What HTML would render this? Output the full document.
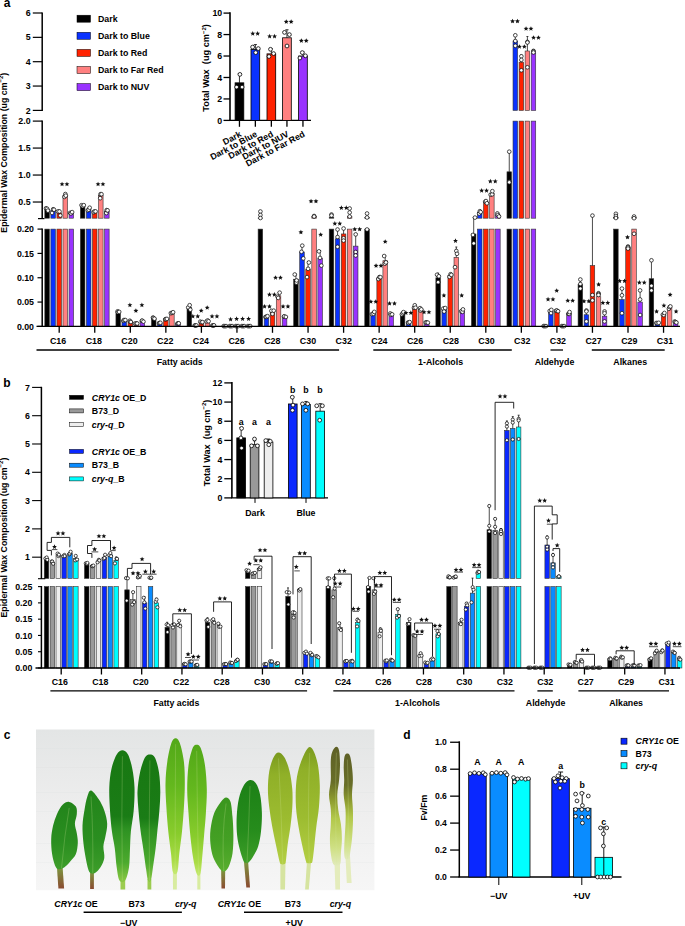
<!DOCTYPE html><html><head><meta charset="utf-8"><style>html,body{margin:0;padding:0;background:#fff;}svg{display:block;font-family:"Liberation Sans", sans-serif;}</style></head><body>
<svg width="685" height="926" viewBox="0 0 685 926">
<defs><linearGradient id="bg" x1="0" y1="0" x2="0" y2="1"><stop offset="0" stop-color="#e3e5e5"/><stop offset="0.5" stop-color="#eeeeee"/><stop offset="1" stop-color="#f6f6f6"/></linearGradient><linearGradient id="g1" x1="0" y1="0" x2="0" y2="1"><stop offset="0" stop-color="#22841a"/><stop offset="0.6" stop-color="#2a8e20"/><stop offset="1" stop-color="#3e9e2a"/></linearGradient><linearGradient id="g2" x1="0" y1="0" x2="0" y2="1"><stop offset="0" stop-color="#187812"/><stop offset="0.5" stop-color="#1a7c16"/><stop offset="0.6" stop-color="#2e9222"/><stop offset="0.85" stop-color="#4caa2e"/><stop offset="1" stop-color="#8cc844"/></linearGradient><linearGradient id="g3" x1="0" y1="0" x2="0" y2="1"><stop offset="0" stop-color="#52a818"/><stop offset="0.35" stop-color="#64b81e"/><stop offset="0.7" stop-color="#88cc2c"/><stop offset="0.9" stop-color="#aadc46"/><stop offset="1" stop-color="#c6ea72"/></linearGradient><linearGradient id="g4" x1="0" y1="0" x2="0" y2="1"><stop offset="0" stop-color="#3a961e"/><stop offset="0.6" stop-color="#44a024"/><stop offset="1" stop-color="#58ae2e"/></linearGradient><linearGradient id="g4b" x1="0" y1="0" x2="0" y2="1"><stop offset="0" stop-color="#1c8016"/><stop offset="0.6" stop-color="#268c1c"/><stop offset="1" stop-color="#3e9e28"/></linearGradient><linearGradient id="g5" x1="0" y1="0" x2="0" y2="1"><stop offset="0" stop-color="#7a9a1e"/><stop offset="0.2" stop-color="#90b028"/><stop offset="0.6" stop-color="#9cbc30"/><stop offset="1" stop-color="#b4cf44"/></linearGradient><linearGradient id="g6" x1="0" y1="0" x2="0" y2="1"><stop offset="0" stop-color="#5e6026"/><stop offset="0.3" stop-color="#686e28"/><stop offset="0.45" stop-color="#8e9c30"/><stop offset="0.6" stop-color="#b2c84a"/><stop offset="0.85" stop-color="#cfe084"/><stop offset="1" stop-color="#e2ebbc"/></linearGradient><linearGradient id="p1" x1="0" y1="0" x2="0" y2="1"><stop offset="0" stop-color="#7c9a40"/><stop offset="1" stop-color="#8a4a30"/></linearGradient></defs>
<rect x="44.83" y="229.1" width="4.55" height="97.3" fill="#000000" stroke="#333" stroke-width="0.6"/>
<rect x="44.83" y="209.25" width="4.55" height="8.95" fill="#000000" stroke="#333" stroke-width="0.6"/>
<rect x="50.88" y="229.1" width="4.55" height="97.3" fill="#0a32ff" stroke="#333" stroke-width="0.6"/>
<rect x="50.88" y="210.65" width="4.55" height="7.55" fill="#0a32ff" stroke="#333" stroke-width="0.6"/>
<rect x="56.93" y="229.1" width="4.55" height="97.3" fill="#ff2200" stroke="#333" stroke-width="0.6"/>
<rect x="56.93" y="212.81" width="4.55" height="5.39" fill="#ff2200" stroke="#333" stroke-width="0.6"/>
<rect x="62.98" y="229.1" width="4.55" height="97.3" fill="#ff8080" stroke="#333" stroke-width="0.6"/>
<rect x="62.98" y="195.54" width="4.55" height="22.66" fill="#ff8080" stroke="#333" stroke-width="0.6"/>
<rect x="69.03" y="229.1" width="4.55" height="97.3" fill="#9933ff" stroke="#333" stroke-width="0.6"/>
<rect x="69.03" y="212.81" width="4.55" height="5.39" fill="#9933ff" stroke="#333" stroke-width="0.6"/>
<rect x="80.38" y="229.1" width="4.55" height="97.3" fill="#000000" stroke="#333" stroke-width="0.6"/>
<rect x="80.38" y="205.52" width="4.55" height="12.68" fill="#000000" stroke="#333" stroke-width="0.6"/>
<rect x="86.42" y="229.1" width="4.55" height="97.3" fill="#0a32ff" stroke="#333" stroke-width="0.6"/>
<rect x="86.42" y="209.25" width="4.55" height="8.95" fill="#0a32ff" stroke="#333" stroke-width="0.6"/>
<rect x="92.47" y="229.1" width="4.55" height="97.3" fill="#ff2200" stroke="#333" stroke-width="0.6"/>
<rect x="92.47" y="211.73" width="4.55" height="6.47" fill="#ff2200" stroke="#333" stroke-width="0.6"/>
<rect x="98.53" y="229.1" width="4.55" height="97.3" fill="#ff8080" stroke="#333" stroke-width="0.6"/>
<rect x="98.53" y="195.54" width="4.55" height="22.66" fill="#ff8080" stroke="#333" stroke-width="0.6"/>
<rect x="104.58" y="229.1" width="4.55" height="97.3" fill="#9933ff" stroke="#333" stroke-width="0.6"/>
<rect x="104.58" y="211.19" width="4.55" height="7.01" fill="#9933ff" stroke="#333" stroke-width="0.6"/>
<rect x="115.93" y="311.81" width="4.55" height="14.59" fill="#000000" stroke="#333" stroke-width="0.6"/>
<rect x="121.98" y="320.32" width="4.55" height="6.08" fill="#0a32ff" stroke="#333" stroke-width="0.6"/>
<rect x="128.03" y="321.53" width="4.55" height="4.87" fill="#ff2200" stroke="#333" stroke-width="0.6"/>
<rect x="134.08" y="323.48" width="4.55" height="2.92" fill="#ff8080" stroke="#333" stroke-width="0.6"/>
<rect x="140.12" y="321.05" width="4.55" height="5.35" fill="#9933ff" stroke="#333" stroke-width="0.6"/>
<rect x="151.47" y="318.13" width="4.55" height="8.27" fill="#000000" stroke="#333" stroke-width="0.6"/>
<rect x="157.53" y="322.99" width="4.55" height="3.41" fill="#0a32ff" stroke="#333" stroke-width="0.6"/>
<rect x="163.57" y="319.1" width="4.55" height="7.3" fill="#ff2200" stroke="#333" stroke-width="0.6"/>
<rect x="169.62" y="312.78" width="4.55" height="13.62" fill="#ff8080" stroke="#333" stroke-width="0.6"/>
<rect x="175.67" y="323.48" width="4.55" height="2.92" fill="#9933ff" stroke="#333" stroke-width="0.6"/>
<rect x="187.02" y="307.43" width="4.55" height="18.97" fill="#000000" stroke="#333" stroke-width="0.6"/>
<rect x="193.07" y="325.43" width="4.55" height="0.97" fill="#0a32ff" stroke="#333" stroke-width="0.6"/>
<rect x="199.12" y="322.02" width="4.55" height="4.38" fill="#ff2200" stroke="#333" stroke-width="0.6"/>
<rect x="205.17" y="321.05" width="4.55" height="5.35" fill="#ff8080" stroke="#333" stroke-width="0.6"/>
<rect x="211.22" y="325.43" width="4.55" height="0.97" fill="#9933ff" stroke="#333" stroke-width="0.6"/>
<rect x="222.57" y="325.91" width="4.55" height="0.49" fill="#000000" stroke="#333" stroke-width="0.6"/>
<rect x="228.62" y="325.91" width="4.55" height="0.49" fill="#0a32ff" stroke="#333" stroke-width="0.6"/>
<rect x="234.67" y="325.91" width="4.55" height="0.49" fill="#ff2200" stroke="#333" stroke-width="0.6"/>
<rect x="240.72" y="325.91" width="4.55" height="0.49" fill="#ff8080" stroke="#333" stroke-width="0.6"/>
<rect x="246.77" y="325.91" width="4.55" height="0.49" fill="#9933ff" stroke="#333" stroke-width="0.6"/>
<rect x="258.12" y="229.1" width="4.55" height="97.3" fill="#000000" stroke="#333" stroke-width="0.6"/>
<rect x="258.12" y="218.04" width="4.55" height="0.16" fill="#000000" stroke="#333" stroke-width="0.6"/>
<rect x="264.18" y="316.67" width="4.55" height="9.73" fill="#0a32ff" stroke="#333" stroke-width="0.6"/>
<rect x="270.23" y="311.81" width="4.55" height="14.59" fill="#ff2200" stroke="#333" stroke-width="0.6"/>
<rect x="276.27" y="295.75" width="4.55" height="30.65" fill="#ff8080" stroke="#333" stroke-width="0.6"/>
<rect x="282.32" y="316.67" width="4.55" height="9.73" fill="#9933ff" stroke="#333" stroke-width="0.6"/>
<rect x="293.67" y="279.21" width="4.55" height="47.19" fill="#000000" stroke="#333" stroke-width="0.6"/>
<rect x="299.72" y="251.97" width="4.55" height="74.43" fill="#0a32ff" stroke="#333" stroke-width="0.6"/>
<rect x="305.77" y="269.48" width="4.55" height="56.92" fill="#ff2200" stroke="#333" stroke-width="0.6"/>
<rect x="311.82" y="229.1" width="4.55" height="97.3" fill="#ff8080" stroke="#333" stroke-width="0.6"/>
<rect x="311.82" y="216.58" width="4.55" height="1.62" fill="#ff8080" stroke="#333" stroke-width="0.6"/>
<rect x="317.87" y="258.29" width="4.55" height="68.11" fill="#9933ff" stroke="#333" stroke-width="0.6"/>
<rect x="329.22" y="229.1" width="4.55" height="97.3" fill="#000000" stroke="#333" stroke-width="0.6"/>
<rect x="329.22" y="217.12" width="4.55" height="1.08" fill="#000000" stroke="#333" stroke-width="0.6"/>
<rect x="335.27" y="238.83" width="4.55" height="87.57" fill="#0a32ff" stroke="#333" stroke-width="0.6"/>
<rect x="341.32" y="233.96" width="4.55" height="92.44" fill="#ff2200" stroke="#333" stroke-width="0.6"/>
<rect x="347.37" y="229.1" width="4.55" height="97.3" fill="#ff8080" stroke="#333" stroke-width="0.6"/>
<rect x="347.37" y="216.58" width="4.55" height="1.62" fill="#ff8080" stroke="#333" stroke-width="0.6"/>
<rect x="353.42" y="246.13" width="4.55" height="80.27" fill="#9933ff" stroke="#333" stroke-width="0.6"/>
<rect x="364.77" y="229.1" width="4.55" height="97.3" fill="#000000" stroke="#333" stroke-width="0.6"/>
<rect x="364.77" y="217.66" width="4.55" height="0.54" fill="#000000" stroke="#333" stroke-width="0.6"/>
<rect x="370.82" y="313.26" width="4.55" height="13.14" fill="#0a32ff" stroke="#333" stroke-width="0.6"/>
<rect x="376.88" y="277.75" width="4.55" height="48.65" fill="#ff2200" stroke="#333" stroke-width="0.6"/>
<rect x="382.92" y="260.72" width="4.55" height="65.68" fill="#ff8080" stroke="#333" stroke-width="0.6"/>
<rect x="388.97" y="314.24" width="4.55" height="12.16" fill="#9933ff" stroke="#333" stroke-width="0.6"/>
<rect x="400.32" y="313.26" width="4.55" height="13.14" fill="#000000" stroke="#333" stroke-width="0.6"/>
<rect x="406.38" y="322.51" width="4.55" height="3.89" fill="#0a32ff" stroke="#333" stroke-width="0.6"/>
<rect x="412.43" y="306.94" width="4.55" height="19.46" fill="#ff2200" stroke="#333" stroke-width="0.6"/>
<rect x="418.47" y="309.37" width="4.55" height="17.03" fill="#ff8080" stroke="#333" stroke-width="0.6"/>
<rect x="424.52" y="322.51" width="4.55" height="3.89" fill="#9933ff" stroke="#333" stroke-width="0.6"/>
<rect x="435.87" y="277.75" width="4.55" height="48.65" fill="#000000" stroke="#333" stroke-width="0.6"/>
<rect x="441.92" y="309.37" width="4.55" height="17.03" fill="#0a32ff" stroke="#333" stroke-width="0.6"/>
<rect x="447.97" y="275.32" width="4.55" height="51.08" fill="#ff2200" stroke="#333" stroke-width="0.6"/>
<rect x="454.02" y="257.32" width="4.55" height="69.08" fill="#ff8080" stroke="#333" stroke-width="0.6"/>
<rect x="460.07" y="310.83" width="4.55" height="15.57" fill="#9933ff" stroke="#333" stroke-width="0.6"/>
<rect x="471.42" y="233.96" width="4.55" height="92.44" fill="#000000" stroke="#333" stroke-width="0.6"/>
<rect x="477.47" y="229.1" width="4.55" height="97.3" fill="#0a32ff" stroke="#333" stroke-width="0.6"/>
<rect x="477.47" y="212.27" width="4.55" height="5.93" fill="#0a32ff" stroke="#333" stroke-width="0.6"/>
<rect x="483.52" y="229.1" width="4.55" height="97.3" fill="#ff2200" stroke="#333" stroke-width="0.6"/>
<rect x="483.52" y="202.02" width="4.55" height="16.18" fill="#ff2200" stroke="#333" stroke-width="0.6"/>
<rect x="489.57" y="229.1" width="4.55" height="97.3" fill="#ff8080" stroke="#333" stroke-width="0.6"/>
<rect x="489.57" y="193.39" width="4.55" height="24.81" fill="#ff8080" stroke="#333" stroke-width="0.6"/>
<rect x="495.62" y="229.1" width="4.55" height="97.3" fill="#9933ff" stroke="#333" stroke-width="0.6"/>
<rect x="495.62" y="214.96" width="4.55" height="3.24" fill="#9933ff" stroke="#333" stroke-width="0.6"/>
<rect x="506.98" y="229.1" width="4.55" height="97.3" fill="#000000" stroke="#333" stroke-width="0.6"/>
<rect x="506.98" y="171.81" width="4.55" height="46.39" fill="#000000" stroke="#333" stroke-width="0.6"/>
<rect x="513.02" y="229.1" width="4.55" height="97.3" fill="#0a32ff" stroke="#333" stroke-width="0.6"/>
<rect x="513.02" y="121.1" width="4.55" height="97.1" fill="#0a32ff" stroke="#333" stroke-width="0.6"/>
<rect x="513.02" y="41" width="4.55" height="69.4" fill="#0a32ff" stroke="#333" stroke-width="0.6"/>
<rect x="519.08" y="229.1" width="4.55" height="97.3" fill="#ff2200" stroke="#333" stroke-width="0.6"/>
<rect x="519.08" y="121.1" width="4.55" height="97.1" fill="#ff2200" stroke="#333" stroke-width="0.6"/>
<rect x="519.08" y="62.19" width="4.55" height="48.21" fill="#ff2200" stroke="#333" stroke-width="0.6"/>
<rect x="525.12" y="229.1" width="4.55" height="97.3" fill="#ff8080" stroke="#333" stroke-width="0.6"/>
<rect x="525.12" y="121.1" width="4.55" height="97.1" fill="#ff8080" stroke="#333" stroke-width="0.6"/>
<rect x="525.12" y="50.99" width="4.55" height="59.41" fill="#ff8080" stroke="#333" stroke-width="0.6"/>
<rect x="531.18" y="229.1" width="4.55" height="97.3" fill="#9933ff" stroke="#333" stroke-width="0.6"/>
<rect x="531.18" y="121.1" width="4.55" height="97.1" fill="#9933ff" stroke="#333" stroke-width="0.6"/>
<rect x="531.18" y="52.93" width="4.55" height="57.47" fill="#9933ff" stroke="#333" stroke-width="0.6"/>
<rect x="548.57" y="311.32" width="4.55" height="15.08" fill="#0a32ff" stroke="#333" stroke-width="0.6"/>
<rect x="554.62" y="310.83" width="4.55" height="15.57" fill="#ff2200" stroke="#333" stroke-width="0.6"/>
<rect x="566.73" y="313.26" width="4.55" height="13.14" fill="#9933ff" stroke="#333" stroke-width="0.6"/>
<rect x="578.08" y="284.56" width="4.55" height="41.84" fill="#000000" stroke="#333" stroke-width="0.6"/>
<rect x="584.12" y="314.72" width="4.55" height="11.68" fill="#0a32ff" stroke="#333" stroke-width="0.6"/>
<rect x="590.18" y="265.59" width="4.55" height="60.81" fill="#ff2200" stroke="#333" stroke-width="0.6"/>
<rect x="596.23" y="296.72" width="4.55" height="29.68" fill="#ff8080" stroke="#333" stroke-width="0.6"/>
<rect x="602.28" y="316.18" width="4.55" height="10.22" fill="#9933ff" stroke="#333" stroke-width="0.6"/>
<rect x="613.62" y="229.1" width="4.55" height="97.3" fill="#000000" stroke="#333" stroke-width="0.6"/>
<rect x="613.62" y="217.66" width="4.55" height="0.54" fill="#000000" stroke="#333" stroke-width="0.6"/>
<rect x="619.67" y="299.64" width="4.55" height="26.76" fill="#0a32ff" stroke="#333" stroke-width="0.6"/>
<rect x="625.73" y="247.59" width="4.55" height="78.81" fill="#ff2200" stroke="#333" stroke-width="0.6"/>
<rect x="631.77" y="229.1" width="4.55" height="97.3" fill="#ff8080" stroke="#333" stroke-width="0.6"/>
<rect x="631.77" y="217.66" width="4.55" height="0.54" fill="#ff8080" stroke="#333" stroke-width="0.6"/>
<rect x="637.83" y="302.07" width="4.55" height="24.32" fill="#9933ff" stroke="#333" stroke-width="0.6"/>
<rect x="649.17" y="278.72" width="4.55" height="47.68" fill="#000000" stroke="#333" stroke-width="0.6"/>
<rect x="655.22" y="322.99" width="4.55" height="3.41" fill="#0a32ff" stroke="#333" stroke-width="0.6"/>
<rect x="661.27" y="314.24" width="4.55" height="12.16" fill="#ff2200" stroke="#333" stroke-width="0.6"/>
<rect x="667.32" y="307.43" width="4.55" height="18.97" fill="#ff8080" stroke="#333" stroke-width="0.6"/>
<rect x="673.38" y="322.02" width="4.55" height="4.38" fill="#9933ff" stroke="#333" stroke-width="0.6"/>
<line x1="47.1" y1="209.25" x2="47.1" y2="207.77" stroke="#000" stroke-width="0.7"/>
<line x1="46.1" y1="207.77" x2="48.1" y2="207.77" stroke="#000" stroke-width="0.7"/>
<circle cx="46.01" cy="208.3" r="1.85" fill="#fff" stroke="#000" stroke-width="0.7"/>
<circle cx="47.11" cy="208.78" r="1.85" fill="#fff" stroke="#000" stroke-width="0.7"/>
<circle cx="47.92" cy="210.65" r="1.85" fill="#fff" stroke="#000" stroke-width="0.7"/>
<line x1="53.15" y1="210.65" x2="53.15" y2="208.23" stroke="#000" stroke-width="0.7"/>
<line x1="52.15" y1="208.23" x2="54.15" y2="208.23" stroke="#000" stroke-width="0.7"/>
<circle cx="52.05" cy="212.95" r="1.85" fill="#fff" stroke="#000" stroke-width="0.7"/>
<circle cx="53.15" cy="209.28" r="1.85" fill="#fff" stroke="#000" stroke-width="0.7"/>
<circle cx="54.01" cy="209.71" r="1.85" fill="#fff" stroke="#000" stroke-width="0.7"/>
<line x1="59.2" y1="212.81" x2="59.2" y2="209.97" stroke="#000" stroke-width="0.7"/>
<line x1="58.2" y1="209.97" x2="60.2" y2="209.97" stroke="#000" stroke-width="0.7"/>
<circle cx="57.97" cy="211.43" r="1.85" fill="#fff" stroke="#000" stroke-width="0.7"/>
<circle cx="59.47" cy="211.47" r="1.85" fill="#fff" stroke="#000" stroke-width="0.7"/>
<circle cx="60.29" cy="215.51" r="1.85" fill="#fff" stroke="#000" stroke-width="0.7"/>
<line x1="65.25" y1="195.54" x2="65.25" y2="193.97" stroke="#000" stroke-width="0.7"/>
<line x1="64.25" y1="193.97" x2="66.25" y2="193.97" stroke="#000" stroke-width="0.7"/>
<circle cx="64.43" cy="196.91" r="1.85" fill="#fff" stroke="#000" stroke-width="0.7"/>
<circle cx="65.35" cy="194.04" r="1.85" fill="#fff" stroke="#000" stroke-width="0.7"/>
<circle cx="65.8" cy="195.68" r="1.85" fill="#fff" stroke="#000" stroke-width="0.7"/>
<line x1="71.3" y1="212.81" x2="71.3" y2="212.09" stroke="#000" stroke-width="0.7"/>
<line x1="70.3" y1="212.09" x2="72.3" y2="212.09" stroke="#000" stroke-width="0.7"/>
<circle cx="70.12" cy="212.85" r="1.85" fill="#fff" stroke="#000" stroke-width="0.7"/>
<circle cx="70.95" cy="213.45" r="1.85" fill="#fff" stroke="#000" stroke-width="0.7"/>
<circle cx="72.12" cy="212.12" r="1.85" fill="#fff" stroke="#000" stroke-width="0.7"/>
<line x1="82.65" y1="205.52" x2="82.65" y2="204.85" stroke="#000" stroke-width="0.7"/>
<line x1="81.65" y1="204.85" x2="83.65" y2="204.85" stroke="#000" stroke-width="0.7"/>
<circle cx="81.51" cy="205.23" r="1.85" fill="#fff" stroke="#000" stroke-width="0.7"/>
<circle cx="82.9" cy="206.16" r="1.85" fill="#fff" stroke="#000" stroke-width="0.7"/>
<circle cx="83.81" cy="205.18" r="1.85" fill="#fff" stroke="#000" stroke-width="0.7"/>
<line x1="88.7" y1="209.25" x2="88.7" y2="207.63" stroke="#000" stroke-width="0.7"/>
<line x1="87.7" y1="207.63" x2="89.7" y2="207.63" stroke="#000" stroke-width="0.7"/>
<circle cx="87.77" cy="210.31" r="1.85" fill="#fff" stroke="#000" stroke-width="0.7"/>
<circle cx="88.71" cy="209.72" r="1.85" fill="#fff" stroke="#000" stroke-width="0.7"/>
<circle cx="89.67" cy="207.7" r="1.85" fill="#fff" stroke="#000" stroke-width="0.7"/>
<line x1="94.75" y1="211.73" x2="94.75" y2="211.09" stroke="#000" stroke-width="0.7"/>
<line x1="93.75" y1="211.09" x2="95.75" y2="211.09" stroke="#000" stroke-width="0.7"/>
<circle cx="93.56" cy="212.33" r="1.85" fill="#fff" stroke="#000" stroke-width="0.7"/>
<circle cx="94.36" cy="211.45" r="1.85" fill="#fff" stroke="#000" stroke-width="0.7"/>
<circle cx="95.55" cy="211.4" r="1.85" fill="#fff" stroke="#000" stroke-width="0.7"/>
<line x1="100.8" y1="195.54" x2="100.8" y2="192.75" stroke="#000" stroke-width="0.7"/>
<line x1="99.8" y1="192.75" x2="101.8" y2="192.75" stroke="#000" stroke-width="0.7"/>
<circle cx="100.18" cy="198.2" r="1.85" fill="#fff" stroke="#000" stroke-width="0.7"/>
<circle cx="100.55" cy="194.21" r="1.85" fill="#fff" stroke="#000" stroke-width="0.7"/>
<circle cx="101.48" cy="194.22" r="1.85" fill="#fff" stroke="#000" stroke-width="0.7"/>
<line x1="106.85" y1="211.19" x2="106.85" y2="209.2" stroke="#000" stroke-width="0.7"/>
<line x1="105.85" y1="209.2" x2="107.85" y2="209.2" stroke="#000" stroke-width="0.7"/>
<circle cx="106.3" cy="213.08" r="1.85" fill="#fff" stroke="#000" stroke-width="0.7"/>
<circle cx="106.67" cy="210.11" r="1.85" fill="#fff" stroke="#000" stroke-width="0.7"/>
<circle cx="107.55" cy="210.37" r="1.85" fill="#fff" stroke="#000" stroke-width="0.7"/>
<line x1="118.2" y1="311.81" x2="118.2" y2="311.29" stroke="#000" stroke-width="0.7"/>
<line x1="117.2" y1="311.29" x2="119.2" y2="311.29" stroke="#000" stroke-width="0.7"/>
<circle cx="117.62" cy="311.32" r="1.85" fill="#fff" stroke="#000" stroke-width="0.7"/>
<circle cx="118.01" cy="312.21" r="1.85" fill="#fff" stroke="#000" stroke-width="0.7"/>
<circle cx="119.21" cy="311.89" r="1.85" fill="#fff" stroke="#000" stroke-width="0.7"/>
<line x1="124.25" y1="320.32" x2="124.25" y2="319.73" stroke="#000" stroke-width="0.7"/>
<line x1="123.25" y1="319.73" x2="125.25" y2="319.73" stroke="#000" stroke-width="0.7"/>
<circle cx="123.33" cy="320.88" r="1.85" fill="#fff" stroke="#000" stroke-width="0.7"/>
<circle cx="124.02" cy="319.99" r="1.85" fill="#fff" stroke="#000" stroke-width="0.7"/>
<circle cx="125.38" cy="320.08" r="1.85" fill="#fff" stroke="#000" stroke-width="0.7"/>
<line x1="130.3" y1="321.53" x2="130.3" y2="320.7" stroke="#000" stroke-width="0.7"/>
<line x1="129.3" y1="320.7" x2="131.3" y2="320.7" stroke="#000" stroke-width="0.7"/>
<circle cx="129.8" cy="320.74" r="1.85" fill="#fff" stroke="#000" stroke-width="0.7"/>
<circle cx="130.05" cy="321.85" r="1.85" fill="#fff" stroke="#000" stroke-width="0.7"/>
<circle cx="130.9" cy="322.01" r="1.85" fill="#fff" stroke="#000" stroke-width="0.7"/>
<line x1="136.35" y1="323.48" x2="136.35" y2="323.46" stroke="#000" stroke-width="0.7"/>
<line x1="135.35" y1="323.46" x2="137.35" y2="323.46" stroke="#000" stroke-width="0.7"/>
<circle cx="135.12" cy="323.48" r="1.85" fill="#fff" stroke="#000" stroke-width="0.7"/>
<circle cx="136.42" cy="323.46" r="1.85" fill="#fff" stroke="#000" stroke-width="0.7"/>
<circle cx="137.19" cy="323.51" r="1.85" fill="#fff" stroke="#000" stroke-width="0.7"/>
<line x1="142.4" y1="321.05" x2="142.4" y2="320.43" stroke="#000" stroke-width="0.7"/>
<line x1="141.4" y1="320.43" x2="143.4" y2="320.43" stroke="#000" stroke-width="0.7"/>
<circle cx="141.9" cy="320.85" r="1.85" fill="#fff" stroke="#000" stroke-width="0.7"/>
<circle cx="142.16" cy="320.66" r="1.85" fill="#fff" stroke="#000" stroke-width="0.7"/>
<circle cx="143.44" cy="321.64" r="1.85" fill="#fff" stroke="#000" stroke-width="0.7"/>
<line x1="153.75" y1="318.13" x2="153.75" y2="317.51" stroke="#000" stroke-width="0.7"/>
<line x1="152.75" y1="317.51" x2="154.75" y2="317.51" stroke="#000" stroke-width="0.7"/>
<circle cx="152.97" cy="317.54" r="1.85" fill="#fff" stroke="#000" stroke-width="0.7"/>
<circle cx="153.52" cy="318.12" r="1.85" fill="#fff" stroke="#000" stroke-width="0.7"/>
<circle cx="154.46" cy="318.72" r="1.85" fill="#fff" stroke="#000" stroke-width="0.7"/>
<line x1="159.8" y1="322.99" x2="159.8" y2="322.77" stroke="#000" stroke-width="0.7"/>
<line x1="158.8" y1="322.77" x2="160.8" y2="322.77" stroke="#000" stroke-width="0.7"/>
<circle cx="159.05" cy="323.15" r="1.85" fill="#fff" stroke="#000" stroke-width="0.7"/>
<circle cx="159.51" cy="323.05" r="1.85" fill="#fff" stroke="#000" stroke-width="0.7"/>
<circle cx="160.39" cy="322.78" r="1.85" fill="#fff" stroke="#000" stroke-width="0.7"/>
<line x1="165.85" y1="319.1" x2="165.85" y2="318.84" stroke="#000" stroke-width="0.7"/>
<line x1="164.85" y1="318.84" x2="166.85" y2="318.84" stroke="#000" stroke-width="0.7"/>
<circle cx="165.27" cy="319.35" r="1.85" fill="#fff" stroke="#000" stroke-width="0.7"/>
<circle cx="165.85" cy="319.07" r="1.85" fill="#fff" stroke="#000" stroke-width="0.7"/>
<circle cx="166.93" cy="318.89" r="1.85" fill="#fff" stroke="#000" stroke-width="0.7"/>
<line x1="171.9" y1="312.78" x2="171.9" y2="312.2" stroke="#000" stroke-width="0.7"/>
<line x1="170.9" y1="312.2" x2="172.9" y2="312.2" stroke="#000" stroke-width="0.7"/>
<circle cx="170.82" cy="313.17" r="1.85" fill="#fff" stroke="#000" stroke-width="0.7"/>
<circle cx="172.02" cy="312.93" r="1.85" fill="#fff" stroke="#000" stroke-width="0.7"/>
<circle cx="173.11" cy="312.23" r="1.85" fill="#fff" stroke="#000" stroke-width="0.7"/>
<line x1="177.95" y1="323.48" x2="177.95" y2="323.32" stroke="#000" stroke-width="0.7"/>
<line x1="176.95" y1="323.32" x2="178.95" y2="323.32" stroke="#000" stroke-width="0.7"/>
<circle cx="177.37" cy="323.58" r="1.85" fill="#fff" stroke="#000" stroke-width="0.7"/>
<circle cx="178.26" cy="323.54" r="1.85" fill="#fff" stroke="#000" stroke-width="0.7"/>
<circle cx="178.74" cy="323.33" r="1.85" fill="#fff" stroke="#000" stroke-width="0.7"/>
<line x1="189.3" y1="307.43" x2="189.3" y2="305.06" stroke="#000" stroke-width="0.7"/>
<line x1="188.3" y1="305.06" x2="190.3" y2="305.06" stroke="#000" stroke-width="0.7"/>
<circle cx="188.23" cy="307.41" r="1.85" fill="#fff" stroke="#000" stroke-width="0.7"/>
<circle cx="189.67" cy="305.19" r="1.85" fill="#fff" stroke="#000" stroke-width="0.7"/>
<circle cx="190.33" cy="309.68" r="1.85" fill="#fff" stroke="#000" stroke-width="0.7"/>
<line x1="195.35" y1="325.43" x2="195.35" y2="325.39" stroke="#000" stroke-width="0.7"/>
<line x1="194.35" y1="325.39" x2="196.35" y2="325.39" stroke="#000" stroke-width="0.7"/>
<circle cx="194.78" cy="325.39" r="1.85" fill="#fff" stroke="#000" stroke-width="0.7"/>
<circle cx="195.41" cy="325.43" r="1.85" fill="#fff" stroke="#000" stroke-width="0.7"/>
<circle cx="196.4" cy="325.45" r="1.85" fill="#fff" stroke="#000" stroke-width="0.7"/>
<line x1="201.4" y1="322.02" x2="201.4" y2="321.6" stroke="#000" stroke-width="0.7"/>
<line x1="200.4" y1="321.6" x2="202.4" y2="321.6" stroke="#000" stroke-width="0.7"/>
<circle cx="200.28" cy="321.62" r="1.85" fill="#fff" stroke="#000" stroke-width="0.7"/>
<circle cx="201.59" cy="322.37" r="1.85" fill="#fff" stroke="#000" stroke-width="0.7"/>
<circle cx="202.44" cy="322.07" r="1.85" fill="#fff" stroke="#000" stroke-width="0.7"/>
<line x1="207.45" y1="321.05" x2="207.45" y2="320.41" stroke="#000" stroke-width="0.7"/>
<line x1="206.45" y1="320.41" x2="208.45" y2="320.41" stroke="#000" stroke-width="0.7"/>
<circle cx="206.52" cy="321.43" r="1.85" fill="#fff" stroke="#000" stroke-width="0.7"/>
<circle cx="207.59" cy="320.44" r="1.85" fill="#fff" stroke="#000" stroke-width="0.7"/>
<circle cx="208.58" cy="321.27" r="1.85" fill="#fff" stroke="#000" stroke-width="0.7"/>
<line x1="213.5" y1="325.43" x2="213.5" y2="325.35" stroke="#000" stroke-width="0.7"/>
<line x1="212.5" y1="325.35" x2="214.5" y2="325.35" stroke="#000" stroke-width="0.7"/>
<circle cx="212.34" cy="325.48" r="1.85" fill="#fff" stroke="#000" stroke-width="0.7"/>
<circle cx="213.28" cy="325.44" r="1.85" fill="#fff" stroke="#000" stroke-width="0.7"/>
<circle cx="214.02" cy="325.36" r="1.85" fill="#fff" stroke="#000" stroke-width="0.7"/>
<circle cx="223.65" cy="326.1" r="1.85" fill="#fff" stroke="#000" stroke-width="0.7"/>
<circle cx="224.85" cy="326.1" r="1.85" fill="#fff" stroke="#000" stroke-width="0.7"/>
<circle cx="226.05" cy="326.1" r="1.85" fill="#fff" stroke="#000" stroke-width="0.7"/>
<circle cx="229.7" cy="326.1" r="1.85" fill="#fff" stroke="#000" stroke-width="0.7"/>
<circle cx="230.9" cy="326.1" r="1.85" fill="#fff" stroke="#000" stroke-width="0.7"/>
<circle cx="232.1" cy="326.1" r="1.85" fill="#fff" stroke="#000" stroke-width="0.7"/>
<circle cx="235.75" cy="326.1" r="1.85" fill="#fff" stroke="#000" stroke-width="0.7"/>
<circle cx="236.95" cy="326.1" r="1.85" fill="#fff" stroke="#000" stroke-width="0.7"/>
<circle cx="238.15" cy="326.1" r="1.85" fill="#fff" stroke="#000" stroke-width="0.7"/>
<circle cx="241.8" cy="326.1" r="1.85" fill="#fff" stroke="#000" stroke-width="0.7"/>
<circle cx="243" cy="326.1" r="1.85" fill="#fff" stroke="#000" stroke-width="0.7"/>
<circle cx="244.2" cy="326.1" r="1.85" fill="#fff" stroke="#000" stroke-width="0.7"/>
<circle cx="247.85" cy="326.1" r="1.85" fill="#fff" stroke="#000" stroke-width="0.7"/>
<circle cx="249.05" cy="326.1" r="1.85" fill="#fff" stroke="#000" stroke-width="0.7"/>
<circle cx="250.25" cy="326.1" r="1.85" fill="#fff" stroke="#000" stroke-width="0.7"/>
<circle cx="260.4" cy="211.5" r="1.85" fill="#fff" stroke="#000" stroke-width="0.7"/>
<circle cx="260.4" cy="215" r="1.85" fill="#fff" stroke="#000" stroke-width="0.7"/>
<circle cx="260.4" cy="218" r="1.85" fill="#fff" stroke="#000" stroke-width="0.7"/>
<line x1="266.45" y1="316.67" x2="266.45" y2="316.13" stroke="#000" stroke-width="0.7"/>
<line x1="265.45" y1="316.13" x2="267.45" y2="316.13" stroke="#000" stroke-width="0.7"/>
<circle cx="265.41" cy="317.01" r="1.85" fill="#fff" stroke="#000" stroke-width="0.7"/>
<circle cx="266.31" cy="316.84" r="1.85" fill="#fff" stroke="#000" stroke-width="0.7"/>
<circle cx="267.5" cy="316.15" r="1.85" fill="#fff" stroke="#000" stroke-width="0.7"/>
<line x1="272.5" y1="311.81" x2="272.5" y2="309.58" stroke="#000" stroke-width="0.7"/>
<line x1="271.5" y1="309.58" x2="273.5" y2="309.58" stroke="#000" stroke-width="0.7"/>
<circle cx="271.39" cy="310.83" r="1.85" fill="#fff" stroke="#000" stroke-width="0.7"/>
<circle cx="272.47" cy="313.92" r="1.85" fill="#fff" stroke="#000" stroke-width="0.7"/>
<circle cx="273.72" cy="310.66" r="1.85" fill="#fff" stroke="#000" stroke-width="0.7"/>
<line x1="278.55" y1="295.75" x2="278.55" y2="292.51" stroke="#000" stroke-width="0.7"/>
<line x1="277.55" y1="292.51" x2="279.55" y2="292.51" stroke="#000" stroke-width="0.7"/>
<circle cx="277.64" cy="296.65" r="1.85" fill="#fff" stroke="#000" stroke-width="0.7"/>
<circle cx="278.22" cy="297.94" r="1.85" fill="#fff" stroke="#000" stroke-width="0.7"/>
<circle cx="279.65" cy="292.66" r="1.85" fill="#fff" stroke="#000" stroke-width="0.7"/>
<line x1="284.6" y1="316.67" x2="284.6" y2="316.31" stroke="#000" stroke-width="0.7"/>
<line x1="283.6" y1="316.31" x2="285.6" y2="316.31" stroke="#000" stroke-width="0.7"/>
<circle cx="284.04" cy="316.74" r="1.85" fill="#fff" stroke="#000" stroke-width="0.7"/>
<circle cx="284.21" cy="316.32" r="1.85" fill="#fff" stroke="#000" stroke-width="0.7"/>
<circle cx="285.89" cy="316.94" r="1.85" fill="#fff" stroke="#000" stroke-width="0.7"/>
<line x1="295.95" y1="279.21" x2="295.95" y2="274.28" stroke="#000" stroke-width="0.7"/>
<line x1="294.95" y1="274.28" x2="296.95" y2="274.28" stroke="#000" stroke-width="0.7"/>
<circle cx="294.76" cy="274.51" r="1.85" fill="#fff" stroke="#000" stroke-width="0.7"/>
<circle cx="296.35" cy="282.65" r="1.85" fill="#fff" stroke="#000" stroke-width="0.7"/>
<circle cx="296.57" cy="280.46" r="1.85" fill="#fff" stroke="#000" stroke-width="0.7"/>
<line x1="302" y1="251.97" x2="302" y2="245.2" stroke="#000" stroke-width="0.7"/>
<line x1="301" y1="245.2" x2="303" y2="245.2" stroke="#000" stroke-width="0.7"/>
<circle cx="301.49" cy="251.83" r="1.85" fill="#fff" stroke="#000" stroke-width="0.7"/>
<circle cx="302.26" cy="245.66" r="1.85" fill="#fff" stroke="#000" stroke-width="0.7"/>
<circle cx="303.3" cy="258.4" r="1.85" fill="#fff" stroke="#000" stroke-width="0.7"/>
<line x1="308.05" y1="269.48" x2="308.05" y2="261.46" stroke="#000" stroke-width="0.7"/>
<line x1="307.05" y1="261.46" x2="309.05" y2="261.46" stroke="#000" stroke-width="0.7"/>
<circle cx="307.03" cy="277.11" r="1.85" fill="#fff" stroke="#000" stroke-width="0.7"/>
<circle cx="308.09" cy="268.81" r="1.85" fill="#fff" stroke="#000" stroke-width="0.7"/>
<circle cx="308.85" cy="262.51" r="1.85" fill="#fff" stroke="#000" stroke-width="0.7"/>
<circle cx="314.1" cy="216" r="1.85" fill="#fff" stroke="#000" stroke-width="0.7"/>
<circle cx="314.1" cy="216.5" r="1.85" fill="#fff" stroke="#000" stroke-width="0.7"/>
<line x1="320.15" y1="258.29" x2="320.15" y2="250.63" stroke="#000" stroke-width="0.7"/>
<line x1="319.15" y1="250.63" x2="321.15" y2="250.63" stroke="#000" stroke-width="0.7"/>
<circle cx="318.95" cy="251.36" r="1.85" fill="#fff" stroke="#000" stroke-width="0.7"/>
<circle cx="320" cy="257.93" r="1.85" fill="#fff" stroke="#000" stroke-width="0.7"/>
<circle cx="321.35" cy="265.59" r="1.85" fill="#fff" stroke="#000" stroke-width="0.7"/>
<circle cx="331.5" cy="214.5" r="1.85" fill="#fff" stroke="#000" stroke-width="0.7"/>
<circle cx="331.5" cy="215.5" r="1.85" fill="#fff" stroke="#000" stroke-width="0.7"/>
<line x1="337.55" y1="238.83" x2="337.55" y2="229.5" stroke="#000" stroke-width="0.7"/>
<line x1="336.55" y1="229.5" x2="338.55" y2="229.5" stroke="#000" stroke-width="0.7"/>
<circle cx="337.55" cy="229.5" r="1.85" fill="#fff" stroke="#000" stroke-width="0.7"/>
<circle cx="337.55" cy="237" r="1.85" fill="#fff" stroke="#000" stroke-width="0.7"/>
<circle cx="337.55" cy="246.8" r="1.85" fill="#fff" stroke="#000" stroke-width="0.7"/>
<line x1="343.6" y1="233.96" x2="343.6" y2="228.2" stroke="#000" stroke-width="0.7"/>
<line x1="342.6" y1="228.2" x2="344.6" y2="228.2" stroke="#000" stroke-width="0.7"/>
<circle cx="343.6" cy="228.5" r="1.85" fill="#fff" stroke="#000" stroke-width="0.7"/>
<circle cx="343.6" cy="238.2" r="1.85" fill="#fff" stroke="#000" stroke-width="0.7"/>
<circle cx="343.6" cy="240.6" r="1.85" fill="#fff" stroke="#000" stroke-width="0.7"/>
<circle cx="349.65" cy="208.5" r="1.85" fill="#fff" stroke="#000" stroke-width="0.7"/>
<circle cx="349.65" cy="212.5" r="1.85" fill="#fff" stroke="#000" stroke-width="0.7"/>
<circle cx="349.65" cy="216.5" r="1.85" fill="#fff" stroke="#000" stroke-width="0.7"/>
<line x1="355.7" y1="246.13" x2="355.7" y2="234.4" stroke="#000" stroke-width="0.7"/>
<line x1="354.7" y1="234.4" x2="356.7" y2="234.4" stroke="#000" stroke-width="0.7"/>
<circle cx="355.7" cy="234.4" r="1.85" fill="#fff" stroke="#000" stroke-width="0.7"/>
<circle cx="355.7" cy="252" r="1.85" fill="#fff" stroke="#000" stroke-width="0.7"/>
<circle cx="355.7" cy="255.5" r="1.85" fill="#fff" stroke="#000" stroke-width="0.7"/>
<circle cx="367.05" cy="213.5" r="1.85" fill="#fff" stroke="#000" stroke-width="0.7"/>
<circle cx="367.05" cy="217.5" r="1.85" fill="#fff" stroke="#000" stroke-width="0.7"/>
<circle cx="367.05" cy="229.5" r="1.85" fill="#fff" stroke="#000" stroke-width="0.7"/>
<line x1="373.1" y1="313.26" x2="373.1" y2="311.83" stroke="#000" stroke-width="0.7"/>
<line x1="372.1" y1="311.83" x2="374.1" y2="311.83" stroke="#000" stroke-width="0.7"/>
<circle cx="371.93" cy="314.11" r="1.85" fill="#fff" stroke="#000" stroke-width="0.7"/>
<circle cx="373.46" cy="313.78" r="1.85" fill="#fff" stroke="#000" stroke-width="0.7"/>
<circle cx="374.28" cy="311.9" r="1.85" fill="#fff" stroke="#000" stroke-width="0.7"/>
<line x1="379.15" y1="277.75" x2="379.15" y2="276.41" stroke="#000" stroke-width="0.7"/>
<line x1="378.15" y1="276.41" x2="380.15" y2="276.41" stroke="#000" stroke-width="0.7"/>
<circle cx="378.32" cy="279.03" r="1.85" fill="#fff" stroke="#000" stroke-width="0.7"/>
<circle cx="379.39" cy="277.07" r="1.85" fill="#fff" stroke="#000" stroke-width="0.7"/>
<circle cx="380.42" cy="277.16" r="1.85" fill="#fff" stroke="#000" stroke-width="0.7"/>
<line x1="385.2" y1="260.72" x2="385.2" y2="255.8" stroke="#000" stroke-width="0.7"/>
<line x1="384.2" y1="255.8" x2="386.2" y2="255.8" stroke="#000" stroke-width="0.7"/>
<circle cx="384.18" cy="256.04" r="1.85" fill="#fff" stroke="#000" stroke-width="0.7"/>
<circle cx="384.89" cy="263.72" r="1.85" fill="#fff" stroke="#000" stroke-width="0.7"/>
<circle cx="385.98" cy="262.41" r="1.85" fill="#fff" stroke="#000" stroke-width="0.7"/>
<line x1="391.25" y1="314.24" x2="391.25" y2="313.42" stroke="#000" stroke-width="0.7"/>
<line x1="390.25" y1="313.42" x2="392.25" y2="313.42" stroke="#000" stroke-width="0.7"/>
<circle cx="390.29" cy="313.45" r="1.85" fill="#fff" stroke="#000" stroke-width="0.7"/>
<circle cx="390.86" cy="314.89" r="1.85" fill="#fff" stroke="#000" stroke-width="0.7"/>
<circle cx="392.15" cy="314.36" r="1.85" fill="#fff" stroke="#000" stroke-width="0.7"/>
<line x1="402.6" y1="313.26" x2="402.6" y2="312.05" stroke="#000" stroke-width="0.7"/>
<line x1="401.6" y1="312.05" x2="403.6" y2="312.05" stroke="#000" stroke-width="0.7"/>
<circle cx="401.86" cy="314.41" r="1.85" fill="#fff" stroke="#000" stroke-width="0.7"/>
<circle cx="402.79" cy="313.27" r="1.85" fill="#fff" stroke="#000" stroke-width="0.7"/>
<circle cx="403.45" cy="312.11" r="1.85" fill="#fff" stroke="#000" stroke-width="0.7"/>
<line x1="408.65" y1="322.51" x2="408.65" y2="322.07" stroke="#000" stroke-width="0.7"/>
<line x1="407.65" y1="322.07" x2="409.65" y2="322.07" stroke="#000" stroke-width="0.7"/>
<circle cx="408.09" cy="322.51" r="1.85" fill="#fff" stroke="#000" stroke-width="0.7"/>
<circle cx="408.62" cy="322.93" r="1.85" fill="#fff" stroke="#000" stroke-width="0.7"/>
<circle cx="409.68" cy="322.09" r="1.85" fill="#fff" stroke="#000" stroke-width="0.7"/>
<line x1="414.7" y1="306.94" x2="414.7" y2="305.2" stroke="#000" stroke-width="0.7"/>
<line x1="413.7" y1="305.2" x2="415.7" y2="305.2" stroke="#000" stroke-width="0.7"/>
<circle cx="413.97" cy="307.83" r="1.85" fill="#fff" stroke="#000" stroke-width="0.7"/>
<circle cx="414.79" cy="305.28" r="1.85" fill="#fff" stroke="#000" stroke-width="0.7"/>
<circle cx="415.51" cy="307.71" r="1.85" fill="#fff" stroke="#000" stroke-width="0.7"/>
<line x1="420.75" y1="309.37" x2="420.75" y2="308.06" stroke="#000" stroke-width="0.7"/>
<line x1="419.75" y1="308.06" x2="421.75" y2="308.06" stroke="#000" stroke-width="0.7"/>
<circle cx="420.04" cy="308.13" r="1.85" fill="#fff" stroke="#000" stroke-width="0.7"/>
<circle cx="420.52" cy="310.62" r="1.85" fill="#fff" stroke="#000" stroke-width="0.7"/>
<circle cx="421.31" cy="309.37" r="1.85" fill="#fff" stroke="#000" stroke-width="0.7"/>
<line x1="426.8" y1="322.51" x2="426.8" y2="322.37" stroke="#000" stroke-width="0.7"/>
<line x1="425.8" y1="322.37" x2="427.8" y2="322.37" stroke="#000" stroke-width="0.7"/>
<circle cx="425.68" cy="322.39" r="1.85" fill="#fff" stroke="#000" stroke-width="0.7"/>
<circle cx="426.66" cy="322.49" r="1.85" fill="#fff" stroke="#000" stroke-width="0.7"/>
<circle cx="427.87" cy="322.64" r="1.85" fill="#fff" stroke="#000" stroke-width="0.7"/>
<line x1="438.15" y1="277.75" x2="438.15" y2="273.08" stroke="#000" stroke-width="0.7"/>
<line x1="437.15" y1="273.08" x2="439.15" y2="273.08" stroke="#000" stroke-width="0.7"/>
<circle cx="437.05" cy="274.76" r="1.85" fill="#fff" stroke="#000" stroke-width="0.7"/>
<circle cx="438.14" cy="282.2" r="1.85" fill="#fff" stroke="#000" stroke-width="0.7"/>
<circle cx="438.87" cy="276.29" r="1.85" fill="#fff" stroke="#000" stroke-width="0.7"/>
<line x1="444.2" y1="309.37" x2="444.2" y2="307.13" stroke="#000" stroke-width="0.7"/>
<line x1="443.2" y1="307.13" x2="445.2" y2="307.13" stroke="#000" stroke-width="0.7"/>
<circle cx="443.3" cy="308.58" r="1.85" fill="#fff" stroke="#000" stroke-width="0.7"/>
<circle cx="444.12" cy="311.51" r="1.85" fill="#fff" stroke="#000" stroke-width="0.7"/>
<circle cx="445.19" cy="308.03" r="1.85" fill="#fff" stroke="#000" stroke-width="0.7"/>
<line x1="450.25" y1="275.32" x2="450.25" y2="273.7" stroke="#000" stroke-width="0.7"/>
<line x1="449.25" y1="273.7" x2="451.25" y2="273.7" stroke="#000" stroke-width="0.7"/>
<circle cx="449.51" cy="276.86" r="1.85" fill="#fff" stroke="#000" stroke-width="0.7"/>
<circle cx="450.57" cy="274.22" r="1.85" fill="#fff" stroke="#000" stroke-width="0.7"/>
<circle cx="451.35" cy="274.88" r="1.85" fill="#fff" stroke="#000" stroke-width="0.7"/>
<line x1="456.3" y1="257.32" x2="456.3" y2="246.97" stroke="#000" stroke-width="0.7"/>
<line x1="455.3" y1="246.97" x2="457.3" y2="246.97" stroke="#000" stroke-width="0.7"/>
<circle cx="455.01" cy="267.17" r="1.85" fill="#fff" stroke="#000" stroke-width="0.7"/>
<circle cx="456.34" cy="250.98" r="1.85" fill="#fff" stroke="#000" stroke-width="0.7"/>
<circle cx="456.99" cy="253.8" r="1.85" fill="#fff" stroke="#000" stroke-width="0.7"/>
<line x1="462.35" y1="310.83" x2="462.35" y2="309.32" stroke="#000" stroke-width="0.7"/>
<line x1="461.35" y1="309.32" x2="463.35" y2="309.32" stroke="#000" stroke-width="0.7"/>
<circle cx="461.24" cy="311.24" r="1.85" fill="#fff" stroke="#000" stroke-width="0.7"/>
<circle cx="462.45" cy="311.87" r="1.85" fill="#fff" stroke="#000" stroke-width="0.7"/>
<circle cx="462.97" cy="309.39" r="1.85" fill="#fff" stroke="#000" stroke-width="0.7"/>
<line x1="473.7" y1="233.96" x2="473.7" y2="217.53" stroke="#000" stroke-width="0.7"/>
<line x1="472.7" y1="217.53" x2="474.7" y2="217.53" stroke="#000" stroke-width="0.7"/>
<circle cx="472.91" cy="234.93" r="1.85" fill="#fff" stroke="#000" stroke-width="0.7"/>
<circle cx="473.77" cy="243.37" r="1.85" fill="#fff" stroke="#000" stroke-width="0.7"/>
<circle cx="474.95" cy="217.59" r="1.85" fill="#fff" stroke="#000" stroke-width="0.7"/>
<line x1="479.75" y1="212.27" x2="479.75" y2="210.94" stroke="#000" stroke-width="0.7"/>
<line x1="478.75" y1="210.94" x2="480.75" y2="210.94" stroke="#000" stroke-width="0.7"/>
<circle cx="479.18" cy="213.53" r="1.85" fill="#fff" stroke="#000" stroke-width="0.7"/>
<circle cx="479.84" cy="211.2" r="1.85" fill="#fff" stroke="#000" stroke-width="0.7"/>
<circle cx="480.67" cy="212.07" r="1.85" fill="#fff" stroke="#000" stroke-width="0.7"/>
<line x1="485.8" y1="202.02" x2="485.8" y2="200.69" stroke="#000" stroke-width="0.7"/>
<line x1="484.8" y1="200.69" x2="486.8" y2="200.69" stroke="#000" stroke-width="0.7"/>
<circle cx="485.24" cy="201.71" r="1.85" fill="#fff" stroke="#000" stroke-width="0.7"/>
<circle cx="485.98" cy="201.06" r="1.85" fill="#fff" stroke="#000" stroke-width="0.7"/>
<circle cx="486.91" cy="203.28" r="1.85" fill="#fff" stroke="#000" stroke-width="0.7"/>
<line x1="491.85" y1="193.39" x2="491.85" y2="191.03" stroke="#000" stroke-width="0.7"/>
<line x1="490.85" y1="191.03" x2="492.85" y2="191.03" stroke="#000" stroke-width="0.7"/>
<circle cx="490.64" cy="194.68" r="1.85" fill="#fff" stroke="#000" stroke-width="0.7"/>
<circle cx="492.17" cy="194.33" r="1.85" fill="#fff" stroke="#000" stroke-width="0.7"/>
<circle cx="492.38" cy="191.14" r="1.85" fill="#fff" stroke="#000" stroke-width="0.7"/>
<line x1="497.9" y1="214.96" x2="497.9" y2="213.32" stroke="#000" stroke-width="0.7"/>
<line x1="496.9" y1="213.32" x2="498.9" y2="213.32" stroke="#000" stroke-width="0.7"/>
<circle cx="497.37" cy="213.4" r="1.85" fill="#fff" stroke="#000" stroke-width="0.7"/>
<circle cx="497.83" cy="215.02" r="1.85" fill="#fff" stroke="#000" stroke-width="0.7"/>
<circle cx="499.03" cy="216.48" r="1.85" fill="#fff" stroke="#000" stroke-width="0.7"/>
<line x1="509.25" y1="171.81" x2="509.25" y2="151.7" stroke="#000" stroke-width="0.7"/>
<line x1="508.25" y1="151.7" x2="510.25" y2="151.7" stroke="#000" stroke-width="0.7"/>
<circle cx="509.25" cy="151.7" r="1.85" fill="#fff" stroke="#000" stroke-width="0.7"/>
<circle cx="509.25" cy="181.6" r="1.85" fill="#fff" stroke="#000" stroke-width="0.7"/>
<circle cx="509.25" cy="182.3" r="1.85" fill="#fff" stroke="#000" stroke-width="0.7"/>
<line x1="515.3" y1="41" x2="515.3" y2="34.5" stroke="#000" stroke-width="0.7"/>
<line x1="514.3" y1="34.5" x2="516.3" y2="34.5" stroke="#000" stroke-width="0.7"/>
<circle cx="515.3" cy="35.3" r="1.85" fill="#fff" stroke="#000" stroke-width="0.7"/>
<circle cx="515.3" cy="41" r="1.85" fill="#fff" stroke="#000" stroke-width="0.7"/>
<circle cx="515.3" cy="45.8" r="1.85" fill="#fff" stroke="#000" stroke-width="0.7"/>
<line x1="521.35" y1="62.19" x2="521.35" y2="55" stroke="#000" stroke-width="0.7"/>
<line x1="520.35" y1="55" x2="522.35" y2="55" stroke="#000" stroke-width="0.7"/>
<circle cx="521.35" cy="56.3" r="1.85" fill="#fff" stroke="#000" stroke-width="0.7"/>
<circle cx="521.35" cy="59.9" r="1.85" fill="#fff" stroke="#000" stroke-width="0.7"/>
<circle cx="521.35" cy="70.3" r="1.85" fill="#fff" stroke="#000" stroke-width="0.7"/>
<line x1="527.4" y1="50.99" x2="527.4" y2="36.5" stroke="#000" stroke-width="0.7"/>
<line x1="526.4" y1="36.5" x2="528.4" y2="36.5" stroke="#000" stroke-width="0.7"/>
<circle cx="527.4" cy="41.9" r="1.85" fill="#fff" stroke="#000" stroke-width="0.7"/>
<circle cx="527.4" cy="42.5" r="1.85" fill="#fff" stroke="#000" stroke-width="0.7"/>
<circle cx="527.4" cy="67.3" r="1.85" fill="#fff" stroke="#000" stroke-width="0.7"/>
<line x1="533.45" y1="52.93" x2="533.45" y2="50" stroke="#000" stroke-width="0.7"/>
<line x1="532.45" y1="50" x2="534.45" y2="50" stroke="#000" stroke-width="0.7"/>
<circle cx="533.45" cy="50.9" r="1.85" fill="#fff" stroke="#000" stroke-width="0.7"/>
<circle cx="533.45" cy="51.5" r="1.85" fill="#fff" stroke="#000" stroke-width="0.7"/>
<circle cx="533.45" cy="52.5" r="1.85" fill="#fff" stroke="#000" stroke-width="0.7"/>
<circle cx="543.6" cy="326.1" r="1.85" fill="#fff" stroke="#000" stroke-width="0.7"/>
<circle cx="544.8" cy="326.1" r="1.85" fill="#fff" stroke="#000" stroke-width="0.7"/>
<circle cx="546" cy="326.1" r="1.85" fill="#fff" stroke="#000" stroke-width="0.7"/>
<line x1="550.85" y1="311.32" x2="550.85" y2="309.48" stroke="#000" stroke-width="0.7"/>
<line x1="549.85" y1="309.48" x2="551.85" y2="309.48" stroke="#000" stroke-width="0.7"/>
<circle cx="549.69" cy="311.01" r="1.85" fill="#fff" stroke="#000" stroke-width="0.7"/>
<circle cx="551.01" cy="313.07" r="1.85" fill="#fff" stroke="#000" stroke-width="0.7"/>
<circle cx="551.35" cy="309.88" r="1.85" fill="#fff" stroke="#000" stroke-width="0.7"/>
<line x1="556.9" y1="310.83" x2="556.9" y2="310.39" stroke="#000" stroke-width="0.7"/>
<line x1="555.9" y1="310.39" x2="557.9" y2="310.39" stroke="#000" stroke-width="0.7"/>
<circle cx="555.99" cy="310.84" r="1.85" fill="#fff" stroke="#000" stroke-width="0.7"/>
<circle cx="556.78" cy="310.41" r="1.85" fill="#fff" stroke="#000" stroke-width="0.7"/>
<circle cx="558.07" cy="311.25" r="1.85" fill="#fff" stroke="#000" stroke-width="0.7"/>
<circle cx="561.75" cy="326.1" r="1.85" fill="#fff" stroke="#000" stroke-width="0.7"/>
<circle cx="562.95" cy="326.1" r="1.85" fill="#fff" stroke="#000" stroke-width="0.7"/>
<circle cx="564.15" cy="326.1" r="1.85" fill="#fff" stroke="#000" stroke-width="0.7"/>
<line x1="569" y1="313.26" x2="569" y2="311.99" stroke="#000" stroke-width="0.7"/>
<line x1="568" y1="311.99" x2="570" y2="311.99" stroke="#000" stroke-width="0.7"/>
<circle cx="568.28" cy="313.88" r="1.85" fill="#fff" stroke="#000" stroke-width="0.7"/>
<circle cx="569.25" cy="313.86" r="1.85" fill="#fff" stroke="#000" stroke-width="0.7"/>
<circle cx="569.57" cy="312.05" r="1.85" fill="#fff" stroke="#000" stroke-width="0.7"/>
<line x1="580.35" y1="284.56" x2="580.35" y2="279" stroke="#000" stroke-width="0.7"/>
<line x1="579.35" y1="279" x2="581.35" y2="279" stroke="#000" stroke-width="0.7"/>
<circle cx="580.35" cy="279.5" r="1.85" fill="#fff" stroke="#000" stroke-width="0.7"/>
<circle cx="580.35" cy="284" r="1.85" fill="#fff" stroke="#000" stroke-width="0.7"/>
<circle cx="580.35" cy="288.6" r="1.85" fill="#fff" stroke="#000" stroke-width="0.7"/>
<line x1="586.4" y1="314.72" x2="586.4" y2="310" stroke="#000" stroke-width="0.7"/>
<line x1="585.4" y1="310" x2="587.4" y2="310" stroke="#000" stroke-width="0.7"/>
<circle cx="586.4" cy="310.5" r="1.85" fill="#fff" stroke="#000" stroke-width="0.7"/>
<circle cx="586.4" cy="311.4" r="1.85" fill="#fff" stroke="#000" stroke-width="0.7"/>
<circle cx="586.4" cy="321.4" r="1.85" fill="#fff" stroke="#000" stroke-width="0.7"/>
<line x1="592.45" y1="265.59" x2="592.45" y2="216" stroke="#000" stroke-width="0.7"/>
<line x1="591.45" y1="216" x2="593.45" y2="216" stroke="#000" stroke-width="0.7"/>
<circle cx="592.45" cy="215.6" r="1.85" fill="#fff" stroke="#000" stroke-width="0.7"/>
<circle cx="592.45" cy="295" r="1.85" fill="#fff" stroke="#000" stroke-width="0.7"/>
<circle cx="592.45" cy="300.4" r="1.85" fill="#fff" stroke="#000" stroke-width="0.7"/>
<circle cx="598.5" cy="293.2" r="1.85" fill="#fff" stroke="#000" stroke-width="0.7"/>
<circle cx="598.5" cy="294" r="1.85" fill="#fff" stroke="#000" stroke-width="0.7"/>
<circle cx="598.5" cy="295" r="1.85" fill="#fff" stroke="#000" stroke-width="0.7"/>
<line x1="604.55" y1="316.18" x2="604.55" y2="311" stroke="#000" stroke-width="0.7"/>
<line x1="603.55" y1="311" x2="605.55" y2="311" stroke="#000" stroke-width="0.7"/>
<circle cx="604.55" cy="311.4" r="1.85" fill="#fff" stroke="#000" stroke-width="0.7"/>
<circle cx="604.55" cy="313.2" r="1.85" fill="#fff" stroke="#000" stroke-width="0.7"/>
<circle cx="604.55" cy="321.4" r="1.85" fill="#fff" stroke="#000" stroke-width="0.7"/>
<circle cx="615.9" cy="213.8" r="1.85" fill="#fff" stroke="#000" stroke-width="0.7"/>
<circle cx="615.9" cy="216" r="1.85" fill="#fff" stroke="#000" stroke-width="0.7"/>
<circle cx="615.9" cy="218" r="1.85" fill="#fff" stroke="#000" stroke-width="0.7"/>
<line x1="621.95" y1="299.64" x2="621.95" y2="287.7" stroke="#000" stroke-width="0.7"/>
<line x1="620.95" y1="287.7" x2="622.95" y2="287.7" stroke="#000" stroke-width="0.7"/>
<circle cx="621.95" cy="288.6" r="1.85" fill="#fff" stroke="#000" stroke-width="0.7"/>
<circle cx="621.95" cy="295.3" r="1.85" fill="#fff" stroke="#000" stroke-width="0.7"/>
<circle cx="621.95" cy="313.2" r="1.85" fill="#fff" stroke="#000" stroke-width="0.7"/>
<circle cx="628" cy="246.5" r="1.85" fill="#fff" stroke="#000" stroke-width="0.7"/>
<circle cx="628" cy="247.3" r="1.85" fill="#fff" stroke="#000" stroke-width="0.7"/>
<circle cx="628" cy="248.6" r="1.85" fill="#fff" stroke="#000" stroke-width="0.7"/>
<circle cx="634.05" cy="216.5" r="1.85" fill="#fff" stroke="#000" stroke-width="0.7"/>
<circle cx="634.05" cy="218.2" r="1.85" fill="#fff" stroke="#000" stroke-width="0.7"/>
<circle cx="634.05" cy="233.8" r="1.85" fill="#fff" stroke="#000" stroke-width="0.7"/>
<line x1="640.1" y1="302.07" x2="640.1" y2="289.5" stroke="#000" stroke-width="0.7"/>
<line x1="639.1" y1="289.5" x2="641.1" y2="289.5" stroke="#000" stroke-width="0.7"/>
<circle cx="640.1" cy="290.4" r="1.85" fill="#fff" stroke="#000" stroke-width="0.7"/>
<circle cx="640.1" cy="299.5" r="1.85" fill="#fff" stroke="#000" stroke-width="0.7"/>
<circle cx="640.1" cy="315" r="1.85" fill="#fff" stroke="#000" stroke-width="0.7"/>
<line x1="651.45" y1="278.72" x2="651.45" y2="260.3" stroke="#000" stroke-width="0.7"/>
<line x1="650.45" y1="260.3" x2="652.45" y2="260.3" stroke="#000" stroke-width="0.7"/>
<circle cx="651.45" cy="260.3" r="1.85" fill="#fff" stroke="#000" stroke-width="0.7"/>
<circle cx="651.45" cy="285.8" r="1.85" fill="#fff" stroke="#000" stroke-width="0.7"/>
<circle cx="651.45" cy="290.4" r="1.85" fill="#fff" stroke="#000" stroke-width="0.7"/>
<line x1="657.5" y1="322.99" x2="657.5" y2="322.78" stroke="#000" stroke-width="0.7"/>
<line x1="656.5" y1="322.78" x2="658.5" y2="322.78" stroke="#000" stroke-width="0.7"/>
<circle cx="656.29" cy="322.99" r="1.85" fill="#fff" stroke="#000" stroke-width="0.7"/>
<circle cx="657.57" cy="323.2" r="1.85" fill="#fff" stroke="#000" stroke-width="0.7"/>
<circle cx="658.73" cy="322.8" r="1.85" fill="#fff" stroke="#000" stroke-width="0.7"/>
<line x1="663.55" y1="314.24" x2="663.55" y2="312.89" stroke="#000" stroke-width="0.7"/>
<line x1="662.55" y1="312.89" x2="664.55" y2="312.89" stroke="#000" stroke-width="0.7"/>
<circle cx="662.84" cy="314.64" r="1.85" fill="#fff" stroke="#000" stroke-width="0.7"/>
<circle cx="663.89" cy="315.11" r="1.85" fill="#fff" stroke="#000" stroke-width="0.7"/>
<circle cx="664.42" cy="312.95" r="1.85" fill="#fff" stroke="#000" stroke-width="0.7"/>
<line x1="669.6" y1="307.43" x2="669.6" y2="305.94" stroke="#000" stroke-width="0.7"/>
<line x1="668.6" y1="305.94" x2="670.6" y2="305.94" stroke="#000" stroke-width="0.7"/>
<circle cx="668.88" cy="308.84" r="1.85" fill="#fff" stroke="#000" stroke-width="0.7"/>
<circle cx="669.61" cy="307.01" r="1.85" fill="#fff" stroke="#000" stroke-width="0.7"/>
<circle cx="670.39" cy="306.43" r="1.85" fill="#fff" stroke="#000" stroke-width="0.7"/>
<line x1="675.65" y1="322.02" x2="675.65" y2="321.51" stroke="#000" stroke-width="0.7"/>
<line x1="674.65" y1="321.51" x2="676.65" y2="321.51" stroke="#000" stroke-width="0.7"/>
<circle cx="674.64" cy="321.55" r="1.85" fill="#fff" stroke="#000" stroke-width="0.7"/>
<circle cx="675.43" cy="322" r="1.85" fill="#fff" stroke="#000" stroke-width="0.7"/>
<circle cx="676.34" cy="322.51" r="1.85" fill="#fff" stroke="#000" stroke-width="0.7"/>
<path d="M62.05,181.65 L62.73,183.27 L64.48,183.41 L63.14,184.56 L63.55,186.26 L62.05,185.35 L60.55,186.26 L60.96,184.56 L59.62,183.41 L61.37,183.27 Z M66.95,181.65 L67.63,183.27 L69.38,183.41 L68.04,184.56 L68.45,186.26 L66.95,185.35 L65.45,186.26 L65.86,184.56 L64.52,183.41 L66.27,183.27 Z" fill="#111"/>
<path d="M98.05,181.65 L98.73,183.27 L100.48,183.41 L99.14,184.56 L99.55,186.26 L98.05,185.35 L96.55,186.26 L96.96,184.56 L95.62,183.41 L97.37,183.27 Z M102.95,181.65 L103.63,183.27 L105.38,183.41 L104.04,184.56 L104.45,186.26 L102.95,185.35 L101.45,186.26 L101.86,184.56 L100.52,183.41 L102.27,183.27 Z" fill="#111"/>
<path d="M129.9,302.55 L130.58,304.17 L132.33,304.31 L130.99,305.46 L131.4,307.16 L129.9,306.25 L128.4,307.16 L128.81,305.46 L127.47,304.31 L129.22,304.17 Z" fill="#111"/>
<path d="M135.9,308.25 L136.58,309.87 L138.33,310.01 L136.99,311.16 L137.4,312.86 L135.9,311.95 L134.4,312.86 L134.81,311.16 L133.47,310.01 L135.22,309.87 Z" fill="#111"/>
<path d="M141.9,302.55 L142.58,304.17 L144.33,304.31 L142.99,305.46 L143.4,307.16 L141.9,306.25 L140.4,307.16 L140.81,305.46 L139.47,304.31 L141.22,304.17 Z" fill="#111"/>
<path d="M192.85,313.85 L193.53,315.47 L195.28,315.61 L193.94,316.76 L194.35,318.46 L192.85,317.55 L191.35,318.46 L191.76,316.76 L190.42,315.61 L192.17,315.47 Z M197.75,313.85 L198.43,315.47 L200.18,315.61 L198.84,316.76 L199.25,318.46 L197.75,317.55 L196.25,318.46 L196.66,316.76 L195.32,315.61 L197.07,315.47 Z" fill="#111"/>
<path d="M201.2,308.15 L201.88,309.77 L203.63,309.91 L202.29,311.06 L202.7,312.76 L201.2,311.85 L199.7,312.76 L200.11,311.06 L198.77,309.91 L200.52,309.77 Z" fill="#111"/>
<path d="M207.2,305.15 L207.88,306.77 L209.63,306.91 L208.29,308.06 L208.7,309.76 L207.2,308.85 L205.7,309.76 L206.11,308.06 L204.77,306.91 L206.52,306.77 Z" fill="#111"/>
<path d="M212.05,313.85 L212.73,315.47 L214.48,315.61 L213.14,316.76 L213.55,318.46 L212.05,317.55 L210.55,318.46 L210.96,316.76 L209.62,315.61 L211.37,315.47 Z M216.95,313.85 L217.63,315.47 L219.38,315.61 L218.04,316.76 L218.45,318.46 L216.95,317.55 L215.45,318.46 L215.86,316.76 L214.52,315.61 L216.27,315.47 Z" fill="#111"/>
<path d="M230.6,316.85 L231.28,318.47 L233.03,318.61 L231.69,319.76 L232.1,321.46 L230.6,320.55 L229.1,321.46 L229.51,319.76 L228.17,318.61 L229.92,318.47 Z" fill="#111"/>
<path d="M236.6,316.35 L237.28,317.97 L239.03,318.11 L237.69,319.26 L238.1,320.96 L236.6,320.05 L235.1,320.96 L235.51,319.26 L234.17,318.11 L235.92,317.97 Z" fill="#111"/>
<path d="M242.6,316.35 L243.28,317.97 L245.03,318.11 L243.69,319.26 L244.1,320.96 L242.6,320.05 L241.1,320.96 L241.51,319.26 L240.17,318.11 L241.92,317.97 Z" fill="#111"/>
<path d="M248.6,316.35 L249.28,317.97 L251.03,318.11 L249.69,319.26 L250.1,320.96 L248.6,320.05 L247.1,320.96 L247.51,319.26 L246.17,318.11 L247.92,317.97 Z" fill="#111"/>
<path d="M264.55,303.95 L265.23,305.57 L266.98,305.71 L265.64,306.86 L266.05,308.56 L264.55,307.65 L263.05,308.56 L263.46,306.86 L262.12,305.71 L263.87,305.57 Z M269.45,303.95 L270.13,305.57 L271.88,305.71 L270.54,306.86 L270.95,308.56 L269.45,307.65 L267.95,308.56 L268.36,306.86 L267.02,305.71 L268.77,305.57 Z" fill="#111"/>
<path d="M269.45,292.05 L270.13,293.67 L271.88,293.81 L270.54,294.96 L270.95,296.66 L269.45,295.75 L267.95,296.66 L268.36,294.96 L267.02,293.81 L268.77,293.67 Z M274.35,292.05 L275.03,293.67 L276.78,293.81 L275.44,294.96 L275.85,296.66 L274.35,295.75 L272.85,296.66 L273.26,294.96 L271.92,293.81 L273.67,293.67 Z" fill="#111"/>
<path d="M275.55,275.15 L276.23,276.77 L277.98,276.91 L276.64,278.06 L277.05,279.76 L275.55,278.85 L274.05,279.76 L274.46,278.06 L273.12,276.91 L274.87,276.77 Z M280.45,275.15 L281.13,276.77 L282.88,276.91 L281.54,278.06 L281.95,279.76 L280.45,278.85 L278.95,279.76 L279.36,278.06 L278.02,276.91 L279.77,276.77 Z" fill="#111"/>
<path d="M283.05,303.95 L283.73,305.57 L285.48,305.71 L284.14,306.86 L284.55,308.56 L283.05,307.65 L281.55,308.56 L281.96,306.86 L280.62,305.71 L282.37,305.57 Z M287.95,303.95 L288.63,305.57 L290.38,305.71 L289.04,306.86 L289.45,308.56 L287.95,307.65 L286.45,308.56 L286.86,306.86 L285.52,305.71 L287.27,305.57 Z" fill="#111"/>
<path d="M300.9,229.75 L301.58,231.37 L303.33,231.51 L301.99,232.66 L302.4,234.36 L300.9,233.45 L299.4,234.36 L299.81,232.66 L298.47,231.51 L300.22,231.37 Z" fill="#111"/>
<path d="M311.05,198.75 L311.73,200.37 L313.48,200.51 L312.14,201.66 L312.55,203.36 L311.05,202.45 L309.55,203.36 L309.96,201.66 L308.62,200.51 L310.37,200.37 Z M315.95,198.75 L316.63,200.37 L318.38,200.51 L317.04,201.66 L317.45,203.36 L315.95,202.45 L314.45,203.36 L314.86,201.66 L313.52,200.51 L315.27,200.37 Z" fill="#111"/>
<path d="M320.7,232.15 L321.38,233.77 L323.13,233.91 L321.79,235.06 L322.2,236.76 L320.7,235.85 L319.2,236.76 L319.61,235.06 L318.27,233.91 L320.02,233.77 Z" fill="#111"/>
<path d="M334.85,221.05 L335.53,222.67 L337.28,222.81 L335.94,223.96 L336.35,225.66 L334.85,224.75 L333.35,225.66 L333.76,223.96 L332.42,222.81 L334.17,222.67 Z M339.75,221.05 L340.43,222.67 L342.18,222.81 L340.84,223.96 L341.25,225.66 L339.75,224.75 L338.25,225.66 L338.66,223.96 L337.32,222.81 L339.07,222.67 Z" fill="#111"/>
<path d="M341.35,205.35 L342.03,206.97 L343.78,207.11 L342.44,208.26 L342.85,209.96 L341.35,209.05 L339.85,209.96 L340.26,208.26 L338.92,207.11 L340.67,206.97 Z M346.25,205.35 L346.93,206.97 L348.68,207.11 L347.34,208.26 L347.75,209.96 L346.25,209.05 L344.75,209.96 L345.16,208.26 L343.82,207.11 L345.57,206.97 Z" fill="#111"/>
<path d="M354.75,226.75 L355.43,228.37 L357.18,228.51 L355.84,229.66 L356.25,231.36 L354.75,230.45 L353.25,231.36 L353.66,229.66 L352.32,228.51 L354.07,228.37 Z M359.65,226.75 L360.33,228.37 L362.08,228.51 L360.74,229.66 L361.15,231.36 L359.65,230.45 L358.15,231.36 L358.56,229.66 L357.22,228.51 L358.97,228.37 Z" fill="#111"/>
<path d="M370.85,299.15 L371.53,300.77 L373.28,300.91 L371.94,302.06 L372.35,303.76 L370.85,302.85 L369.35,303.76 L369.76,302.06 L368.42,300.91 L370.17,300.77 Z M375.75,299.15 L376.43,300.77 L378.18,300.91 L376.84,302.06 L377.25,303.76 L375.75,302.85 L374.25,303.76 L374.66,302.06 L373.32,300.91 L375.07,300.77 Z" fill="#111"/>
<path d="M376.05,263.25 L376.73,264.87 L378.48,265.01 L377.14,266.16 L377.55,267.86 L376.05,266.95 L374.55,267.86 L374.96,266.16 L373.62,265.01 L375.37,264.87 Z M380.95,263.25 L381.63,264.87 L383.38,265.01 L382.04,266.16 L382.45,267.86 L380.95,266.95 L379.45,267.86 L379.86,266.16 L378.52,265.01 L380.27,264.87 Z" fill="#111"/>
<path d="M385.2,239.15 L385.88,240.77 L387.63,240.91 L386.29,242.06 L386.7,243.76 L385.2,242.85 L383.7,243.76 L384.11,242.06 L382.77,240.91 L384.52,240.77 Z" fill="#111"/>
<path d="M389.55,300.95 L390.23,302.57 L391.98,302.71 L390.64,303.86 L391.05,305.56 L389.55,304.65 L388.05,305.56 L388.46,303.86 L387.12,302.71 L388.87,302.57 Z M394.45,300.95 L395.13,302.57 L396.88,302.71 L395.54,303.86 L395.95,305.56 L394.45,304.65 L392.95,305.56 L393.36,303.86 L392.02,302.71 L393.77,302.57 Z" fill="#111"/>
<path d="M405.95,310.35 L406.63,311.97 L408.38,312.11 L407.04,313.26 L407.45,314.96 L405.95,314.05 L404.45,314.96 L404.86,313.26 L403.52,312.11 L405.27,311.97 Z M410.85,310.35 L411.53,311.97 L413.28,312.11 L411.94,313.26 L412.35,314.96 L410.85,314.05 L409.35,314.96 L409.76,313.26 L408.42,312.11 L410.17,311.97 Z" fill="#111"/>
<path d="M424.05,309.65 L424.73,311.27 L426.48,311.41 L425.14,312.56 L425.55,314.26 L424.05,313.35 L422.55,314.26 L422.96,312.56 L421.62,311.41 L423.37,311.27 Z M428.95,309.65 L429.63,311.27 L431.38,311.41 L430.04,312.56 L430.45,314.26 L428.95,313.35 L427.45,314.26 L427.86,312.56 L426.52,311.41 L428.27,311.27 Z" fill="#111"/>
<path d="M443.9,292.95 L444.58,294.57 L446.33,294.71 L444.99,295.86 L445.4,297.56 L443.9,296.65 L442.4,297.56 L442.81,295.86 L441.47,294.71 L443.22,294.57 Z" fill="#111"/>
<path d="M455.5,238.35 L456.18,239.97 L457.93,240.11 L456.59,241.26 L457,242.96 L455.5,242.05 L454,242.96 L454.41,241.26 L453.07,240.11 L454.82,239.97 Z" fill="#111"/>
<path d="M461.7,292.95 L462.38,294.57 L464.13,294.71 L462.79,295.86 L463.2,297.56 L461.7,296.65 L460.2,297.56 L460.61,295.86 L459.27,294.71 L461.02,294.57 Z" fill="#111"/>
<path d="M481.65,188.05 L482.33,189.67 L484.08,189.81 L482.74,190.96 L483.15,192.66 L481.65,191.75 L480.15,192.66 L480.56,190.96 L479.22,189.81 L480.97,189.67 Z M486.55,188.05 L487.23,189.67 L488.98,189.81 L487.64,190.96 L488.05,192.66 L486.55,191.75 L485.05,192.66 L485.46,190.96 L484.12,189.81 L485.87,189.67 Z" fill="#111"/>
<path d="M490.35,178.85 L491.03,180.47 L492.78,180.61 L491.44,181.76 L491.85,183.46 L490.35,182.55 L488.85,183.46 L489.26,181.76 L487.92,180.61 L489.67,180.47 Z M495.25,178.85 L495.93,180.47 L497.68,180.61 L496.34,181.76 L496.75,183.46 L495.25,182.55 L493.75,183.46 L494.16,181.76 L492.82,180.61 L494.57,180.47 Z" fill="#111"/>
<path d="M512.55,18.75 L513.23,20.37 L514.98,20.51 L513.64,21.66 L514.05,23.36 L512.55,22.45 L511.05,23.36 L511.46,21.66 L510.12,20.51 L511.87,20.37 Z M517.45,18.75 L518.13,20.37 L519.88,20.51 L518.54,21.66 L518.95,23.36 L517.45,22.45 L515.95,23.36 L516.36,21.66 L515.02,20.51 L516.77,20.37 Z" fill="#111"/>
<path d="M519.45,44.15 L520.13,45.77 L521.88,45.91 L520.54,47.06 L520.95,48.76 L519.45,47.85 L517.95,48.76 L518.36,47.06 L517.02,45.91 L518.77,45.77 Z M524.35,44.15 L525.03,45.77 L526.78,45.91 L525.44,47.06 L525.85,48.76 L524.35,47.85 L522.85,48.76 L523.26,47.06 L521.92,45.91 L523.67,45.77 Z" fill="#111"/>
<path d="M526.05,26.15 L526.73,27.77 L528.48,27.91 L527.14,29.06 L527.55,30.76 L526.05,29.85 L524.55,30.76 L524.96,29.06 L523.62,27.91 L525.37,27.77 Z M530.95,26.15 L531.63,27.77 L533.38,27.91 L532.04,29.06 L532.45,30.76 L530.95,29.85 L529.45,30.76 L529.86,29.06 L528.52,27.91 L530.27,27.77 Z" fill="#111"/>
<path d="M533.55,35.15 L534.23,36.77 L535.98,36.91 L534.64,38.06 L535.05,39.76 L533.55,38.85 L532.05,39.76 L532.46,38.06 L531.12,36.91 L532.87,36.77 Z M538.45,35.15 L539.13,36.77 L540.88,36.91 L539.54,38.06 L539.95,39.76 L538.45,38.85 L536.95,39.76 L537.36,38.06 L536.02,36.91 L537.77,36.77 Z" fill="#111"/>
<path d="M548.05,296.85 L548.73,298.47 L550.48,298.61 L549.14,299.76 L549.55,301.46 L548.05,300.55 L546.55,301.46 L546.96,299.76 L545.62,298.61 L547.37,298.47 Z M552.95,296.85 L553.63,298.47 L555.38,298.61 L554.04,299.76 L554.45,301.46 L552.95,300.55 L551.45,301.46 L551.86,299.76 L550.52,298.61 L552.27,298.47 Z" fill="#111"/>
<path d="M556.7,288.15 L557.38,289.77 L559.13,289.91 L557.79,291.06 L558.2,292.76 L556.7,291.85 L555.2,292.76 L555.61,291.06 L554.27,289.91 L556.02,289.77 Z" fill="#111"/>
<path d="M567.75,298.15 L568.43,299.77 L570.18,299.91 L568.84,301.06 L569.25,302.76 L567.75,301.85 L566.25,302.76 L566.66,301.06 L565.32,299.91 L567.07,299.77 Z M572.65,298.15 L573.33,299.77 L575.08,299.91 L573.74,301.06 L574.15,302.76 L572.65,301.85 L571.15,302.76 L571.56,301.06 L570.22,299.91 L571.97,299.77 Z" fill="#111"/>
<path d="M583.95,298.75 L584.63,300.37 L586.38,300.51 L585.04,301.66 L585.45,303.36 L583.95,302.45 L582.45,303.36 L582.86,301.66 L581.52,300.51 L583.27,300.37 Z M588.85,298.75 L589.53,300.37 L591.28,300.51 L589.94,301.66 L590.35,303.36 L588.85,302.45 L587.35,303.36 L587.76,301.66 L586.42,300.51 L588.17,300.37 Z" fill="#111"/>
<path d="M598.6,281.95 L599.28,283.57 L601.03,283.71 L599.69,284.86 L600.1,286.56 L598.6,285.65 L597.1,286.56 L597.51,284.86 L596.17,283.71 L597.92,283.57 Z" fill="#111"/>
<path d="M602.85,300.35 L603.53,301.97 L605.28,302.11 L603.94,303.26 L604.35,304.96 L602.85,304.05 L601.35,304.96 L601.76,303.26 L600.42,302.11 L602.17,301.97 Z M607.75,300.35 L608.43,301.97 L610.18,302.11 L608.84,303.26 L609.25,304.96 L607.75,304.05 L606.25,304.96 L606.66,303.26 L605.32,302.11 L607.07,301.97 Z" fill="#111"/>
<path d="M619.65,278.45 L620.33,280.07 L622.08,280.21 L620.74,281.36 L621.15,283.06 L619.65,282.15 L618.15,283.06 L618.56,281.36 L617.22,280.21 L618.97,280.07 Z M624.55,278.45 L625.23,280.07 L626.98,280.21 L625.64,281.36 L626.05,283.06 L624.55,282.15 L623.05,283.06 L623.46,281.36 L622.12,280.21 L623.87,280.07 Z" fill="#111"/>
<path d="M627.5,234.75 L628.18,236.37 L629.93,236.51 L628.59,237.66 L629,239.36 L627.5,238.45 L626,239.36 L626.41,237.66 L625.07,236.51 L626.82,236.37 Z" fill="#111"/>
<path d="M639.35,280.05 L640.03,281.67 L641.78,281.81 L640.44,282.96 L640.85,284.66 L639.35,283.75 L637.85,284.66 L638.26,282.96 L636.92,281.81 L638.67,281.67 Z M644.25,280.05 L644.93,281.67 L646.68,281.81 L645.34,282.96 L645.75,284.66 L644.25,283.75 L642.75,284.66 L643.16,282.96 L641.82,281.81 L643.57,281.67 Z" fill="#111"/>
<path d="M656.6,308.95 L657.28,310.57 L659.03,310.71 L657.69,311.86 L658.1,313.56 L656.6,312.65 L655.1,313.56 L655.51,311.86 L654.17,310.71 L655.92,310.57 Z" fill="#111"/>
<path d="M663.9,303.05 L664.58,304.67 L666.33,304.81 L664.99,305.96 L665.4,307.66 L663.9,306.75 L662.4,307.66 L662.81,305.96 L661.47,304.81 L663.22,304.67 Z" fill="#111"/>
<path d="M670.1,292.25 L670.78,293.87 L672.53,294.01 L671.19,295.16 L671.6,296.86 L670.1,295.95 L668.6,296.86 L669.01,295.16 L667.67,294.01 L669.42,293.87 Z" fill="#111"/>
<path d="M676.1,308.95 L676.78,310.57 L678.53,310.71 L677.19,311.86 L677.6,313.56 L676.1,312.65 L674.6,313.56 L675.01,311.86 L673.67,310.71 L675.42,310.57 Z" fill="#111"/>
<line x1="42.2" y1="327" x2="42.2" y2="228.5" stroke="#000" stroke-width="1.5"/>
<line x1="42.2" y1="218.8" x2="42.2" y2="120.5" stroke="#000" stroke-width="1.5"/>
<line x1="42.2" y1="111" x2="42.2" y2="12.4" stroke="#000" stroke-width="1.5"/>
<line x1="36.5" y1="326.4" x2="680" y2="326.4" stroke="#000" stroke-width="1.3"/>
<line x1="37.5" y1="326.4" x2="42.2" y2="326.4" stroke="#000" stroke-width="1.2"/>
<text x="34" y="329.5" font-size="8.8" text-anchor="end" font-weight="bold" font-style="normal" fill="#000">0.00</text>
<line x1="37.5" y1="302.07" x2="42.2" y2="302.07" stroke="#000" stroke-width="1.2"/>
<text x="34" y="305.18" font-size="8.8" text-anchor="end" font-weight="bold" font-style="normal" fill="#000">0.05</text>
<line x1="37.5" y1="277.75" x2="42.2" y2="277.75" stroke="#000" stroke-width="1.2"/>
<text x="34" y="280.85" font-size="8.8" text-anchor="end" font-weight="bold" font-style="normal" fill="#000">0.10</text>
<line x1="37.5" y1="253.43" x2="42.2" y2="253.43" stroke="#000" stroke-width="1.2"/>
<text x="34" y="256.53" font-size="8.8" text-anchor="end" font-weight="bold" font-style="normal" fill="#000">0.15</text>
<line x1="37.5" y1="229.1" x2="42.2" y2="229.1" stroke="#000" stroke-width="1.2"/>
<text x="34" y="232.2" font-size="8.8" text-anchor="end" font-weight="bold" font-style="normal" fill="#000">0.20</text>
<line x1="32.8" y1="202.02" x2="42.2" y2="202.02" stroke="#000" stroke-width="1.2"/>
<text x="30.6" y="205.12" font-size="8.8" text-anchor="end" font-weight="bold" font-style="normal" fill="#000">0.5</text>
<line x1="32.8" y1="175.04" x2="42.2" y2="175.04" stroke="#000" stroke-width="1.2"/>
<text x="30.6" y="178.14" font-size="8.8" text-anchor="end" font-weight="bold" font-style="normal" fill="#000">1.0</text>
<line x1="32.8" y1="148.07" x2="42.2" y2="148.07" stroke="#000" stroke-width="1.2"/>
<text x="30.6" y="151.17" font-size="8.8" text-anchor="end" font-weight="bold" font-style="normal" fill="#000">1.5</text>
<line x1="32.8" y1="121.1" x2="42.2" y2="121.1" stroke="#000" stroke-width="1.2"/>
<text x="30.6" y="124.2" font-size="8.8" text-anchor="end" font-weight="bold" font-style="normal" fill="#000">2.0</text>
<line x1="32.8" y1="110.4" x2="42.2" y2="110.4" stroke="#000" stroke-width="1.2"/>
<text x="30.6" y="113.5" font-size="8.8" text-anchor="end" font-weight="bold" font-style="normal" fill="#000">2</text>
<line x1="32.8" y1="86.05" x2="42.2" y2="86.05" stroke="#000" stroke-width="1.2"/>
<text x="30.6" y="89.15" font-size="8.8" text-anchor="end" font-weight="bold" font-style="normal" fill="#000">3</text>
<line x1="32.8" y1="61.7" x2="42.2" y2="61.7" stroke="#000" stroke-width="1.2"/>
<text x="30.6" y="64.8" font-size="8.8" text-anchor="end" font-weight="bold" font-style="normal" fill="#000">4</text>
<line x1="32.8" y1="37.35" x2="42.2" y2="37.35" stroke="#000" stroke-width="1.2"/>
<text x="30.6" y="40.45" font-size="8.8" text-anchor="end" font-weight="bold" font-style="normal" fill="#000">5</text>
<line x1="32.8" y1="13" x2="42.2" y2="13" stroke="#000" stroke-width="1.2"/>
<text x="30.6" y="16.1" font-size="8.8" text-anchor="end" font-weight="bold" font-style="normal" fill="#000">6</text>
<line x1="38" y1="218.6" x2="44.5" y2="218.6" stroke="#000" stroke-width="1.2"/>
<line x1="59.2" y1="326.4" x2="59.2" y2="332.8" stroke="#000" stroke-width="1.3"/>
<text x="58.1" y="343.7" font-size="8.9" text-anchor="middle" font-weight="bold" font-style="normal" fill="#000">C16</text>
<line x1="94.75" y1="326.4" x2="94.75" y2="332.8" stroke="#000" stroke-width="1.3"/>
<text x="93.8" y="343.7" font-size="8.9" text-anchor="middle" font-weight="bold" font-style="normal" fill="#000">C18</text>
<line x1="130.3" y1="326.4" x2="130.3" y2="332.8" stroke="#000" stroke-width="1.3"/>
<text x="129.5" y="343.7" font-size="8.9" text-anchor="middle" font-weight="bold" font-style="normal" fill="#000">C20</text>
<line x1="165.85" y1="326.4" x2="165.85" y2="332.8" stroke="#000" stroke-width="1.3"/>
<text x="165.2" y="343.7" font-size="8.9" text-anchor="middle" font-weight="bold" font-style="normal" fill="#000">C22</text>
<line x1="201.4" y1="326.4" x2="201.4" y2="332.8" stroke="#000" stroke-width="1.3"/>
<text x="200.9" y="343.7" font-size="8.9" text-anchor="middle" font-weight="bold" font-style="normal" fill="#000">C24</text>
<line x1="236.95" y1="326.4" x2="236.95" y2="332.8" stroke="#000" stroke-width="1.3"/>
<text x="236.6" y="343.7" font-size="8.9" text-anchor="middle" font-weight="bold" font-style="normal" fill="#000">C26</text>
<line x1="272.5" y1="326.4" x2="272.5" y2="332.8" stroke="#000" stroke-width="1.3"/>
<text x="272.3" y="343.7" font-size="8.9" text-anchor="middle" font-weight="bold" font-style="normal" fill="#000">C28</text>
<line x1="308.05" y1="326.4" x2="308.05" y2="332.8" stroke="#000" stroke-width="1.3"/>
<text x="308" y="343.7" font-size="8.9" text-anchor="middle" font-weight="bold" font-style="normal" fill="#000">C30</text>
<line x1="343.6" y1="326.4" x2="343.6" y2="332.8" stroke="#000" stroke-width="1.3"/>
<text x="343.7" y="343.7" font-size="8.9" text-anchor="middle" font-weight="bold" font-style="normal" fill="#000">C32</text>
<line x1="379.15" y1="326.4" x2="379.15" y2="332.8" stroke="#000" stroke-width="1.3"/>
<text x="379.4" y="343.7" font-size="8.9" text-anchor="middle" font-weight="bold" font-style="normal" fill="#000">C24</text>
<line x1="414.7" y1="326.4" x2="414.7" y2="332.8" stroke="#000" stroke-width="1.3"/>
<text x="415.1" y="343.7" font-size="8.9" text-anchor="middle" font-weight="bold" font-style="normal" fill="#000">C26</text>
<line x1="450.25" y1="326.4" x2="450.25" y2="332.8" stroke="#000" stroke-width="1.3"/>
<text x="450.8" y="343.7" font-size="8.9" text-anchor="middle" font-weight="bold" font-style="normal" fill="#000">C28</text>
<line x1="485.8" y1="326.4" x2="485.8" y2="332.8" stroke="#000" stroke-width="1.3"/>
<text x="486.5" y="343.7" font-size="8.9" text-anchor="middle" font-weight="bold" font-style="normal" fill="#000">C30</text>
<line x1="521.35" y1="326.4" x2="521.35" y2="332.8" stroke="#000" stroke-width="1.3"/>
<text x="522.2" y="343.7" font-size="8.9" text-anchor="middle" font-weight="bold" font-style="normal" fill="#000">C32</text>
<line x1="556.9" y1="326.4" x2="556.9" y2="332.8" stroke="#000" stroke-width="1.3"/>
<text x="557.9" y="343.7" font-size="8.9" text-anchor="middle" font-weight="bold" font-style="normal" fill="#000">C32</text>
<line x1="592.45" y1="326.4" x2="592.45" y2="332.8" stroke="#000" stroke-width="1.3"/>
<text x="593.6" y="343.7" font-size="8.9" text-anchor="middle" font-weight="bold" font-style="normal" fill="#000">C27</text>
<line x1="628" y1="326.4" x2="628" y2="332.8" stroke="#000" stroke-width="1.3"/>
<text x="629.3" y="343.7" font-size="8.9" text-anchor="middle" font-weight="bold" font-style="normal" fill="#000">C29</text>
<line x1="663.55" y1="326.4" x2="663.55" y2="332.8" stroke="#000" stroke-width="1.3"/>
<text x="665" y="343.7" font-size="8.9" text-anchor="middle" font-weight="bold" font-style="normal" fill="#000">C31</text>
<line x1="36.5" y1="350" x2="339.1" y2="350" stroke="#000" stroke-width="1.3"/>
<text x="179.7" y="364.6" font-size="8.8" text-anchor="middle" font-weight="bold" font-style="normal" fill="#000">Fatty acids</text>
<line x1="373.3" y1="350" x2="511.8" y2="350" stroke="#000" stroke-width="1.3"/>
<text x="440.6" y="364.6" font-size="8.8" text-anchor="middle" font-weight="bold" font-style="normal" fill="#000">1-Alcohols</text>
<line x1="550.5" y1="350" x2="563" y2="350" stroke="#000" stroke-width="1.3"/>
<text x="554.5" y="364.6" font-size="8.8" text-anchor="middle" font-weight="bold" font-style="normal" fill="#000">Aldehyde</text>
<line x1="591.8" y1="350" x2="664.7" y2="350" stroke="#000" stroke-width="1.3"/>
<text x="630.2" y="364.6" font-size="8.8" text-anchor="middle" font-weight="bold" font-style="normal" fill="#000">Alkanes</text>
<text x="6.8" y="152.7" font-size="8.8" text-anchor="middle" font-weight="bold" font-style="normal" fill="#000" transform="rotate(-90 6.8 152.7)">Epidermal Wax Composition (ug cm<tspan font-size="6" dy="-3.5">−2</tspan><tspan dy="3.5">)</tspan></text>
<rect x="77" y="15.2" width="13.5" height="7" fill="#000000" stroke="#000" stroke-width="0.5"/>
<text x="98" y="21.9" font-size="8.8" text-anchor="start" font-weight="bold" font-style="normal" fill="#000">Dark</text>
<rect x="77" y="32.3" width="13.5" height="7" fill="#0a32ff" stroke="#000" stroke-width="0.5"/>
<text x="98" y="39" font-size="8.8" text-anchor="start" font-weight="bold" font-style="normal" fill="#000">Dark to Blue</text>
<rect x="77" y="49.4" width="13.5" height="7" fill="#ff2200" stroke="#000" stroke-width="0.5"/>
<text x="98" y="56.1" font-size="8.8" text-anchor="start" font-weight="bold" font-style="normal" fill="#000">Dark to Red</text>
<rect x="77" y="66.5" width="13.5" height="7" fill="#ff8080" stroke="#000" stroke-width="0.5"/>
<text x="98" y="73.2" font-size="8.8" text-anchor="start" font-weight="bold" font-style="normal" fill="#000">Dark to Far Red</text>
<rect x="77" y="83.6" width="13.5" height="7" fill="#9933ff" stroke="#000" stroke-width="0.5"/>
<text x="98" y="90.3" font-size="8.8" text-anchor="start" font-weight="bold" font-style="normal" fill="#000">Dark to NUV</text>
<text x="7" y="6.6" font-size="12" text-anchor="middle" font-weight="bold" font-style="normal" fill="#000">a</text>
<line x1="230" y1="12.3" x2="230" y2="120.4" stroke="#000" stroke-width="1.6"/>
<line x1="229.2" y1="120.4" x2="311" y2="120.4" stroke="#000" stroke-width="1.4"/>
<line x1="223.5" y1="120.4" x2="230" y2="120.4" stroke="#000" stroke-width="1.3"/>
<text x="222.2" y="123.5" font-size="8.8" text-anchor="end" font-weight="bold" font-style="normal" fill="#000">0</text>
<line x1="223.5" y1="98.94" x2="230" y2="98.94" stroke="#000" stroke-width="1.3"/>
<text x="222.2" y="102.04" font-size="8.8" text-anchor="end" font-weight="bold" font-style="normal" fill="#000">2</text>
<line x1="223.5" y1="77.48" x2="230" y2="77.48" stroke="#000" stroke-width="1.3"/>
<text x="222.2" y="80.58" font-size="8.8" text-anchor="end" font-weight="bold" font-style="normal" fill="#000">4</text>
<line x1="223.5" y1="56.02" x2="230" y2="56.02" stroke="#000" stroke-width="1.3"/>
<text x="222.2" y="59.12" font-size="8.8" text-anchor="end" font-weight="bold" font-style="normal" fill="#000">6</text>
<line x1="223.5" y1="34.56" x2="230" y2="34.56" stroke="#000" stroke-width="1.3"/>
<text x="222.2" y="37.66" font-size="8.8" text-anchor="end" font-weight="bold" font-style="normal" fill="#000">8</text>
<line x1="223.5" y1="13.1" x2="230" y2="13.1" stroke="#000" stroke-width="1.3"/>
<text x="222.2" y="16.2" font-size="8.8" text-anchor="end" font-weight="bold" font-style="normal" fill="#000">10</text>
<rect x="235.1" y="82.84" width="8.7" height="37.56" fill="#000000" stroke="#000" stroke-width="0.8"/>
<line x1="239.45" y1="120.4" x2="239.45" y2="126.8" stroke="#000" stroke-width="1.3"/>
<text x="242.05" y="136" font-size="8.8" text-anchor="end" font-weight="bold" font-style="normal" fill="#000" transform="rotate(-28 242.05 136)">Dark</text>
<rect x="251" y="49.58" width="8.7" height="70.82" fill="#0a32ff" stroke="#000" stroke-width="0.8"/>
<line x1="255.35" y1="120.4" x2="255.35" y2="126.8" stroke="#000" stroke-width="1.3"/>
<text x="257.95" y="136" font-size="8.8" text-anchor="end" font-weight="bold" font-style="normal" fill="#000" transform="rotate(-28 257.95 136)">Dark to Blue</text>
<rect x="267" y="53.87" width="8.7" height="66.53" fill="#ff2200" stroke="#000" stroke-width="0.8"/>
<line x1="271.35" y1="120.4" x2="271.35" y2="126.8" stroke="#000" stroke-width="1.3"/>
<text x="273.95" y="136" font-size="8.8" text-anchor="end" font-weight="bold" font-style="normal" fill="#000" transform="rotate(-28 273.95 136)">Dark to Red</text>
<rect x="282.6" y="37.78" width="8.7" height="82.62" fill="#ff8080" stroke="#000" stroke-width="0.8"/>
<line x1="286.95" y1="120.4" x2="286.95" y2="126.8" stroke="#000" stroke-width="1.3"/>
<text x="289.55" y="136" font-size="8.8" text-anchor="end" font-weight="bold" font-style="normal" fill="#000" transform="rotate(-28 289.55 136)">Dark to NUV</text>
<rect x="298.6" y="56.02" width="8.7" height="64.38" fill="#9933ff" stroke="#000" stroke-width="0.8"/>
<line x1="302.95" y1="120.4" x2="302.95" y2="126.8" stroke="#000" stroke-width="1.3"/>
<text x="305.55" y="136" font-size="8.8" text-anchor="end" font-weight="bold" font-style="normal" fill="#000" transform="rotate(-28 305.55 136)">Dark to Far Red</text>
<text x="209.3" y="67.9" font-size="9.2" text-anchor="middle" font-weight="bold" font-style="normal" fill="#000" transform="rotate(-90 209.3 67.9)">Total Wax  (ug cm<tspan font-size="6" dy="-3.5">−2</tspan><tspan dy="3.5">)</tspan></text>
<line x1="239.45" y1="82.84" x2="239.45" y2="73.84" stroke="#000" stroke-width="0.8"/>
<line x1="237.85" y1="73.84" x2="241.05" y2="73.84" stroke="#000" stroke-width="0.8"/>
<line x1="255.35" y1="49.58" x2="255.35" y2="44.58" stroke="#000" stroke-width="0.8"/>
<line x1="253.75" y1="44.58" x2="256.95" y2="44.58" stroke="#000" stroke-width="0.8"/>
<line x1="271.35" y1="53.87" x2="271.35" y2="48.87" stroke="#000" stroke-width="0.8"/>
<line x1="269.75" y1="48.87" x2="272.95" y2="48.87" stroke="#000" stroke-width="0.8"/>
<line x1="286.95" y1="37.78" x2="286.95" y2="29.78" stroke="#000" stroke-width="0.8"/>
<line x1="285.35" y1="29.78" x2="288.55" y2="29.78" stroke="#000" stroke-width="0.8"/>
<line x1="302.95" y1="56.02" x2="302.95" y2="52.02" stroke="#000" stroke-width="0.8"/>
<line x1="301.35" y1="52.02" x2="304.55" y2="52.02" stroke="#000" stroke-width="0.8"/>
<circle cx="239.9" cy="74.4" r="1.9" fill="#fff" stroke="#000" stroke-width="0.8"/>
<circle cx="236.6" cy="87.1" r="1.9" fill="#fff" stroke="#000" stroke-width="0.8"/>
<circle cx="242.1" cy="87.1" r="1.9" fill="#fff" stroke="#000" stroke-width="0.8"/>
<circle cx="252.6" cy="47.1" r="1.9" fill="#fff" stroke="#000" stroke-width="0.8"/>
<circle cx="255.7" cy="52.6" r="1.9" fill="#fff" stroke="#000" stroke-width="0.8"/>
<circle cx="258.3" cy="48.6" r="1.9" fill="#fff" stroke="#000" stroke-width="0.8"/>
<circle cx="270.5" cy="49.3" r="1.9" fill="#fff" stroke="#000" stroke-width="0.8"/>
<circle cx="269" cy="56.5" r="1.9" fill="#fff" stroke="#000" stroke-width="0.8"/>
<circle cx="273.6" cy="53.6" r="1.9" fill="#fff" stroke="#000" stroke-width="0.8"/>
<circle cx="284.5" cy="32.4" r="1.9" fill="#fff" stroke="#000" stroke-width="0.8"/>
<circle cx="289.4" cy="34.6" r="1.9" fill="#fff" stroke="#000" stroke-width="0.8"/>
<circle cx="287" cy="46" r="1.9" fill="#fff" stroke="#000" stroke-width="0.8"/>
<circle cx="302.3" cy="52.6" r="1.9" fill="#fff" stroke="#000" stroke-width="0.8"/>
<circle cx="299.9" cy="58" r="1.9" fill="#fff" stroke="#000" stroke-width="0.8"/>
<circle cx="305.4" cy="55.8" r="1.9" fill="#fff" stroke="#000" stroke-width="0.8"/>
<path d="M252.75,31.05 L253.43,32.67 L255.18,32.81 L253.84,33.96 L254.25,35.66 L252.75,34.75 L251.25,35.66 L251.66,33.96 L250.32,32.81 L252.07,32.67 Z M257.65,31.05 L258.33,32.67 L260.08,32.81 L258.74,33.96 L259.15,35.66 L257.65,34.75 L256.15,35.66 L256.56,33.96 L255.22,32.81 L256.97,32.67 Z" fill="#111"/>
<path d="M269.65,33.85 L270.33,35.47 L272.08,35.61 L270.74,36.76 L271.15,38.46 L269.65,37.55 L268.15,38.46 L268.56,36.76 L267.22,35.61 L268.97,35.47 Z M274.55,33.85 L275.23,35.47 L276.98,35.61 L275.64,36.76 L276.05,38.46 L274.55,37.55 L273.05,38.46 L273.46,36.76 L272.12,35.61 L273.87,35.47 Z" fill="#111"/>
<path d="M286.25,19.25 L286.93,20.87 L288.68,21.01 L287.34,22.16 L287.75,23.86 L286.25,22.95 L284.75,23.86 L285.16,22.16 L283.82,21.01 L285.57,20.87 Z M291.15,19.25 L291.83,20.87 L293.58,21.01 L292.24,22.16 L292.65,23.86 L291.15,22.95 L289.65,23.86 L290.06,22.16 L288.72,21.01 L290.47,20.87 Z" fill="#111"/>
<path d="M301.35,38.25 L302.03,39.87 L303.78,40.01 L302.44,41.16 L302.85,42.86 L301.35,41.95 L299.85,42.86 L300.26,41.16 L298.92,40.01 L300.67,39.87 Z M306.25,38.25 L306.93,39.87 L308.68,40.01 L307.34,41.16 L307.75,42.86 L306.25,41.95 L304.75,42.86 L305.16,41.16 L303.82,40.01 L305.57,39.87 Z" fill="#111"/>
<rect x="44.26" y="586.6" width="4.48" height="81.4" fill="#000000" stroke="#333" stroke-width="0.6"/>
<rect x="44.26" y="558.59" width="4.48" height="19.81" fill="#000000" stroke="#333" stroke-width="0.6"/>
<rect x="50.14" y="586.6" width="4.48" height="81.4" fill="#999999" stroke="#333" stroke-width="0.6"/>
<rect x="50.14" y="562.27" width="4.48" height="16.13" fill="#999999" stroke="#333" stroke-width="0.6"/>
<rect x="56.02" y="586.6" width="4.48" height="81.4" fill="#eeeeee" stroke="#333" stroke-width="0.6"/>
<rect x="56.02" y="554.77" width="4.48" height="23.63" fill="#eeeeee" stroke="#333" stroke-width="0.6"/>
<rect x="61.9" y="586.6" width="4.48" height="81.4" fill="#0a28ff" stroke="#333" stroke-width="0.6"/>
<rect x="61.9" y="555.76" width="4.48" height="22.64" fill="#0a28ff" stroke="#333" stroke-width="0.6"/>
<rect x="67.78" y="586.6" width="4.48" height="81.4" fill="#0a8cff" stroke="#333" stroke-width="0.6"/>
<rect x="67.78" y="553.22" width="4.48" height="25.18" fill="#0a8cff" stroke="#333" stroke-width="0.6"/>
<rect x="73.66" y="586.6" width="4.48" height="81.4" fill="#00ffff" stroke="#333" stroke-width="0.6"/>
<rect x="73.66" y="558.59" width="4.48" height="19.81" fill="#00ffff" stroke="#333" stroke-width="0.6"/>
<rect x="84.51" y="586.6" width="4.48" height="81.4" fill="#000000" stroke="#333" stroke-width="0.6"/>
<rect x="84.51" y="563.4" width="4.48" height="15" fill="#000000" stroke="#333" stroke-width="0.6"/>
<rect x="90.39" y="586.6" width="4.48" height="81.4" fill="#999999" stroke="#333" stroke-width="0.6"/>
<rect x="90.39" y="565.95" width="4.48" height="12.45" fill="#999999" stroke="#333" stroke-width="0.6"/>
<rect x="96.27" y="586.6" width="4.48" height="81.4" fill="#eeeeee" stroke="#333" stroke-width="0.6"/>
<rect x="96.27" y="560.86" width="4.48" height="17.54" fill="#eeeeee" stroke="#333" stroke-width="0.6"/>
<rect x="102.15" y="586.6" width="4.48" height="81.4" fill="#0a28ff" stroke="#333" stroke-width="0.6"/>
<rect x="102.15" y="557.18" width="4.48" height="21.22" fill="#0a28ff" stroke="#333" stroke-width="0.6"/>
<rect x="108.03" y="586.6" width="4.48" height="81.4" fill="#0a8cff" stroke="#333" stroke-width="0.6"/>
<rect x="108.03" y="554.77" width="4.48" height="23.63" fill="#0a8cff" stroke="#333" stroke-width="0.6"/>
<rect x="113.91" y="586.6" width="4.48" height="81.4" fill="#00ffff" stroke="#333" stroke-width="0.6"/>
<rect x="113.91" y="560.29" width="4.48" height="18.11" fill="#00ffff" stroke="#333" stroke-width="0.6"/>
<rect x="124.76" y="589.86" width="4.48" height="78.14" fill="#000000" stroke="#333" stroke-width="0.6"/>
<rect x="130.64" y="599.62" width="4.48" height="68.38" fill="#999999" stroke="#333" stroke-width="0.6"/>
<rect x="136.52" y="586.6" width="4.48" height="81.4" fill="#eeeeee" stroke="#333" stroke-width="0.6"/>
<rect x="136.52" y="576.7" width="4.48" height="1.7" fill="#eeeeee" stroke="#333" stroke-width="0.6"/>
<rect x="142.4" y="602.88" width="4.48" height="65.12" fill="#0a28ff" stroke="#333" stroke-width="0.6"/>
<rect x="148.28" y="586.6" width="4.48" height="81.4" fill="#0a8cff" stroke="#333" stroke-width="0.6"/>
<rect x="148.28" y="577.83" width="4.48" height="0.57" fill="#0a8cff" stroke="#333" stroke-width="0.6"/>
<rect x="154.16" y="602.88" width="4.48" height="65.12" fill="#00ffff" stroke="#333" stroke-width="0.6"/>
<rect x="165.01" y="627.3" width="4.48" height="40.7" fill="#000000" stroke="#333" stroke-width="0.6"/>
<rect x="170.89" y="625.67" width="4.48" height="42.33" fill="#999999" stroke="#333" stroke-width="0.6"/>
<rect x="176.77" y="624.04" width="4.48" height="43.96" fill="#eeeeee" stroke="#333" stroke-width="0.6"/>
<rect x="182.65" y="664.09" width="4.48" height="3.91" fill="#0a28ff" stroke="#333" stroke-width="0.6"/>
<rect x="188.53" y="661.49" width="4.48" height="6.51" fill="#0a8cff" stroke="#333" stroke-width="0.6"/>
<rect x="194.41" y="665.07" width="4.48" height="2.93" fill="#00ffff" stroke="#333" stroke-width="0.6"/>
<rect x="205.26" y="622.42" width="4.48" height="45.58" fill="#000000" stroke="#333" stroke-width="0.6"/>
<rect x="211.14" y="620.79" width="4.48" height="47.21" fill="#999999" stroke="#333" stroke-width="0.6"/>
<rect x="217.02" y="625.67" width="4.48" height="42.33" fill="#eeeeee" stroke="#333" stroke-width="0.6"/>
<rect x="222.9" y="664.09" width="4.48" height="3.91" fill="#0a28ff" stroke="#333" stroke-width="0.6"/>
<rect x="228.78" y="662.79" width="4.48" height="5.21" fill="#0a8cff" stroke="#333" stroke-width="0.6"/>
<rect x="234.66" y="660.19" width="4.48" height="7.81" fill="#00ffff" stroke="#333" stroke-width="0.6"/>
<rect x="245.51" y="586.6" width="4.48" height="81.4" fill="#000000" stroke="#333" stroke-width="0.6"/>
<rect x="245.51" y="570.76" width="4.48" height="7.64" fill="#000000" stroke="#333" stroke-width="0.6"/>
<rect x="251.39" y="586.6" width="4.48" height="81.4" fill="#999999" stroke="#333" stroke-width="0.6"/>
<rect x="251.39" y="573.31" width="4.48" height="5.09" fill="#999999" stroke="#333" stroke-width="0.6"/>
<rect x="257.27" y="586.6" width="4.48" height="81.4" fill="#eeeeee" stroke="#333" stroke-width="0.6"/>
<rect x="257.27" y="568.5" width="4.48" height="9.9" fill="#eeeeee" stroke="#333" stroke-width="0.6"/>
<rect x="263.15" y="664.09" width="4.48" height="3.91" fill="#0a28ff" stroke="#333" stroke-width="0.6"/>
<rect x="269.03" y="661.49" width="4.48" height="6.51" fill="#0a8cff" stroke="#333" stroke-width="0.6"/>
<rect x="274.91" y="663.44" width="4.48" height="4.56" fill="#00ffff" stroke="#333" stroke-width="0.6"/>
<rect x="285.76" y="596.37" width="4.48" height="71.63" fill="#000000" stroke="#333" stroke-width="0.6"/>
<rect x="291.64" y="614.28" width="4.48" height="53.72" fill="#999999" stroke="#333" stroke-width="0.6"/>
<rect x="297.52" y="589.86" width="4.48" height="78.14" fill="#eeeeee" stroke="#333" stroke-width="0.6"/>
<rect x="303.4" y="652.7" width="4.48" height="15.3" fill="#0a28ff" stroke="#333" stroke-width="0.6"/>
<rect x="309.28" y="654.32" width="4.48" height="13.68" fill="#0a8cff" stroke="#333" stroke-width="0.6"/>
<rect x="315.16" y="656.6" width="4.48" height="11.4" fill="#00ffff" stroke="#333" stroke-width="0.6"/>
<rect x="326.01" y="586.6" width="4.48" height="81.4" fill="#000000" stroke="#333" stroke-width="0.6"/>
<rect x="331.89" y="589.86" width="4.48" height="78.14" fill="#999999" stroke="#333" stroke-width="0.6"/>
<rect x="337.77" y="627.3" width="4.48" height="40.7" fill="#eeeeee" stroke="#333" stroke-width="0.6"/>
<rect x="343.65" y="661.16" width="4.48" height="6.84" fill="#0a28ff" stroke="#333" stroke-width="0.6"/>
<rect x="349.53" y="661.16" width="4.48" height="6.84" fill="#0a8cff" stroke="#333" stroke-width="0.6"/>
<rect x="355.41" y="622.42" width="4.48" height="45.58" fill="#00ffff" stroke="#333" stroke-width="0.6"/>
<rect x="366.26" y="586.6" width="4.48" height="81.4" fill="#000000" stroke="#333" stroke-width="0.6"/>
<rect x="372.14" y="589.86" width="4.48" height="78.14" fill="#999999" stroke="#333" stroke-width="0.6"/>
<rect x="378.02" y="632.18" width="4.48" height="35.82" fill="#eeeeee" stroke="#333" stroke-width="0.6"/>
<rect x="383.9" y="660.84" width="4.48" height="7.16" fill="#0a28ff" stroke="#333" stroke-width="0.6"/>
<rect x="389.78" y="660.19" width="4.48" height="7.81" fill="#0a8cff" stroke="#333" stroke-width="0.6"/>
<rect x="395.66" y="614.28" width="4.48" height="53.72" fill="#00ffff" stroke="#333" stroke-width="0.6"/>
<rect x="406.51" y="622.42" width="4.48" height="45.58" fill="#000000" stroke="#333" stroke-width="0.6"/>
<rect x="412.39" y="635.44" width="4.48" height="32.56" fill="#999999" stroke="#333" stroke-width="0.6"/>
<rect x="418.27" y="654.98" width="4.48" height="13.02" fill="#eeeeee" stroke="#333" stroke-width="0.6"/>
<rect x="424.15" y="662.79" width="4.48" height="5.21" fill="#0a28ff" stroke="#333" stroke-width="0.6"/>
<rect x="430.03" y="659.21" width="4.48" height="8.79" fill="#0a8cff" stroke="#333" stroke-width="0.6"/>
<rect x="435.91" y="633.81" width="4.48" height="34.19" fill="#00ffff" stroke="#333" stroke-width="0.6"/>
<rect x="446.76" y="586.6" width="4.48" height="81.4" fill="#000000" stroke="#333" stroke-width="0.6"/>
<rect x="446.76" y="576.99" width="4.48" height="1.41" fill="#000000" stroke="#333" stroke-width="0.6"/>
<rect x="452.64" y="586.6" width="4.48" height="81.4" fill="#999999" stroke="#333" stroke-width="0.6"/>
<rect x="452.64" y="576.99" width="4.48" height="1.41" fill="#999999" stroke="#333" stroke-width="0.6"/>
<rect x="458.52" y="622.42" width="4.48" height="45.58" fill="#eeeeee" stroke="#333" stroke-width="0.6"/>
<rect x="464.4" y="606.14" width="4.48" height="61.86" fill="#0a28ff" stroke="#333" stroke-width="0.6"/>
<rect x="470.28" y="593.11" width="4.48" height="74.89" fill="#0a8cff" stroke="#333" stroke-width="0.6"/>
<rect x="476.16" y="586.6" width="4.48" height="81.4" fill="#00ffff" stroke="#333" stroke-width="0.6"/>
<rect x="476.16" y="572.17" width="4.48" height="6.23" fill="#00ffff" stroke="#333" stroke-width="0.6"/>
<rect x="487.01" y="586.6" width="4.48" height="81.4" fill="#000000" stroke="#333" stroke-width="0.6"/>
<rect x="487.01" y="529.73" width="4.48" height="48.67" fill="#000000" stroke="#333" stroke-width="0.6"/>
<rect x="492.89" y="586.6" width="4.48" height="81.4" fill="#999999" stroke="#333" stroke-width="0.6"/>
<rect x="492.89" y="530.3" width="4.48" height="48.1" fill="#999999" stroke="#333" stroke-width="0.6"/>
<rect x="498.77" y="586.6" width="4.48" height="81.4" fill="#eeeeee" stroke="#333" stroke-width="0.6"/>
<rect x="498.77" y="531.71" width="4.48" height="46.69" fill="#eeeeee" stroke="#333" stroke-width="0.6"/>
<rect x="504.65" y="586.6" width="4.48" height="81.4" fill="#0a28ff" stroke="#333" stroke-width="0.6"/>
<rect x="504.65" y="430.41" width="4.48" height="147.99" fill="#0a28ff" stroke="#333" stroke-width="0.6"/>
<rect x="510.53" y="586.6" width="4.48" height="81.4" fill="#0a8cff" stroke="#333" stroke-width="0.6"/>
<rect x="510.53" y="428.43" width="4.48" height="149.97" fill="#0a8cff" stroke="#333" stroke-width="0.6"/>
<rect x="516.41" y="586.6" width="4.48" height="81.4" fill="#00ffff" stroke="#333" stroke-width="0.6"/>
<rect x="516.41" y="427.01" width="4.48" height="151.39" fill="#00ffff" stroke="#333" stroke-width="0.6"/>
<rect x="544.9" y="586.6" width="4.48" height="81.4" fill="#0a28ff" stroke="#333" stroke-width="0.6"/>
<rect x="544.9" y="545.01" width="4.48" height="33.39" fill="#0a28ff" stroke="#333" stroke-width="0.6"/>
<rect x="550.78" y="586.6" width="4.48" height="81.4" fill="#0a8cff" stroke="#333" stroke-width="0.6"/>
<rect x="550.78" y="562.84" width="4.48" height="15.56" fill="#0a8cff" stroke="#333" stroke-width="0.6"/>
<rect x="556.66" y="586.6" width="4.48" height="81.4" fill="#00ffff" stroke="#333" stroke-width="0.6"/>
<rect x="556.66" y="576.14" width="4.48" height="2.26" fill="#00ffff" stroke="#333" stroke-width="0.6"/>
<rect x="567.51" y="664.74" width="4.48" height="3.26" fill="#000000" stroke="#333" stroke-width="0.6"/>
<rect x="573.39" y="662.46" width="4.48" height="5.54" fill="#999999" stroke="#333" stroke-width="0.6"/>
<rect x="579.27" y="660.84" width="4.48" height="7.16" fill="#eeeeee" stroke="#333" stroke-width="0.6"/>
<rect x="585.15" y="667.67" width="4.48" height="0.33" fill="#0a28ff" stroke="#333" stroke-width="0.6"/>
<rect x="591.03" y="667.67" width="4.48" height="0.33" fill="#0a8cff" stroke="#333" stroke-width="0.6"/>
<rect x="596.91" y="667.67" width="4.48" height="0.33" fill="#00ffff" stroke="#333" stroke-width="0.6"/>
<rect x="607.76" y="658.88" width="4.48" height="9.12" fill="#000000" stroke="#333" stroke-width="0.6"/>
<rect x="613.64" y="658.23" width="4.48" height="9.77" fill="#999999" stroke="#333" stroke-width="0.6"/>
<rect x="619.52" y="657.26" width="4.48" height="10.74" fill="#eeeeee" stroke="#333" stroke-width="0.6"/>
<rect x="625.4" y="665.4" width="4.48" height="2.6" fill="#0a28ff" stroke="#333" stroke-width="0.6"/>
<rect x="631.28" y="665.4" width="4.48" height="2.6" fill="#0a8cff" stroke="#333" stroke-width="0.6"/>
<rect x="637.16" y="665.4" width="4.48" height="2.6" fill="#00ffff" stroke="#333" stroke-width="0.6"/>
<rect x="648.01" y="658.88" width="4.48" height="9.12" fill="#000000" stroke="#333" stroke-width="0.6"/>
<rect x="653.89" y="651.72" width="4.48" height="16.28" fill="#999999" stroke="#333" stroke-width="0.6"/>
<rect x="659.77" y="651.07" width="4.48" height="16.93" fill="#eeeeee" stroke="#333" stroke-width="0.6"/>
<rect x="665.65" y="643.58" width="4.48" height="24.42" fill="#0a28ff" stroke="#333" stroke-width="0.6"/>
<rect x="671.53" y="652.37" width="4.48" height="15.63" fill="#0a8cff" stroke="#333" stroke-width="0.6"/>
<rect x="677.41" y="658.88" width="4.48" height="9.12" fill="#00ffff" stroke="#333" stroke-width="0.6"/>
<line x1="46.5" y1="558.59" x2="46.5" y2="557.26" stroke="#000" stroke-width="0.7"/>
<line x1="45.5" y1="557.26" x2="47.5" y2="557.26" stroke="#000" stroke-width="0.7"/>
<circle cx="45.4" cy="558.45" r="1.6" fill="#fff" stroke="#000" stroke-width="0.7"/>
<circle cx="46.7" cy="557.47" r="1.6" fill="#fff" stroke="#000" stroke-width="0.7"/>
<circle cx="47.3" cy="559.86" r="1.6" fill="#fff" stroke="#000" stroke-width="0.7"/>
<line x1="52.38" y1="562.27" x2="52.38" y2="560.74" stroke="#000" stroke-width="0.7"/>
<line x1="51.38" y1="560.74" x2="53.38" y2="560.74" stroke="#000" stroke-width="0.7"/>
<circle cx="51.73" cy="561.51" r="1.6" fill="#fff" stroke="#000" stroke-width="0.7"/>
<circle cx="52.25" cy="561.57" r="1.6" fill="#fff" stroke="#000" stroke-width="0.7"/>
<circle cx="53.17" cy="563.73" r="1.6" fill="#fff" stroke="#000" stroke-width="0.7"/>
<line x1="58.26" y1="554.77" x2="58.26" y2="553.43" stroke="#000" stroke-width="0.7"/>
<line x1="57.26" y1="553.43" x2="59.26" y2="553.43" stroke="#000" stroke-width="0.7"/>
<circle cx="57.61" cy="553.57" r="1.6" fill="#fff" stroke="#000" stroke-width="0.7"/>
<circle cx="58.42" cy="556.05" r="1.6" fill="#fff" stroke="#000" stroke-width="0.7"/>
<circle cx="58.9" cy="554.7" r="1.6" fill="#fff" stroke="#000" stroke-width="0.7"/>
<line x1="64.14" y1="555.76" x2="64.14" y2="554.9" stroke="#000" stroke-width="0.7"/>
<line x1="63.14" y1="554.9" x2="65.14" y2="554.9" stroke="#000" stroke-width="0.7"/>
<circle cx="63.09" cy="556.25" r="1.6" fill="#fff" stroke="#000" stroke-width="0.7"/>
<circle cx="64.46" cy="554.94" r="1.6" fill="#fff" stroke="#000" stroke-width="0.7"/>
<circle cx="64.66" cy="556.1" r="1.6" fill="#fff" stroke="#000" stroke-width="0.7"/>
<line x1="70.02" y1="553.22" x2="70.02" y2="551.65" stroke="#000" stroke-width="0.7"/>
<line x1="69.02" y1="551.65" x2="71.02" y2="551.65" stroke="#000" stroke-width="0.7"/>
<circle cx="69.32" cy="554.38" r="1.6" fill="#fff" stroke="#000" stroke-width="0.7"/>
<circle cx="69.77" cy="553.54" r="1.6" fill="#fff" stroke="#000" stroke-width="0.7"/>
<circle cx="70.64" cy="551.73" r="1.6" fill="#fff" stroke="#000" stroke-width="0.7"/>
<line x1="75.9" y1="558.59" x2="75.9" y2="555.75" stroke="#000" stroke-width="0.7"/>
<line x1="74.9" y1="555.75" x2="76.9" y2="555.75" stroke="#000" stroke-width="0.7"/>
<circle cx="75.16" cy="560.37" r="1.6" fill="#fff" stroke="#000" stroke-width="0.7"/>
<circle cx="75.74" cy="555.89" r="1.6" fill="#fff" stroke="#000" stroke-width="0.7"/>
<circle cx="77.04" cy="559.52" r="1.6" fill="#fff" stroke="#000" stroke-width="0.7"/>
<line x1="86.75" y1="563.4" x2="86.75" y2="562.76" stroke="#000" stroke-width="0.7"/>
<line x1="85.75" y1="562.76" x2="87.75" y2="562.76" stroke="#000" stroke-width="0.7"/>
<circle cx="85.78" cy="563.31" r="1.6" fill="#fff" stroke="#000" stroke-width="0.7"/>
<circle cx="86.98" cy="564.01" r="1.6" fill="#fff" stroke="#000" stroke-width="0.7"/>
<circle cx="87.37" cy="562.89" r="1.6" fill="#fff" stroke="#000" stroke-width="0.7"/>
<line x1="92.63" y1="565.95" x2="92.63" y2="565.53" stroke="#000" stroke-width="0.7"/>
<line x1="91.63" y1="565.53" x2="93.63" y2="565.53" stroke="#000" stroke-width="0.7"/>
<circle cx="91.92" cy="566.18" r="1.6" fill="#fff" stroke="#000" stroke-width="0.7"/>
<circle cx="92.4" cy="566.12" r="1.6" fill="#fff" stroke="#000" stroke-width="0.7"/>
<circle cx="93.35" cy="565.55" r="1.6" fill="#fff" stroke="#000" stroke-width="0.7"/>
<line x1="98.51" y1="560.86" x2="98.51" y2="559.34" stroke="#000" stroke-width="0.7"/>
<line x1="97.51" y1="559.34" x2="99.51" y2="559.34" stroke="#000" stroke-width="0.7"/>
<circle cx="97.54" cy="562.3" r="1.6" fill="#fff" stroke="#000" stroke-width="0.7"/>
<circle cx="98.85" cy="559.81" r="1.6" fill="#fff" stroke="#000" stroke-width="0.7"/>
<circle cx="99.33" cy="560.46" r="1.6" fill="#fff" stroke="#000" stroke-width="0.7"/>
<line x1="104.39" y1="557.18" x2="104.39" y2="554.59" stroke="#000" stroke-width="0.7"/>
<line x1="103.39" y1="554.59" x2="105.39" y2="554.59" stroke="#000" stroke-width="0.7"/>
<circle cx="103.62" cy="558.8" r="1.6" fill="#fff" stroke="#000" stroke-width="0.7"/>
<circle cx="104.46" cy="558.02" r="1.6" fill="#fff" stroke="#000" stroke-width="0.7"/>
<circle cx="105.12" cy="554.72" r="1.6" fill="#fff" stroke="#000" stroke-width="0.7"/>
<line x1="110.27" y1="554.77" x2="110.27" y2="552.97" stroke="#000" stroke-width="0.7"/>
<line x1="109.27" y1="552.97" x2="111.27" y2="552.97" stroke="#000" stroke-width="0.7"/>
<circle cx="109.3" cy="555.08" r="1.6" fill="#fff" stroke="#000" stroke-width="0.7"/>
<circle cx="110.39" cy="553.06" r="1.6" fill="#fff" stroke="#000" stroke-width="0.7"/>
<circle cx="111.11" cy="556.18" r="1.6" fill="#fff" stroke="#000" stroke-width="0.7"/>
<line x1="116.15" y1="560.29" x2="116.15" y2="557.02" stroke="#000" stroke-width="0.7"/>
<line x1="115.15" y1="557.02" x2="117.15" y2="557.02" stroke="#000" stroke-width="0.7"/>
<circle cx="114.93" cy="563.4" r="1.6" fill="#fff" stroke="#000" stroke-width="0.7"/>
<circle cx="116.5" cy="558.62" r="1.6" fill="#fff" stroke="#000" stroke-width="0.7"/>
<circle cx="117.02" cy="558.85" r="1.6" fill="#fff" stroke="#000" stroke-width="0.7"/>
<line x1="127" y1="589.86" x2="127" y2="577.7" stroke="#000" stroke-width="0.7"/>
<line x1="126" y1="577.7" x2="128" y2="577.7" stroke="#000" stroke-width="0.7"/>
<circle cx="126.02" cy="578.12" r="1.6" fill="#fff" stroke="#000" stroke-width="0.7"/>
<circle cx="126.71" cy="600.64" r="1.6" fill="#fff" stroke="#000" stroke-width="0.7"/>
<circle cx="127.85" cy="578.31" r="1.6" fill="#fff" stroke="#000" stroke-width="0.7"/>
<line x1="132.88" y1="599.62" x2="132.88" y2="591.78" stroke="#000" stroke-width="0.7"/>
<line x1="131.88" y1="591.78" x2="133.88" y2="591.78" stroke="#000" stroke-width="0.7"/>
<circle cx="132.22" cy="604.6" r="1.6" fill="#fff" stroke="#000" stroke-width="0.7"/>
<circle cx="133.1" cy="592.15" r="1.6" fill="#fff" stroke="#000" stroke-width="0.7"/>
<circle cx="134.16" cy="602.12" r="1.6" fill="#fff" stroke="#000" stroke-width="0.7"/>
<line x1="138.76" y1="576.7" x2="138.76" y2="575.78" stroke="#000" stroke-width="0.7"/>
<line x1="137.76" y1="575.78" x2="139.76" y2="575.78" stroke="#000" stroke-width="0.7"/>
<circle cx="137.95" cy="577.47" r="1.6" fill="#fff" stroke="#000" stroke-width="0.7"/>
<circle cx="138.38" cy="576.81" r="1.6" fill="#fff" stroke="#000" stroke-width="0.7"/>
<circle cx="139.84" cy="575.83" r="1.6" fill="#fff" stroke="#000" stroke-width="0.7"/>
<line x1="144.64" y1="602.88" x2="144.64" y2="596.95" stroke="#000" stroke-width="0.7"/>
<line x1="143.64" y1="596.95" x2="145.64" y2="596.95" stroke="#000" stroke-width="0.7"/>
<circle cx="143.76" cy="597.75" r="1.6" fill="#fff" stroke="#000" stroke-width="0.7"/>
<circle cx="144.37" cy="602.36" r="1.6" fill="#fff" stroke="#000" stroke-width="0.7"/>
<circle cx="145.28" cy="608.53" r="1.6" fill="#fff" stroke="#000" stroke-width="0.7"/>
<line x1="150.52" y1="577.83" x2="150.52" y2="577.53" stroke="#000" stroke-width="0.7"/>
<line x1="149.52" y1="577.53" x2="151.52" y2="577.53" stroke="#000" stroke-width="0.7"/>
<circle cx="149.49" cy="577.73" r="1.6" fill="#fff" stroke="#000" stroke-width="0.7"/>
<circle cx="150.89" cy="578.12" r="1.6" fill="#fff" stroke="#000" stroke-width="0.7"/>
<circle cx="151.27" cy="577.65" r="1.6" fill="#fff" stroke="#000" stroke-width="0.7"/>
<line x1="156.4" y1="602.88" x2="156.4" y2="598.22" stroke="#000" stroke-width="0.7"/>
<line x1="155.4" y1="598.22" x2="157.4" y2="598.22" stroke="#000" stroke-width="0.7"/>
<circle cx="155.74" cy="601.81" r="1.6" fill="#fff" stroke="#000" stroke-width="0.7"/>
<circle cx="156.54" cy="599.51" r="1.6" fill="#fff" stroke="#000" stroke-width="0.7"/>
<circle cx="157.38" cy="607.32" r="1.6" fill="#fff" stroke="#000" stroke-width="0.7"/>
<line x1="167.25" y1="627.3" x2="167.25" y2="622.25" stroke="#000" stroke-width="0.7"/>
<line x1="166.25" y1="622.25" x2="168.25" y2="622.25" stroke="#000" stroke-width="0.7"/>
<circle cx="166.62" cy="624.56" r="1.6" fill="#fff" stroke="#000" stroke-width="0.7"/>
<circle cx="167.48" cy="632.11" r="1.6" fill="#fff" stroke="#000" stroke-width="0.7"/>
<circle cx="168.14" cy="625.23" r="1.6" fill="#fff" stroke="#000" stroke-width="0.7"/>
<line x1="173.13" y1="625.67" x2="173.13" y2="623.79" stroke="#000" stroke-width="0.7"/>
<line x1="172.13" y1="623.79" x2="174.13" y2="623.79" stroke="#000" stroke-width="0.7"/>
<circle cx="172.18" cy="625.24" r="1.6" fill="#fff" stroke="#000" stroke-width="0.7"/>
<circle cx="173.01" cy="627.47" r="1.6" fill="#fff" stroke="#000" stroke-width="0.7"/>
<circle cx="174.06" cy="624.31" r="1.6" fill="#fff" stroke="#000" stroke-width="0.7"/>
<line x1="179.01" y1="624.04" x2="179.01" y2="620.6" stroke="#000" stroke-width="0.7"/>
<line x1="178.01" y1="620.6" x2="180.01" y2="620.6" stroke="#000" stroke-width="0.7"/>
<circle cx="178.1" cy="625.07" r="1.6" fill="#fff" stroke="#000" stroke-width="0.7"/>
<circle cx="179.18" cy="620.76" r="1.6" fill="#fff" stroke="#000" stroke-width="0.7"/>
<circle cx="180.24" cy="626.3" r="1.6" fill="#fff" stroke="#000" stroke-width="0.7"/>
<line x1="184.89" y1="664.09" x2="184.89" y2="663.85" stroke="#000" stroke-width="0.7"/>
<line x1="183.89" y1="663.85" x2="185.89" y2="663.85" stroke="#000" stroke-width="0.7"/>
<circle cx="183.92" cy="664.15" r="1.6" fill="#fff" stroke="#000" stroke-width="0.7"/>
<circle cx="184.53" cy="663.86" r="1.6" fill="#fff" stroke="#000" stroke-width="0.7"/>
<circle cx="185.68" cy="664.26" r="1.6" fill="#fff" stroke="#000" stroke-width="0.7"/>
<line x1="190.77" y1="661.49" x2="190.77" y2="661.37" stroke="#000" stroke-width="0.7"/>
<line x1="189.77" y1="661.37" x2="191.77" y2="661.37" stroke="#000" stroke-width="0.7"/>
<circle cx="189.59" cy="661.57" r="1.6" fill="#fff" stroke="#000" stroke-width="0.7"/>
<circle cx="190.65" cy="661.37" r="1.6" fill="#fff" stroke="#000" stroke-width="0.7"/>
<circle cx="191.61" cy="661.52" r="1.6" fill="#fff" stroke="#000" stroke-width="0.7"/>
<line x1="196.65" y1="665.07" x2="196.65" y2="664.87" stroke="#000" stroke-width="0.7"/>
<line x1="195.65" y1="664.87" x2="197.65" y2="664.87" stroke="#000" stroke-width="0.7"/>
<circle cx="195.82" cy="665.26" r="1.6" fill="#fff" stroke="#000" stroke-width="0.7"/>
<circle cx="196.57" cy="665.07" r="1.6" fill="#fff" stroke="#000" stroke-width="0.7"/>
<circle cx="197.25" cy="664.88" r="1.6" fill="#fff" stroke="#000" stroke-width="0.7"/>
<line x1="207.5" y1="622.42" x2="207.5" y2="617.73" stroke="#000" stroke-width="0.7"/>
<line x1="206.5" y1="617.73" x2="208.5" y2="617.73" stroke="#000" stroke-width="0.7"/>
<circle cx="206.45" cy="620.49" r="1.6" fill="#fff" stroke="#000" stroke-width="0.7"/>
<circle cx="207.46" cy="619.88" r="1.6" fill="#fff" stroke="#000" stroke-width="0.7"/>
<circle cx="208.32" cy="626.88" r="1.6" fill="#fff" stroke="#000" stroke-width="0.7"/>
<line x1="213.38" y1="620.79" x2="213.38" y2="618.67" stroke="#000" stroke-width="0.7"/>
<line x1="212.38" y1="618.67" x2="214.38" y2="618.67" stroke="#000" stroke-width="0.7"/>
<circle cx="212.22" cy="620.4" r="1.6" fill="#fff" stroke="#000" stroke-width="0.7"/>
<circle cx="213.26" cy="619.16" r="1.6" fill="#fff" stroke="#000" stroke-width="0.7"/>
<circle cx="214.25" cy="622.81" r="1.6" fill="#fff" stroke="#000" stroke-width="0.7"/>
<line x1="219.26" y1="625.67" x2="219.26" y2="623.5" stroke="#000" stroke-width="0.7"/>
<line x1="218.26" y1="623.5" x2="220.26" y2="623.5" stroke="#000" stroke-width="0.7"/>
<circle cx="218.32" cy="623.61" r="1.6" fill="#fff" stroke="#000" stroke-width="0.7"/>
<circle cx="219.15" cy="626.84" r="1.6" fill="#fff" stroke="#000" stroke-width="0.7"/>
<circle cx="220.48" cy="626.57" r="1.6" fill="#fff" stroke="#000" stroke-width="0.7"/>
<line x1="225.14" y1="664.09" x2="225.14" y2="664.02" stroke="#000" stroke-width="0.7"/>
<line x1="224.14" y1="664.02" x2="226.14" y2="664.02" stroke="#000" stroke-width="0.7"/>
<circle cx="223.91" cy="664.17" r="1.6" fill="#fff" stroke="#000" stroke-width="0.7"/>
<circle cx="225.36" cy="664.04" r="1.6" fill="#fff" stroke="#000" stroke-width="0.7"/>
<circle cx="226.12" cy="664.07" r="1.6" fill="#fff" stroke="#000" stroke-width="0.7"/>
<line x1="231.02" y1="662.79" x2="231.02" y2="662.47" stroke="#000" stroke-width="0.7"/>
<line x1="230.02" y1="662.47" x2="232.02" y2="662.47" stroke="#000" stroke-width="0.7"/>
<circle cx="230.17" cy="662.48" r="1.6" fill="#fff" stroke="#000" stroke-width="0.7"/>
<circle cx="231.38" cy="662.96" r="1.6" fill="#fff" stroke="#000" stroke-width="0.7"/>
<circle cx="232.08" cy="662.93" r="1.6" fill="#fff" stroke="#000" stroke-width="0.7"/>
<line x1="236.9" y1="660.19" x2="236.9" y2="659.3" stroke="#000" stroke-width="0.7"/>
<line x1="235.9" y1="659.3" x2="237.9" y2="659.3" stroke="#000" stroke-width="0.7"/>
<circle cx="236.11" cy="661.03" r="1.6" fill="#fff" stroke="#000" stroke-width="0.7"/>
<circle cx="237.3" cy="659.76" r="1.6" fill="#fff" stroke="#000" stroke-width="0.7"/>
<circle cx="237.59" cy="659.77" r="1.6" fill="#fff" stroke="#000" stroke-width="0.7"/>
<line x1="247.75" y1="570.76" x2="247.75" y2="570.02" stroke="#000" stroke-width="0.7"/>
<line x1="246.75" y1="570.02" x2="248.75" y2="570.02" stroke="#000" stroke-width="0.7"/>
<circle cx="246.48" cy="570.17" r="1.6" fill="#fff" stroke="#000" stroke-width="0.7"/>
<circle cx="248.02" cy="571.47" r="1.6" fill="#fff" stroke="#000" stroke-width="0.7"/>
<circle cx="248.59" cy="570.64" r="1.6" fill="#fff" stroke="#000" stroke-width="0.7"/>
<line x1="253.63" y1="573.31" x2="253.63" y2="572.83" stroke="#000" stroke-width="0.7"/>
<line x1="252.63" y1="572.83" x2="254.63" y2="572.83" stroke="#000" stroke-width="0.7"/>
<circle cx="252.34" cy="573.76" r="1.6" fill="#fff" stroke="#000" stroke-width="0.7"/>
<circle cx="253.42" cy="573.29" r="1.6" fill="#fff" stroke="#000" stroke-width="0.7"/>
<circle cx="254.93" cy="572.87" r="1.6" fill="#fff" stroke="#000" stroke-width="0.7"/>
<line x1="259.51" y1="568.5" x2="259.51" y2="567.2" stroke="#000" stroke-width="0.7"/>
<line x1="258.51" y1="567.2" x2="260.51" y2="567.2" stroke="#000" stroke-width="0.7"/>
<circle cx="258.81" cy="569.22" r="1.6" fill="#fff" stroke="#000" stroke-width="0.7"/>
<circle cx="259.66" cy="569" r="1.6" fill="#fff" stroke="#000" stroke-width="0.7"/>
<circle cx="260.57" cy="567.27" r="1.6" fill="#fff" stroke="#000" stroke-width="0.7"/>
<line x1="265.39" y1="664.09" x2="265.39" y2="664.08" stroke="#000" stroke-width="0.7"/>
<line x1="264.39" y1="664.08" x2="266.39" y2="664.08" stroke="#000" stroke-width="0.7"/>
<circle cx="264.42" cy="664.08" r="1.6" fill="#fff" stroke="#000" stroke-width="0.7"/>
<circle cx="265.73" cy="664.1" r="1.6" fill="#fff" stroke="#000" stroke-width="0.7"/>
<circle cx="266.31" cy="664.1" r="1.6" fill="#fff" stroke="#000" stroke-width="0.7"/>
<line x1="271.27" y1="661.49" x2="271.27" y2="661.2" stroke="#000" stroke-width="0.7"/>
<line x1="270.27" y1="661.2" x2="272.27" y2="661.2" stroke="#000" stroke-width="0.7"/>
<circle cx="270.14" cy="661.23" r="1.6" fill="#fff" stroke="#000" stroke-width="0.7"/>
<circle cx="271.58" cy="661.76" r="1.6" fill="#fff" stroke="#000" stroke-width="0.7"/>
<circle cx="271.89" cy="661.47" r="1.6" fill="#fff" stroke="#000" stroke-width="0.7"/>
<line x1="277.15" y1="663.44" x2="277.15" y2="663.15" stroke="#000" stroke-width="0.7"/>
<line x1="276.15" y1="663.15" x2="278.15" y2="663.15" stroke="#000" stroke-width="0.7"/>
<circle cx="276.59" cy="663.56" r="1.6" fill="#fff" stroke="#000" stroke-width="0.7"/>
<circle cx="276.87" cy="663.6" r="1.6" fill="#fff" stroke="#000" stroke-width="0.7"/>
<circle cx="277.98" cy="663.16" r="1.6" fill="#fff" stroke="#000" stroke-width="0.7"/>
<line x1="288" y1="596.37" x2="288" y2="587.88" stroke="#000" stroke-width="0.7"/>
<line x1="287" y1="587.88" x2="289" y2="587.88" stroke="#000" stroke-width="0.7"/>
<circle cx="286.7" cy="592.14" r="1.6" fill="#fff" stroke="#000" stroke-width="0.7"/>
<circle cx="288.35" cy="604.45" r="1.6" fill="#fff" stroke="#000" stroke-width="0.7"/>
<circle cx="289.2" cy="592.51" r="1.6" fill="#fff" stroke="#000" stroke-width="0.7"/>
<line x1="293.88" y1="614.28" x2="293.88" y2="610.85" stroke="#000" stroke-width="0.7"/>
<line x1="292.88" y1="610.85" x2="294.88" y2="610.85" stroke="#000" stroke-width="0.7"/>
<circle cx="292.74" cy="612.44" r="1.6" fill="#fff" stroke="#000" stroke-width="0.7"/>
<circle cx="293.66" cy="617.54" r="1.6" fill="#fff" stroke="#000" stroke-width="0.7"/>
<circle cx="294.66" cy="612.85" r="1.6" fill="#fff" stroke="#000" stroke-width="0.7"/>
<line x1="299.76" y1="589.86" x2="299.76" y2="589.08" stroke="#000" stroke-width="0.7"/>
<line x1="298.76" y1="589.08" x2="300.76" y2="589.08" stroke="#000" stroke-width="0.7"/>
<circle cx="299.13" cy="589.92" r="1.6" fill="#fff" stroke="#000" stroke-width="0.7"/>
<circle cx="299.41" cy="590.53" r="1.6" fill="#fff" stroke="#000" stroke-width="0.7"/>
<circle cx="300.35" cy="589.12" r="1.6" fill="#fff" stroke="#000" stroke-width="0.7"/>
<line x1="305.64" y1="652.7" x2="305.64" y2="651.52" stroke="#000" stroke-width="0.7"/>
<line x1="304.64" y1="651.52" x2="306.64" y2="651.52" stroke="#000" stroke-width="0.7"/>
<circle cx="304.34" cy="652.85" r="1.6" fill="#fff" stroke="#000" stroke-width="0.7"/>
<circle cx="306" cy="651.58" r="1.6" fill="#fff" stroke="#000" stroke-width="0.7"/>
<circle cx="306.89" cy="653.66" r="1.6" fill="#fff" stroke="#000" stroke-width="0.7"/>
<line x1="311.52" y1="654.32" x2="311.52" y2="652.81" stroke="#000" stroke-width="0.7"/>
<line x1="310.52" y1="652.81" x2="312.52" y2="652.81" stroke="#000" stroke-width="0.7"/>
<circle cx="310.47" cy="652.88" r="1.6" fill="#fff" stroke="#000" stroke-width="0.7"/>
<circle cx="311.69" cy="655.27" r="1.6" fill="#fff" stroke="#000" stroke-width="0.7"/>
<circle cx="312.24" cy="654.83" r="1.6" fill="#fff" stroke="#000" stroke-width="0.7"/>
<line x1="317.4" y1="656.6" x2="317.4" y2="655.84" stroke="#000" stroke-width="0.7"/>
<line x1="316.4" y1="655.84" x2="318.4" y2="655.84" stroke="#000" stroke-width="0.7"/>
<circle cx="316.36" cy="656.06" r="1.6" fill="#fff" stroke="#000" stroke-width="0.7"/>
<circle cx="317.3" cy="656.43" r="1.6" fill="#fff" stroke="#000" stroke-width="0.7"/>
<circle cx="318.44" cy="657.33" r="1.6" fill="#fff" stroke="#000" stroke-width="0.7"/>
<line x1="328.25" y1="586.6" x2="328.25" y2="578.34" stroke="#000" stroke-width="0.7"/>
<line x1="327.25" y1="578.34" x2="329.25" y2="578.34" stroke="#000" stroke-width="0.7"/>
<circle cx="327.74" cy="578.35" r="1.6" fill="#fff" stroke="#000" stroke-width="0.7"/>
<circle cx="328.06" cy="587.23" r="1.6" fill="#fff" stroke="#000" stroke-width="0.7"/>
<circle cx="329.19" cy="578.4" r="1.6" fill="#fff" stroke="#000" stroke-width="0.7"/>
<line x1="334.13" y1="589.86" x2="334.13" y2="578.01" stroke="#000" stroke-width="0.7"/>
<line x1="333.13" y1="578.01" x2="335.13" y2="578.01" stroke="#000" stroke-width="0.7"/>
<circle cx="333.17" cy="597.23" r="1.6" fill="#fff" stroke="#000" stroke-width="0.7"/>
<circle cx="334.26" cy="578.16" r="1.6" fill="#fff" stroke="#000" stroke-width="0.7"/>
<circle cx="334.68" cy="588.5" r="1.6" fill="#fff" stroke="#000" stroke-width="0.7"/>
<line x1="340.01" y1="627.3" x2="340.01" y2="623.06" stroke="#000" stroke-width="0.7"/>
<line x1="339.01" y1="623.06" x2="341.01" y2="623.06" stroke="#000" stroke-width="0.7"/>
<circle cx="339.2" cy="623.27" r="1.6" fill="#fff" stroke="#000" stroke-width="0.7"/>
<circle cx="339.82" cy="628.62" r="1.6" fill="#fff" stroke="#000" stroke-width="0.7"/>
<circle cx="340.9" cy="630.01" r="1.6" fill="#fff" stroke="#000" stroke-width="0.7"/>
<line x1="345.89" y1="661.16" x2="345.89" y2="660.97" stroke="#000" stroke-width="0.7"/>
<line x1="344.89" y1="660.97" x2="346.89" y2="660.97" stroke="#000" stroke-width="0.7"/>
<circle cx="345.34" cy="661.22" r="1.6" fill="#fff" stroke="#000" stroke-width="0.7"/>
<circle cx="345.54" cy="661.29" r="1.6" fill="#fff" stroke="#000" stroke-width="0.7"/>
<circle cx="346.83" cy="660.98" r="1.6" fill="#fff" stroke="#000" stroke-width="0.7"/>
<line x1="351.77" y1="661.16" x2="351.77" y2="660.77" stroke="#000" stroke-width="0.7"/>
<line x1="350.77" y1="660.77" x2="352.77" y2="660.77" stroke="#000" stroke-width="0.7"/>
<circle cx="350.66" cy="661.18" r="1.6" fill="#fff" stroke="#000" stroke-width="0.7"/>
<circle cx="352.14" cy="660.79" r="1.6" fill="#fff" stroke="#000" stroke-width="0.7"/>
<circle cx="352.57" cy="661.52" r="1.6" fill="#fff" stroke="#000" stroke-width="0.7"/>
<line x1="357.65" y1="622.42" x2="357.65" y2="618.17" stroke="#000" stroke-width="0.7"/>
<line x1="356.65" y1="618.17" x2="358.65" y2="618.17" stroke="#000" stroke-width="0.7"/>
<circle cx="357.09" cy="626.46" r="1.6" fill="#fff" stroke="#000" stroke-width="0.7"/>
<circle cx="357.34" cy="619.81" r="1.6" fill="#fff" stroke="#000" stroke-width="0.7"/>
<circle cx="358.55" cy="620.98" r="1.6" fill="#fff" stroke="#000" stroke-width="0.7"/>
<line x1="368.5" y1="586.6" x2="368.5" y2="577.9" stroke="#000" stroke-width="0.7"/>
<line x1="367.5" y1="577.9" x2="369.5" y2="577.9" stroke="#000" stroke-width="0.7"/>
<circle cx="367.97" cy="587.11" r="1.6" fill="#fff" stroke="#000" stroke-width="0.7"/>
<circle cx="368.62" cy="591.59" r="1.6" fill="#fff" stroke="#000" stroke-width="0.7"/>
<circle cx="369.52" cy="577.92" r="1.6" fill="#fff" stroke="#000" stroke-width="0.7"/>
<line x1="374.38" y1="589.86" x2="374.38" y2="578.15" stroke="#000" stroke-width="0.7"/>
<line x1="373.38" y1="578.15" x2="375.38" y2="578.15" stroke="#000" stroke-width="0.7"/>
<circle cx="373.39" cy="578.17" r="1.6" fill="#fff" stroke="#000" stroke-width="0.7"/>
<circle cx="373.98" cy="593.92" r="1.6" fill="#fff" stroke="#000" stroke-width="0.7"/>
<circle cx="375.21" cy="591.66" r="1.6" fill="#fff" stroke="#000" stroke-width="0.7"/>
<line x1="380.26" y1="632.18" x2="380.26" y2="627.91" stroke="#000" stroke-width="0.7"/>
<line x1="379.26" y1="627.91" x2="381.26" y2="627.91" stroke="#000" stroke-width="0.7"/>
<circle cx="379.62" cy="636.26" r="1.6" fill="#fff" stroke="#000" stroke-width="0.7"/>
<circle cx="380.61" cy="629.5" r="1.6" fill="#fff" stroke="#000" stroke-width="0.7"/>
<circle cx="380.9" cy="630.79" r="1.6" fill="#fff" stroke="#000" stroke-width="0.7"/>
<line x1="386.14" y1="660.84" x2="386.14" y2="660.23" stroke="#000" stroke-width="0.7"/>
<line x1="385.14" y1="660.23" x2="387.14" y2="660.23" stroke="#000" stroke-width="0.7"/>
<circle cx="385.29" cy="660.69" r="1.6" fill="#fff" stroke="#000" stroke-width="0.7"/>
<circle cx="386.22" cy="661.41" r="1.6" fill="#fff" stroke="#000" stroke-width="0.7"/>
<circle cx="386.8" cy="660.41" r="1.6" fill="#fff" stroke="#000" stroke-width="0.7"/>
<line x1="392.02" y1="660.19" x2="392.02" y2="659.62" stroke="#000" stroke-width="0.7"/>
<line x1="391.02" y1="659.62" x2="393.02" y2="659.62" stroke="#000" stroke-width="0.7"/>
<circle cx="390.96" cy="659.65" r="1.6" fill="#fff" stroke="#000" stroke-width="0.7"/>
<circle cx="391.72" cy="660.29" r="1.6" fill="#fff" stroke="#000" stroke-width="0.7"/>
<circle cx="392.6" cy="660.62" r="1.6" fill="#fff" stroke="#000" stroke-width="0.7"/>
<line x1="397.9" y1="614.28" x2="397.9" y2="608.91" stroke="#000" stroke-width="0.7"/>
<line x1="396.9" y1="608.91" x2="398.9" y2="608.91" stroke="#000" stroke-width="0.7"/>
<circle cx="397.1" cy="617.64" r="1.6" fill="#fff" stroke="#000" stroke-width="0.7"/>
<circle cx="397.8" cy="609.16" r="1.6" fill="#fff" stroke="#000" stroke-width="0.7"/>
<circle cx="399.01" cy="616.02" r="1.6" fill="#fff" stroke="#000" stroke-width="0.7"/>
<line x1="408.75" y1="622.42" x2="408.75" y2="618.97" stroke="#000" stroke-width="0.7"/>
<line x1="407.75" y1="618.97" x2="409.75" y2="618.97" stroke="#000" stroke-width="0.7"/>
<circle cx="407.79" cy="624.19" r="1.6" fill="#fff" stroke="#000" stroke-width="0.7"/>
<circle cx="408.94" cy="623.93" r="1.6" fill="#fff" stroke="#000" stroke-width="0.7"/>
<circle cx="409.53" cy="619.13" r="1.6" fill="#fff" stroke="#000" stroke-width="0.7"/>
<line x1="414.63" y1="635.44" x2="414.63" y2="634.98" stroke="#000" stroke-width="0.7"/>
<line x1="413.63" y1="634.98" x2="415.63" y2="634.98" stroke="#000" stroke-width="0.7"/>
<circle cx="413.43" cy="635.06" r="1.6" fill="#fff" stroke="#000" stroke-width="0.7"/>
<circle cx="414.37" cy="635.38" r="1.6" fill="#fff" stroke="#000" stroke-width="0.7"/>
<circle cx="415.28" cy="635.88" r="1.6" fill="#fff" stroke="#000" stroke-width="0.7"/>
<line x1="420.51" y1="654.98" x2="420.51" y2="653.16" stroke="#000" stroke-width="0.7"/>
<line x1="419.51" y1="653.16" x2="421.51" y2="653.16" stroke="#000" stroke-width="0.7"/>
<circle cx="419.33" cy="655.98" r="1.6" fill="#fff" stroke="#000" stroke-width="0.7"/>
<circle cx="420.68" cy="653.25" r="1.6" fill="#fff" stroke="#000" stroke-width="0.7"/>
<circle cx="421.55" cy="655.7" r="1.6" fill="#fff" stroke="#000" stroke-width="0.7"/>
<line x1="426.39" y1="662.79" x2="426.39" y2="662.42" stroke="#000" stroke-width="0.7"/>
<line x1="425.39" y1="662.42" x2="427.39" y2="662.42" stroke="#000" stroke-width="0.7"/>
<circle cx="425.16" cy="662.45" r="1.6" fill="#fff" stroke="#000" stroke-width="0.7"/>
<circle cx="426.76" cy="663.14" r="1.6" fill="#fff" stroke="#000" stroke-width="0.7"/>
<circle cx="427.53" cy="662.78" r="1.6" fill="#fff" stroke="#000" stroke-width="0.7"/>
<line x1="432.27" y1="659.21" x2="432.27" y2="658.44" stroke="#000" stroke-width="0.7"/>
<line x1="431.27" y1="658.44" x2="433.27" y2="658.44" stroke="#000" stroke-width="0.7"/>
<circle cx="431.01" cy="659.65" r="1.6" fill="#fff" stroke="#000" stroke-width="0.7"/>
<circle cx="432.46" cy="658.47" r="1.6" fill="#fff" stroke="#000" stroke-width="0.7"/>
<circle cx="433.27" cy="659.51" r="1.6" fill="#fff" stroke="#000" stroke-width="0.7"/>
<line x1="438.15" y1="633.81" x2="438.15" y2="630.97" stroke="#000" stroke-width="0.7"/>
<line x1="437.15" y1="630.97" x2="439.15" y2="630.97" stroke="#000" stroke-width="0.7"/>
<circle cx="437.44" cy="631.11" r="1.6" fill="#fff" stroke="#000" stroke-width="0.7"/>
<circle cx="437.76" cy="636.34" r="1.6" fill="#fff" stroke="#000" stroke-width="0.7"/>
<circle cx="438.83" cy="633.99" r="1.6" fill="#fff" stroke="#000" stroke-width="0.7"/>
<line x1="449" y1="576.99" x2="449" y2="576.2" stroke="#000" stroke-width="0.7"/>
<line x1="448" y1="576.2" x2="450" y2="576.2" stroke="#000" stroke-width="0.7"/>
<circle cx="448.47" cy="576.24" r="1.6" fill="#fff" stroke="#000" stroke-width="0.7"/>
<circle cx="449.34" cy="577.46" r="1.6" fill="#fff" stroke="#000" stroke-width="0.7"/>
<circle cx="449.81" cy="577.26" r="1.6" fill="#fff" stroke="#000" stroke-width="0.7"/>
<line x1="454.88" y1="576.99" x2="454.88" y2="576.33" stroke="#000" stroke-width="0.7"/>
<line x1="453.88" y1="576.33" x2="455.88" y2="576.33" stroke="#000" stroke-width="0.7"/>
<circle cx="453.67" cy="577.61" r="1.6" fill="#fff" stroke="#000" stroke-width="0.7"/>
<circle cx="455.06" cy="576.84" r="1.6" fill="#fff" stroke="#000" stroke-width="0.7"/>
<circle cx="455.78" cy="576.5" r="1.6" fill="#fff" stroke="#000" stroke-width="0.7"/>
<line x1="460.76" y1="622.42" x2="460.76" y2="619.6" stroke="#000" stroke-width="0.7"/>
<line x1="459.76" y1="619.6" x2="461.76" y2="619.6" stroke="#000" stroke-width="0.7"/>
<circle cx="459.83" cy="623.39" r="1.6" fill="#fff" stroke="#000" stroke-width="0.7"/>
<circle cx="460.84" cy="624.12" r="1.6" fill="#fff" stroke="#000" stroke-width="0.7"/>
<circle cx="461.56" cy="619.74" r="1.6" fill="#fff" stroke="#000" stroke-width="0.7"/>
<line x1="466.64" y1="606.14" x2="466.64" y2="602.58" stroke="#000" stroke-width="0.7"/>
<line x1="465.64" y1="602.58" x2="467.64" y2="602.58" stroke="#000" stroke-width="0.7"/>
<circle cx="465.8" cy="609.53" r="1.6" fill="#fff" stroke="#000" stroke-width="0.7"/>
<circle cx="466.66" cy="603.52" r="1.6" fill="#fff" stroke="#000" stroke-width="0.7"/>
<circle cx="467.18" cy="605.36" r="1.6" fill="#fff" stroke="#000" stroke-width="0.7"/>
<line x1="472.52" y1="593.11" x2="472.52" y2="578.12" stroke="#000" stroke-width="0.7"/>
<line x1="471.52" y1="578.12" x2="473.52" y2="578.12" stroke="#000" stroke-width="0.7"/>
<circle cx="471.51" cy="602.42" r="1.6" fill="#fff" stroke="#000" stroke-width="0.7"/>
<circle cx="472.67" cy="587.19" r="1.6" fill="#fff" stroke="#000" stroke-width="0.7"/>
<circle cx="473.48" cy="589.73" r="1.6" fill="#fff" stroke="#000" stroke-width="0.7"/>
<line x1="478.4" y1="572.17" x2="478.4" y2="571.43" stroke="#000" stroke-width="0.7"/>
<line x1="477.4" y1="571.43" x2="479.4" y2="571.43" stroke="#000" stroke-width="0.7"/>
<circle cx="477.5" cy="572.88" r="1.6" fill="#fff" stroke="#000" stroke-width="0.7"/>
<circle cx="478.05" cy="571.6" r="1.6" fill="#fff" stroke="#000" stroke-width="0.7"/>
<circle cx="479.09" cy="572.04" r="1.6" fill="#fff" stroke="#000" stroke-width="0.7"/>
<line x1="489.25" y1="529.73" x2="489.25" y2="505.2" stroke="#000" stroke-width="0.7"/>
<line x1="488.25" y1="505.2" x2="490.25" y2="505.2" stroke="#000" stroke-width="0.7"/>
<circle cx="489.25" cy="506" r="1.6" fill="#fff" stroke="#000" stroke-width="0.7"/>
<circle cx="489.25" cy="525.8" r="1.6" fill="#fff" stroke="#000" stroke-width="0.7"/>
<circle cx="489.25" cy="531.5" r="1.6" fill="#fff" stroke="#000" stroke-width="0.7"/>
<line x1="495.13" y1="530.3" x2="495.13" y2="518" stroke="#000" stroke-width="0.7"/>
<line x1="494.13" y1="518" x2="496.13" y2="518" stroke="#000" stroke-width="0.7"/>
<circle cx="495.13" cy="518.9" r="1.6" fill="#fff" stroke="#000" stroke-width="0.7"/>
<circle cx="495.13" cy="526.8" r="1.6" fill="#fff" stroke="#000" stroke-width="0.7"/>
<circle cx="495.13" cy="533" r="1.6" fill="#fff" stroke="#000" stroke-width="0.7"/>
<line x1="501.01" y1="531.71" x2="501.01" y2="528.5" stroke="#000" stroke-width="0.7"/>
<line x1="500.01" y1="528.5" x2="502.01" y2="528.5" stroke="#000" stroke-width="0.7"/>
<circle cx="501.01" cy="530" r="1.6" fill="#fff" stroke="#000" stroke-width="0.7"/>
<circle cx="501.01" cy="531.5" r="1.6" fill="#fff" stroke="#000" stroke-width="0.7"/>
<circle cx="501.01" cy="534" r="1.6" fill="#fff" stroke="#000" stroke-width="0.7"/>
<line x1="506.89" y1="430.41" x2="506.89" y2="420.9" stroke="#000" stroke-width="0.7"/>
<line x1="505.89" y1="420.9" x2="507.89" y2="420.9" stroke="#000" stroke-width="0.7"/>
<circle cx="506.89" cy="423.3" r="1.6" fill="#fff" stroke="#000" stroke-width="0.7"/>
<circle cx="506.89" cy="426.6" r="1.6" fill="#fff" stroke="#000" stroke-width="0.7"/>
<circle cx="506.89" cy="440.2" r="1.6" fill="#fff" stroke="#000" stroke-width="0.7"/>
<line x1="512.77" y1="428.43" x2="512.77" y2="416.6" stroke="#000" stroke-width="0.7"/>
<line x1="511.77" y1="416.6" x2="513.77" y2="416.6" stroke="#000" stroke-width="0.7"/>
<circle cx="512.77" cy="419.6" r="1.6" fill="#fff" stroke="#000" stroke-width="0.7"/>
<circle cx="512.77" cy="422.6" r="1.6" fill="#fff" stroke="#000" stroke-width="0.7"/>
<circle cx="512.77" cy="439.5" r="1.6" fill="#fff" stroke="#000" stroke-width="0.7"/>
<line x1="518.65" y1="427.01" x2="518.65" y2="415.2" stroke="#000" stroke-width="0.7"/>
<line x1="517.65" y1="415.2" x2="519.65" y2="415.2" stroke="#000" stroke-width="0.7"/>
<circle cx="518.65" cy="418.9" r="1.6" fill="#fff" stroke="#000" stroke-width="0.7"/>
<circle cx="518.65" cy="420.4" r="1.6" fill="#fff" stroke="#000" stroke-width="0.7"/>
<circle cx="518.65" cy="439" r="1.6" fill="#fff" stroke="#000" stroke-width="0.7"/>
<circle cx="528.3" cy="667.7" r="1.6" fill="#fff" stroke="#000" stroke-width="0.7"/>
<circle cx="529.5" cy="667.7" r="1.6" fill="#fff" stroke="#000" stroke-width="0.7"/>
<circle cx="530.7" cy="667.7" r="1.6" fill="#fff" stroke="#000" stroke-width="0.7"/>
<circle cx="534.18" cy="667.7" r="1.6" fill="#fff" stroke="#000" stroke-width="0.7"/>
<circle cx="535.38" cy="667.7" r="1.6" fill="#fff" stroke="#000" stroke-width="0.7"/>
<circle cx="536.58" cy="667.7" r="1.6" fill="#fff" stroke="#000" stroke-width="0.7"/>
<circle cx="540.06" cy="667.7" r="1.6" fill="#fff" stroke="#000" stroke-width="0.7"/>
<circle cx="541.26" cy="667.7" r="1.6" fill="#fff" stroke="#000" stroke-width="0.7"/>
<circle cx="542.46" cy="667.7" r="1.6" fill="#fff" stroke="#000" stroke-width="0.7"/>
<line x1="547.14" y1="545.01" x2="547.14" y2="535.9" stroke="#000" stroke-width="0.7"/>
<line x1="546.14" y1="535.9" x2="548.14" y2="535.9" stroke="#000" stroke-width="0.7"/>
<circle cx="547.14" cy="537.5" r="1.6" fill="#fff" stroke="#000" stroke-width="0.7"/>
<circle cx="547.14" cy="546.8" r="1.6" fill="#fff" stroke="#000" stroke-width="0.7"/>
<circle cx="547.14" cy="549.6" r="1.6" fill="#fff" stroke="#000" stroke-width="0.7"/>
<line x1="553.02" y1="562.84" x2="553.02" y2="553.4" stroke="#000" stroke-width="0.7"/>
<line x1="552.02" y1="553.4" x2="554.02" y2="553.4" stroke="#000" stroke-width="0.7"/>
<circle cx="553.02" cy="555" r="1.6" fill="#fff" stroke="#000" stroke-width="0.7"/>
<circle cx="553.02" cy="564.4" r="1.6" fill="#fff" stroke="#000" stroke-width="0.7"/>
<circle cx="553.02" cy="567.4" r="1.6" fill="#fff" stroke="#000" stroke-width="0.7"/>
<circle cx="558.9" cy="576.4" r="1.6" fill="#fff" stroke="#000" stroke-width="0.7"/>
<circle cx="558.9" cy="576.4" r="1.6" fill="#fff" stroke="#000" stroke-width="0.7"/>
<line x1="569.75" y1="664.74" x2="569.75" y2="664.38" stroke="#000" stroke-width="0.7"/>
<line x1="568.75" y1="664.38" x2="570.75" y2="664.38" stroke="#000" stroke-width="0.7"/>
<circle cx="568.51" cy="664.4" r="1.6" fill="#fff" stroke="#000" stroke-width="0.7"/>
<circle cx="569.64" cy="665.05" r="1.6" fill="#fff" stroke="#000" stroke-width="0.7"/>
<circle cx="570.46" cy="664.78" r="1.6" fill="#fff" stroke="#000" stroke-width="0.7"/>
<line x1="575.63" y1="662.46" x2="575.63" y2="661.98" stroke="#000" stroke-width="0.7"/>
<line x1="574.63" y1="661.98" x2="576.63" y2="661.98" stroke="#000" stroke-width="0.7"/>
<circle cx="574.81" cy="662.01" r="1.6" fill="#fff" stroke="#000" stroke-width="0.7"/>
<circle cx="575.97" cy="662.61" r="1.6" fill="#fff" stroke="#000" stroke-width="0.7"/>
<circle cx="576.61" cy="662.78" r="1.6" fill="#fff" stroke="#000" stroke-width="0.7"/>
<line x1="581.51" y1="660.84" x2="581.51" y2="659.94" stroke="#000" stroke-width="0.7"/>
<line x1="580.51" y1="659.94" x2="582.51" y2="659.94" stroke="#000" stroke-width="0.7"/>
<circle cx="580.9" cy="660.98" r="1.6" fill="#fff" stroke="#000" stroke-width="0.7"/>
<circle cx="581.35" cy="659.98" r="1.6" fill="#fff" stroke="#000" stroke-width="0.7"/>
<circle cx="582.08" cy="661.55" r="1.6" fill="#fff" stroke="#000" stroke-width="0.7"/>
<circle cx="586.19" cy="667.7" r="1.6" fill="#fff" stroke="#000" stroke-width="0.7"/>
<circle cx="587.39" cy="667.7" r="1.6" fill="#fff" stroke="#000" stroke-width="0.7"/>
<circle cx="588.59" cy="667.7" r="1.6" fill="#fff" stroke="#000" stroke-width="0.7"/>
<circle cx="592.07" cy="667.7" r="1.6" fill="#fff" stroke="#000" stroke-width="0.7"/>
<circle cx="593.27" cy="667.7" r="1.6" fill="#fff" stroke="#000" stroke-width="0.7"/>
<circle cx="594.47" cy="667.7" r="1.6" fill="#fff" stroke="#000" stroke-width="0.7"/>
<circle cx="597.95" cy="667.7" r="1.6" fill="#fff" stroke="#000" stroke-width="0.7"/>
<circle cx="599.15" cy="667.7" r="1.6" fill="#fff" stroke="#000" stroke-width="0.7"/>
<circle cx="600.35" cy="667.7" r="1.6" fill="#fff" stroke="#000" stroke-width="0.7"/>
<line x1="610" y1="658.88" x2="610" y2="658.24" stroke="#000" stroke-width="0.7"/>
<line x1="609" y1="658.24" x2="611" y2="658.24" stroke="#000" stroke-width="0.7"/>
<circle cx="609.31" cy="659.23" r="1.6" fill="#fff" stroke="#000" stroke-width="0.7"/>
<circle cx="610.26" cy="658.27" r="1.6" fill="#fff" stroke="#000" stroke-width="0.7"/>
<circle cx="610.65" cy="659.14" r="1.6" fill="#fff" stroke="#000" stroke-width="0.7"/>
<line x1="615.88" y1="658.23" x2="615.88" y2="657.67" stroke="#000" stroke-width="0.7"/>
<line x1="614.88" y1="657.67" x2="616.88" y2="657.67" stroke="#000" stroke-width="0.7"/>
<circle cx="615.2" cy="657.7" r="1.6" fill="#fff" stroke="#000" stroke-width="0.7"/>
<circle cx="616.09" cy="658.57" r="1.6" fill="#fff" stroke="#000" stroke-width="0.7"/>
<circle cx="616.8" cy="658.43" r="1.6" fill="#fff" stroke="#000" stroke-width="0.7"/>
<line x1="621.76" y1="657.26" x2="621.76" y2="656.67" stroke="#000" stroke-width="0.7"/>
<line x1="620.76" y1="656.67" x2="622.76" y2="656.67" stroke="#000" stroke-width="0.7"/>
<circle cx="621.17" cy="656.7" r="1.6" fill="#fff" stroke="#000" stroke-width="0.7"/>
<circle cx="621.74" cy="657.75" r="1.6" fill="#fff" stroke="#000" stroke-width="0.7"/>
<circle cx="622.88" cy="657.32" r="1.6" fill="#fff" stroke="#000" stroke-width="0.7"/>
<line x1="627.64" y1="665.4" x2="627.64" y2="665.33" stroke="#000" stroke-width="0.7"/>
<line x1="626.64" y1="665.33" x2="628.64" y2="665.33" stroke="#000" stroke-width="0.7"/>
<circle cx="626.76" cy="665.35" r="1.6" fill="#fff" stroke="#000" stroke-width="0.7"/>
<circle cx="627.95" cy="665.46" r="1.6" fill="#fff" stroke="#000" stroke-width="0.7"/>
<circle cx="628.37" cy="665.38" r="1.6" fill="#fff" stroke="#000" stroke-width="0.7"/>
<line x1="633.52" y1="665.4" x2="633.52" y2="665.24" stroke="#000" stroke-width="0.7"/>
<line x1="632.52" y1="665.24" x2="634.52" y2="665.24" stroke="#000" stroke-width="0.7"/>
<circle cx="632.58" cy="665.3" r="1.6" fill="#fff" stroke="#000" stroke-width="0.7"/>
<circle cx="633.85" cy="665.34" r="1.6" fill="#fff" stroke="#000" stroke-width="0.7"/>
<circle cx="634.47" cy="665.54" r="1.6" fill="#fff" stroke="#000" stroke-width="0.7"/>
<line x1="639.4" y1="665.4" x2="639.4" y2="665.13" stroke="#000" stroke-width="0.7"/>
<line x1="638.4" y1="665.13" x2="640.4" y2="665.13" stroke="#000" stroke-width="0.7"/>
<circle cx="638.33" cy="665.51" r="1.6" fill="#fff" stroke="#000" stroke-width="0.7"/>
<circle cx="639.38" cy="665.53" r="1.6" fill="#fff" stroke="#000" stroke-width="0.7"/>
<circle cx="640.52" cy="665.14" r="1.6" fill="#fff" stroke="#000" stroke-width="0.7"/>
<line x1="650.25" y1="658.88" x2="650.25" y2="658.17" stroke="#000" stroke-width="0.7"/>
<line x1="649.25" y1="658.17" x2="651.25" y2="658.17" stroke="#000" stroke-width="0.7"/>
<circle cx="649.31" cy="659.57" r="1.6" fill="#fff" stroke="#000" stroke-width="0.7"/>
<circle cx="650.39" cy="658.76" r="1.6" fill="#fff" stroke="#000" stroke-width="0.7"/>
<circle cx="651.15" cy="658.33" r="1.6" fill="#fff" stroke="#000" stroke-width="0.7"/>
<line x1="656.13" y1="651.72" x2="656.13" y2="650.07" stroke="#000" stroke-width="0.7"/>
<line x1="655.13" y1="650.07" x2="657.13" y2="650.07" stroke="#000" stroke-width="0.7"/>
<circle cx="654.92" cy="653.29" r="1.6" fill="#fff" stroke="#000" stroke-width="0.7"/>
<circle cx="656.45" cy="651.26" r="1.6" fill="#fff" stroke="#000" stroke-width="0.7"/>
<circle cx="656.66" cy="650.61" r="1.6" fill="#fff" stroke="#000" stroke-width="0.7"/>
<line x1="662.01" y1="651.07" x2="662.01" y2="649.9" stroke="#000" stroke-width="0.7"/>
<line x1="661.01" y1="649.9" x2="663.01" y2="649.9" stroke="#000" stroke-width="0.7"/>
<circle cx="661.39" cy="652.18" r="1.6" fill="#fff" stroke="#000" stroke-width="0.7"/>
<circle cx="662.19" cy="650.42" r="1.6" fill="#fff" stroke="#000" stroke-width="0.7"/>
<circle cx="662.57" cy="650.61" r="1.6" fill="#fff" stroke="#000" stroke-width="0.7"/>
<line x1="667.89" y1="643.58" x2="667.89" y2="642.29" stroke="#000" stroke-width="0.7"/>
<line x1="666.89" y1="642.29" x2="668.89" y2="642.29" stroke="#000" stroke-width="0.7"/>
<circle cx="666.73" cy="643.37" r="1.6" fill="#fff" stroke="#000" stroke-width="0.7"/>
<circle cx="668.18" cy="644.81" r="1.6" fill="#fff" stroke="#000" stroke-width="0.7"/>
<circle cx="668.74" cy="642.56" r="1.6" fill="#fff" stroke="#000" stroke-width="0.7"/>
<line x1="673.77" y1="652.37" x2="673.77" y2="651.56" stroke="#000" stroke-width="0.7"/>
<line x1="672.77" y1="651.56" x2="674.77" y2="651.56" stroke="#000" stroke-width="0.7"/>
<circle cx="672.98" cy="651.59" r="1.6" fill="#fff" stroke="#000" stroke-width="0.7"/>
<circle cx="674.11" cy="652.63" r="1.6" fill="#fff" stroke="#000" stroke-width="0.7"/>
<circle cx="674.75" cy="652.89" r="1.6" fill="#fff" stroke="#000" stroke-width="0.7"/>
<line x1="679.65" y1="658.88" x2="679.65" y2="657.77" stroke="#000" stroke-width="0.7"/>
<line x1="678.65" y1="657.77" x2="680.65" y2="657.77" stroke="#000" stroke-width="0.7"/>
<circle cx="679.13" cy="657.83" r="1.6" fill="#fff" stroke="#000" stroke-width="0.7"/>
<circle cx="679.26" cy="659.21" r="1.6" fill="#fff" stroke="#000" stroke-width="0.7"/>
<circle cx="680.31" cy="659.62" r="1.6" fill="#fff" stroke="#000" stroke-width="0.7"/>
<path d="M172.8,625 L172.8,613.8 L191.4,613.8 L191.4,654" fill="none" stroke="#000" stroke-width="0.85"/>
<path d="M213.6,611.8 L213.6,601.9 L231.5,601.9 L231.5,657.7" fill="none" stroke="#000" stroke-width="0.85"/>
<path d="M254.1,559.7 L254.1,556.2 L272,556.2 L272,649" fill="none" stroke="#000" stroke-width="0.85"/>
<path d="M293,594.4 L293,556.7 L311.2,556.7 L311.2,644" fill="none" stroke="#000" stroke-width="0.85"/>
<path d="M334.5,580.8 L334.5,574.1 L351.4,574.1 L351.4,652.8" fill="none" stroke="#000" stroke-width="0.85"/>
<path d="M374.4,583.3 L374.4,576.6 L391.5,576.6 L391.5,655.2" fill="none" stroke="#000" stroke-width="0.85"/>
<path d="M414.6,630.4 L414.6,623 L432.5,623 L432.5,656.5" fill="none" stroke="#000" stroke-width="0.85"/>
<path d="M495.1,510.2 L495.1,402.3 L513.7,402.3 L513.7,408.5" fill="none" stroke="#000" stroke-width="0.85"/>
<path d="M553,551 L553,548.6 L559.7,548.6 L559.7,571.9" fill="none" stroke="#000" stroke-width="0.85"/>
<path d="M576.2,659.7 L576.2,654.3 L594.5,654.3 L594.5,665.9" fill="none" stroke="#000" stroke-width="0.85"/>
<path d="M616.1,654.3 L616.1,650.8 L634.2,650.8 L634.2,665" fill="none" stroke="#000" stroke-width="0.85"/>
<path d="M534.4,664 L534.4,506.1 L552.2,506.1 L552.2,514.8 L557.2,514.8 L557.2,523.9 L552.2,523.9 L552.2,539.6" fill="none" stroke="#000" stroke-width="0.85"/>
<path d="M69.8,547.3 L69.8,537.4 L51.4,537.4 L51.4,542.4 L47.1,542.4 L47.1,550.4 L51.4,550.4 L51.4,555.4" fill="none" stroke="#000" stroke-width="0.85"/>
<path d="M110.5,550.4 L110.5,540.5 L91.9,540.5 L91.9,545.5 L87.5,545.5 L87.5,553.5 L91.9,553.5 L91.9,557.9" fill="none" stroke="#000" stroke-width="0.85"/>
<path d="M150.6,574.2 L150.6,563.4 L132,563.4 L132,568.4 L127.4,568.4 L127.4,576.7" fill="none" stroke="#000" stroke-width="0.85"/>
<line x1="51.8" y1="549.6" x2="57.4" y2="549.6" stroke="#000" stroke-width="0.7"/>
<line x1="91.5" y1="551.9" x2="98.3" y2="551.9" stroke="#000" stroke-width="0.7"/>
<line x1="110.7" y1="550.6" x2="115.7" y2="550.6" stroke="#000" stroke-width="0.7"/>
<line x1="142.3" y1="574.2" x2="156.6" y2="574.2" stroke="#000" stroke-width="0.7"/>
<line x1="185" y1="657.5" x2="191" y2="657.5" stroke="#000" stroke-width="0.7"/>
<line x1="192.5" y1="660" x2="199" y2="660" stroke="#000" stroke-width="0.7"/>
<line x1="253.3" y1="564.7" x2="259.6" y2="564.7" stroke="#000" stroke-width="0.7"/>
<line x1="294.3" y1="570.9" x2="299.8" y2="570.9" stroke="#000" stroke-width="0.7"/>
<line x1="335" y1="587" x2="341" y2="587" stroke="#000" stroke-width="0.7"/>
<line x1="352.5" y1="611.3" x2="359" y2="611.3" stroke="#000" stroke-width="0.7"/>
<line x1="374.9" y1="587" x2="382.3" y2="587" stroke="#000" stroke-width="0.7"/>
<line x1="392.8" y1="602.4" x2="401" y2="602.4" stroke="#000" stroke-width="0.7"/>
<line x1="416" y1="634.5" x2="423" y2="634.5" stroke="#000" stroke-width="0.7"/>
<line x1="434" y1="629.2" x2="441" y2="629.2" stroke="#000" stroke-width="0.7"/>
<line x1="454.3" y1="572.1" x2="463" y2="572.1" stroke="#000" stroke-width="0.7"/>
<line x1="472.2" y1="567.6" x2="481.1" y2="567.6" stroke="#000" stroke-width="0.7"/>
<line x1="546.8" y1="524.2" x2="552.2" y2="524.2" stroke="#000" stroke-width="0.7"/>
<line x1="649" y1="646.7" x2="658" y2="646.7" stroke="#000" stroke-width="0.7"/>
<line x1="672.8" y1="646.7" x2="681.5" y2="646.7" stroke="#000" stroke-width="0.7"/>
<path d="M58.05,530.85 L58.73,532.47 L60.48,532.61 L59.14,533.76 L59.55,535.46 L58.05,534.55 L56.55,535.46 L56.96,533.76 L55.62,532.61 L57.37,532.47 Z M62.95,530.85 L63.63,532.47 L65.38,532.61 L64.04,533.76 L64.45,535.46 L62.95,534.55 L61.45,535.46 L61.86,533.76 L60.52,532.61 L62.27,532.47 Z" fill="#111"/>
<path d="M54.5,544.35 L55.18,545.97 L56.93,546.11 L55.59,547.26 L56,548.96 L54.5,548.05 L53,548.96 L53.41,547.26 L52.07,546.11 L53.82,545.97 Z" fill="#111"/>
<path d="M98.95,533.65 L99.63,535.27 L101.38,535.41 L100.04,536.56 L100.45,538.26 L98.95,537.35 L97.45,538.26 L97.86,536.56 L96.52,535.41 L98.27,535.27 Z M103.85,533.65 L104.53,535.27 L106.28,535.41 L104.94,536.56 L105.35,538.26 L103.85,537.35 L102.35,538.26 L102.76,536.56 L101.42,535.41 L103.17,535.27 Z" fill="#111"/>
<path d="M94.6,546.75 L95.28,548.37 L97.03,548.51 L95.69,549.66 L96.1,551.36 L94.6,550.45 L93.1,551.36 L93.51,549.66 L92.17,548.51 L93.92,548.37 Z" fill="#111"/>
<path d="M114.1,545.45 L114.78,547.07 L116.53,547.21 L115.19,548.36 L115.6,550.06 L114.1,549.15 L112.6,550.06 L113.01,548.36 L111.67,547.21 L113.42,547.07 Z" fill="#111"/>
<path d="M142.1,556.65 L142.78,558.27 L144.53,558.41 L143.19,559.56 L143.6,561.26 L142.1,560.35 L140.6,561.26 L141.01,559.56 L139.67,558.41 L141.42,558.27 Z" fill="#111"/>
<path d="M133.05,570.75 L133.73,572.37 L135.48,572.51 L134.14,573.66 L134.55,575.36 L133.05,574.45 L131.55,575.36 L131.96,573.66 L130.62,572.51 L132.37,572.37 Z M137.95,570.75 L138.63,572.37 L140.38,572.51 L139.04,573.66 L139.45,575.36 L137.95,574.45 L136.45,575.36 L136.86,573.66 L135.52,572.51 L137.27,572.37 Z" fill="#111"/>
<path d="M145.4,569.05 L146.08,570.67 L147.83,570.81 L146.49,571.96 L146.9,573.66 L145.4,572.75 L143.9,573.66 L144.31,571.96 L142.97,570.81 L144.72,570.67 Z" fill="#111"/>
<path d="M153.7,569.05 L154.38,570.67 L156.13,570.81 L154.79,571.96 L155.2,573.66 L153.7,572.75 L152.2,573.66 L152.61,571.96 L151.27,570.81 L153.02,570.67 Z" fill="#111"/>
<path d="M179.75,607.55 L180.43,609.17 L182.18,609.31 L180.84,610.46 L181.25,612.16 L179.75,611.25 L178.25,612.16 L178.66,610.46 L177.32,609.31 L179.07,609.17 Z M184.65,607.55 L185.33,609.17 L187.08,609.31 L185.74,610.46 L186.15,612.16 L184.65,611.25 L183.15,612.16 L183.56,610.46 L182.22,609.31 L183.97,609.17 Z" fill="#111"/>
<path d="M188.1,651.75 L188.78,653.37 L190.53,653.51 L189.19,654.66 L189.6,656.36 L188.1,655.45 L186.6,656.36 L187.01,654.66 L185.67,653.51 L187.42,653.37 Z" fill="#111"/>
<path d="M193.35,654.25 L194.03,655.87 L195.78,656.01 L194.44,657.16 L194.85,658.86 L193.35,657.95 L191.85,658.86 L192.26,657.16 L190.92,656.01 L192.67,655.87 Z M198.25,654.25 L198.93,655.87 L200.68,656.01 L199.34,657.16 L199.75,658.86 L198.25,657.95 L196.75,658.86 L197.16,657.16 L195.82,656.01 L197.57,655.87 Z" fill="#111"/>
<path d="M219.85,595.95 L220.53,597.57 L222.28,597.71 L220.94,598.86 L221.35,600.56 L219.85,599.65 L218.35,600.56 L218.76,598.86 L217.42,597.71 L219.17,597.57 Z M224.75,595.95 L225.43,597.57 L227.18,597.71 L225.84,598.86 L226.25,600.56 L224.75,599.65 L223.25,600.56 L223.66,598.86 L222.32,597.71 L224.07,597.57 Z" fill="#111"/>
<path d="M260.05,547.65 L260.73,549.27 L262.48,549.41 L261.14,550.56 L261.55,552.26 L260.05,551.35 L258.55,552.26 L258.96,550.56 L257.62,549.41 L259.37,549.27 Z M264.95,547.65 L265.63,549.27 L267.38,549.41 L266.04,550.56 L266.45,552.26 L264.95,551.35 L263.45,552.26 L263.86,550.56 L262.52,549.41 L264.27,549.27 Z" fill="#111"/>
<path d="M249.6,561.15 L250.28,562.77 L252.03,562.91 L250.69,564.06 L251.1,565.76 L249.6,564.85 L248.1,565.76 L248.51,564.06 L247.17,562.91 L248.92,562.77 Z" fill="#111"/>
<path d="M255.85,557.95 L256.53,559.57 L258.28,559.71 L256.94,560.86 L257.35,562.56 L255.85,561.65 L254.35,562.56 L254.76,560.86 L253.42,559.71 L255.17,559.57 Z M260.75,557.95 L261.43,559.57 L263.18,559.71 L261.84,560.86 L262.25,562.56 L260.75,561.65 L259.25,562.56 L259.66,560.86 L258.32,559.71 L260.07,559.57 Z" fill="#111"/>
<path d="M299.75,550.75 L300.43,552.37 L302.18,552.51 L300.84,553.66 L301.25,555.36 L299.75,554.45 L298.25,555.36 L298.66,553.66 L297.32,552.51 L299.07,552.37 Z M304.65,550.75 L305.33,552.37 L307.08,552.51 L305.74,553.66 L306.15,555.36 L304.65,554.45 L303.15,555.36 L303.56,553.66 L302.22,552.51 L303.97,552.37 Z" fill="#111"/>
<path d="M296.3,564.35 L296.98,565.97 L298.73,566.11 L297.39,567.26 L297.8,568.96 L296.3,568.05 L294.8,568.96 L295.21,567.26 L293.87,566.11 L295.62,565.97 Z" fill="#111"/>
<path d="M339.45,568.35 L340.13,569.97 L341.88,570.11 L340.54,571.26 L340.95,572.96 L339.45,572.05 L337.95,572.96 L338.36,571.26 L337.02,570.11 L338.77,569.97 Z M344.35,568.35 L345.03,569.97 L346.78,570.11 L345.44,571.26 L345.85,572.96 L344.35,572.05 L342.85,572.96 L343.26,571.26 L341.92,570.11 L343.67,569.97 Z" fill="#111"/>
<path d="M335.25,581.05 L335.93,582.67 L337.68,582.81 L336.34,583.96 L336.75,585.66 L335.25,584.75 L333.75,585.66 L334.16,583.96 L332.82,582.81 L334.57,582.67 Z M340.15,581.05 L340.83,582.67 L342.58,582.81 L341.24,583.96 L341.65,585.66 L340.15,584.75 L338.65,585.66 L339.06,583.96 L337.72,582.81 L339.47,582.67 Z" fill="#111"/>
<path d="M353.35,606.35 L354.03,607.97 L355.78,608.11 L354.44,609.26 L354.85,610.96 L353.35,610.05 L351.85,610.96 L352.26,609.26 L350.92,608.11 L352.67,607.97 Z M358.25,606.35 L358.93,607.97 L360.68,608.11 L359.34,609.26 L359.75,610.96 L358.25,610.05 L356.75,610.96 L357.16,609.26 L355.82,608.11 L357.57,607.97 Z" fill="#111"/>
<path d="M379.85,570.35 L380.53,571.97 L382.28,572.11 L380.94,573.26 L381.35,574.96 L379.85,574.05 L378.35,574.96 L378.76,573.26 L377.42,572.11 L379.17,571.97 Z M384.75,570.35 L385.43,571.97 L387.18,572.11 L385.84,573.26 L386.25,574.96 L384.75,574.05 L383.25,574.96 L383.66,573.26 L382.32,572.11 L384.07,571.97 Z" fill="#111"/>
<path d="M376.15,582.75 L376.83,584.37 L378.58,584.51 L377.24,585.66 L377.65,587.36 L376.15,586.45 L374.65,587.36 L375.06,585.66 L373.72,584.51 L375.47,584.37 Z M381.05,582.75 L381.73,584.37 L383.48,584.51 L382.14,585.66 L382.55,587.36 L381.05,586.45 L379.55,587.36 L379.96,585.66 L378.62,584.51 L380.37,584.37 Z" fill="#111"/>
<path d="M394.25,597.15 L394.93,598.77 L396.68,598.91 L395.34,600.06 L395.75,601.76 L394.25,600.85 L392.75,601.76 L393.16,600.06 L391.82,598.91 L393.57,598.77 Z M399.15,597.15 L399.83,598.77 L401.58,598.91 L400.24,600.06 L400.65,601.76 L399.15,600.85 L397.65,601.76 L398.06,600.06 L396.72,598.91 L398.47,598.77 Z" fill="#111"/>
<path d="M421.55,617.25 L422.23,618.87 L423.98,619.01 L422.64,620.16 L423.05,621.86 L421.55,620.95 L420.05,621.86 L420.46,620.16 L419.12,619.01 L420.87,618.87 Z M426.45,617.25 L427.13,618.87 L428.88,619.01 L427.54,620.16 L427.95,621.86 L426.45,620.95 L424.95,621.86 L425.36,620.16 L424.02,619.01 L425.77,618.87 Z" fill="#111"/>
<path d="M417.15,628.95 L417.83,630.57 L419.58,630.71 L418.24,631.86 L418.65,633.56 L417.15,632.65 L415.65,633.56 L416.06,631.86 L414.72,630.71 L416.47,630.57 Z M422.05,628.95 L422.73,630.57 L424.48,630.71 L423.14,631.86 L423.55,633.56 L422.05,632.65 L420.55,633.56 L420.96,631.86 L419.62,630.71 L421.37,630.57 Z" fill="#111"/>
<path d="M434.95,623.25 L435.63,624.87 L437.38,625.01 L436.04,626.16 L436.45,627.86 L434.95,626.95 L433.45,627.86 L433.86,626.16 L432.52,625.01 L434.27,624.87 Z M439.85,623.25 L440.53,624.87 L442.28,625.01 L440.94,626.16 L441.35,627.86 L439.85,626.95 L438.35,627.86 L438.76,626.16 L437.42,625.01 L439.17,624.87 Z" fill="#111"/>
<path d="M456.05,567.35 L456.73,568.97 L458.48,569.11 L457.14,570.26 L457.55,571.96 L456.05,571.05 L454.55,571.96 L454.96,570.26 L453.62,569.11 L455.37,568.97 Z M460.95,567.35 L461.63,568.97 L463.38,569.11 L462.04,570.26 L462.45,571.96 L460.95,571.05 L459.45,571.96 L459.86,570.26 L458.52,569.11 L460.27,568.97 Z" fill="#111"/>
<path d="M474.15,562.45 L474.83,564.07 L476.58,564.21 L475.24,565.36 L475.65,567.06 L474.15,566.15 L472.65,567.06 L473.06,565.36 L471.72,564.21 L473.47,564.07 Z M479.05,562.45 L479.73,564.07 L481.48,564.21 L480.14,565.36 L480.55,567.06 L479.05,566.15 L477.55,567.06 L477.96,565.36 L476.62,564.21 L478.37,564.07 Z" fill="#111"/>
<path d="M500.05,393.85 L500.73,395.47 L502.48,395.61 L501.14,396.76 L501.55,398.46 L500.05,397.55 L498.55,398.46 L498.96,396.76 L497.62,395.61 L499.37,395.47 Z M504.95,393.85 L505.63,395.47 L507.38,395.61 L506.04,396.76 L506.45,398.46 L504.95,397.55 L503.45,398.46 L503.86,396.76 L502.52,395.61 L504.27,395.47 Z" fill="#111"/>
<path d="M539.75,498.05 L540.43,499.67 L542.18,499.81 L540.84,500.96 L541.25,502.66 L539.75,501.75 L538.25,502.66 L538.66,500.96 L537.32,499.81 L539.07,499.67 Z M544.65,498.05 L545.33,499.67 L547.08,499.81 L545.74,500.96 L546.15,502.66 L544.65,501.75 L543.15,502.66 L543.56,500.96 L542.22,499.81 L543.97,499.67 Z" fill="#111"/>
<path d="M548.5,518.05 L549.18,519.67 L550.93,519.81 L549.59,520.96 L550,522.66 L548.5,521.75 L547,522.66 L547.41,520.96 L546.07,519.81 L547.82,519.67 Z" fill="#111"/>
<path d="M557.2,542.85 L557.88,544.47 L559.63,544.61 L558.29,545.76 L558.7,547.46 L557.2,546.55 L555.7,547.46 L556.11,545.76 L554.77,544.61 L556.52,544.47 Z" fill="#111"/>
<path d="M582.55,647.45 L583.23,649.07 L584.98,649.21 L583.64,650.36 L584.05,652.06 L582.55,651.15 L581.05,652.06 L581.46,650.36 L580.12,649.21 L581.87,649.07 Z M587.45,647.45 L588.13,649.07 L589.88,649.21 L588.54,650.36 L588.95,652.06 L587.45,651.15 L585.95,652.06 L586.36,650.36 L585.02,649.21 L586.77,649.07 Z" fill="#111"/>
<path d="M621.75,645.25 L622.43,646.87 L624.18,647.01 L622.84,648.16 L623.25,649.86 L621.75,648.95 L620.25,649.86 L620.66,648.16 L619.32,647.01 L621.07,646.87 Z M626.65,645.25 L627.33,646.87 L629.08,647.01 L627.74,648.16 L628.15,649.86 L626.65,648.95 L625.15,649.86 L625.56,648.16 L624.22,647.01 L625.97,646.87 Z" fill="#111"/>
<path d="M650.95,641.25 L651.63,642.87 L653.38,643.01 L652.04,644.16 L652.45,645.86 L650.95,644.95 L649.45,645.86 L649.86,644.16 L648.52,643.01 L650.27,642.87 Z M655.85,641.25 L656.53,642.87 L658.28,643.01 L656.94,644.16 L657.35,645.86 L655.85,644.95 L654.35,645.86 L654.76,644.16 L653.42,643.01 L655.17,642.87 Z" fill="#111"/>
<path d="M674.45,641.25 L675.13,642.87 L676.88,643.01 L675.54,644.16 L675.95,645.86 L674.45,644.95 L672.95,645.86 L673.36,644.16 L672.02,643.01 L673.77,642.87 Z M679.35,641.25 L680.03,642.87 L681.78,643.01 L680.44,644.16 L680.85,645.86 L679.35,644.95 L677.85,645.86 L678.26,644.16 L676.92,643.01 L678.67,642.87 Z" fill="#111"/>
<line x1="41.4" y1="668.6" x2="41.4" y2="586" stroke="#000" stroke-width="1.5"/>
<line x1="41.4" y1="579" x2="41.4" y2="386.8" stroke="#000" stroke-width="1.5"/>
<line x1="35.5" y1="668" x2="680" y2="668" stroke="#000" stroke-width="1.3"/>
<line x1="38" y1="668" x2="41.4" y2="668" stroke="#000" stroke-width="1.1"/>
<text x="32.3" y="671.1" font-size="8.8" text-anchor="end" font-weight="bold" font-style="normal" fill="#000">0.00</text>
<line x1="38" y1="651.72" x2="41.4" y2="651.72" stroke="#000" stroke-width="1.1"/>
<text x="32.3" y="654.82" font-size="8.8" text-anchor="end" font-weight="bold" font-style="normal" fill="#000">0.05</text>
<line x1="38" y1="635.44" x2="41.4" y2="635.44" stroke="#000" stroke-width="1.1"/>
<text x="32.3" y="638.54" font-size="8.8" text-anchor="end" font-weight="bold" font-style="normal" fill="#000">0.10</text>
<line x1="38" y1="619.16" x2="41.4" y2="619.16" stroke="#000" stroke-width="1.1"/>
<text x="32.3" y="622.26" font-size="8.8" text-anchor="end" font-weight="bold" font-style="normal" fill="#000">0.15</text>
<line x1="38" y1="602.88" x2="41.4" y2="602.88" stroke="#000" stroke-width="1.1"/>
<text x="32.3" y="605.98" font-size="8.8" text-anchor="end" font-weight="bold" font-style="normal" fill="#000">0.20</text>
<line x1="38" y1="586.6" x2="41.4" y2="586.6" stroke="#000" stroke-width="1.1"/>
<text x="32.3" y="589.7" font-size="8.8" text-anchor="end" font-weight="bold" font-style="normal" fill="#000">0.25</text>
<line x1="32.1" y1="557.18" x2="41.4" y2="557.18" stroke="#000" stroke-width="1.1"/>
<text x="29.8" y="560.28" font-size="8.8" text-anchor="end" font-weight="bold" font-style="normal" fill="#000">1</text>
<line x1="32.1" y1="528.88" x2="41.4" y2="528.88" stroke="#000" stroke-width="1.1"/>
<text x="29.8" y="531.98" font-size="8.8" text-anchor="end" font-weight="bold" font-style="normal" fill="#000">2</text>
<line x1="32.1" y1="500.59" x2="41.4" y2="500.59" stroke="#000" stroke-width="1.1"/>
<text x="29.8" y="503.69" font-size="8.8" text-anchor="end" font-weight="bold" font-style="normal" fill="#000">3</text>
<line x1="32.1" y1="472.29" x2="41.4" y2="472.29" stroke="#000" stroke-width="1.1"/>
<text x="29.8" y="475.39" font-size="8.8" text-anchor="end" font-weight="bold" font-style="normal" fill="#000">4</text>
<line x1="32.1" y1="443.99" x2="41.4" y2="443.99" stroke="#000" stroke-width="1.1"/>
<text x="29.8" y="447.09" font-size="8.8" text-anchor="end" font-weight="bold" font-style="normal" fill="#000">5</text>
<line x1="32.1" y1="415.7" x2="41.4" y2="415.7" stroke="#000" stroke-width="1.1"/>
<text x="29.8" y="418.8" font-size="8.8" text-anchor="end" font-weight="bold" font-style="normal" fill="#000">6</text>
<line x1="32.1" y1="387.4" x2="41.4" y2="387.4" stroke="#000" stroke-width="1.1"/>
<text x="29.8" y="390.5" font-size="8.8" text-anchor="end" font-weight="bold" font-style="normal" fill="#000">7</text>
<line x1="38" y1="578.7" x2="45.3" y2="578.7" stroke="#000" stroke-width="1.1"/>
<line x1="61.2" y1="668" x2="61.2" y2="674.5" stroke="#000" stroke-width="1.3"/>
<text x="59.8" y="685" font-size="8.8" text-anchor="middle" font-weight="bold" font-style="normal" fill="#000">C16</text>
<line x1="101.45" y1="668" x2="101.45" y2="674.5" stroke="#000" stroke-width="1.3"/>
<text x="100.25" y="685" font-size="8.8" text-anchor="middle" font-weight="bold" font-style="normal" fill="#000">C18</text>
<line x1="141.7" y1="668" x2="141.7" y2="674.5" stroke="#000" stroke-width="1.3"/>
<text x="140.7" y="685" font-size="8.8" text-anchor="middle" font-weight="bold" font-style="normal" fill="#000">C20</text>
<line x1="181.95" y1="668" x2="181.95" y2="674.5" stroke="#000" stroke-width="1.3"/>
<text x="181.15" y="685" font-size="8.8" text-anchor="middle" font-weight="bold" font-style="normal" fill="#000">C22</text>
<line x1="222.2" y1="668" x2="222.2" y2="674.5" stroke="#000" stroke-width="1.3"/>
<text x="221.6" y="685" font-size="8.8" text-anchor="middle" font-weight="bold" font-style="normal" fill="#000">C28</text>
<line x1="262.45" y1="668" x2="262.45" y2="674.5" stroke="#000" stroke-width="1.3"/>
<text x="262.05" y="685" font-size="8.8" text-anchor="middle" font-weight="bold" font-style="normal" fill="#000">C30</text>
<line x1="302.7" y1="668" x2="302.7" y2="674.5" stroke="#000" stroke-width="1.3"/>
<text x="302.5" y="685" font-size="8.8" text-anchor="middle" font-weight="bold" font-style="normal" fill="#000">C32</text>
<line x1="342.95" y1="668" x2="342.95" y2="674.5" stroke="#000" stroke-width="1.3"/>
<text x="342.95" y="685" font-size="8.8" text-anchor="middle" font-weight="bold" font-style="normal" fill="#000">C24</text>
<line x1="383.2" y1="668" x2="383.2" y2="674.5" stroke="#000" stroke-width="1.3"/>
<text x="383.4" y="685" font-size="8.8" text-anchor="middle" font-weight="bold" font-style="normal" fill="#000">C26</text>
<line x1="423.45" y1="668" x2="423.45" y2="674.5" stroke="#000" stroke-width="1.3"/>
<text x="423.85" y="685" font-size="8.8" text-anchor="middle" font-weight="bold" font-style="normal" fill="#000">C28</text>
<line x1="463.7" y1="668" x2="463.7" y2="674.5" stroke="#000" stroke-width="1.3"/>
<text x="464.3" y="685" font-size="8.8" text-anchor="middle" font-weight="bold" font-style="normal" fill="#000">C30</text>
<line x1="503.95" y1="668" x2="503.95" y2="674.5" stroke="#000" stroke-width="1.3"/>
<text x="504.75" y="685" font-size="8.8" text-anchor="middle" font-weight="bold" font-style="normal" fill="#000">C32</text>
<line x1="544.2" y1="668" x2="544.2" y2="674.5" stroke="#000" stroke-width="1.3"/>
<text x="545.2" y="685" font-size="8.8" text-anchor="middle" font-weight="bold" font-style="normal" fill="#000">C32</text>
<line x1="584.45" y1="668" x2="584.45" y2="674.5" stroke="#000" stroke-width="1.3"/>
<text x="585.65" y="685" font-size="8.8" text-anchor="middle" font-weight="bold" font-style="normal" fill="#000">C27</text>
<line x1="624.7" y1="668" x2="624.7" y2="674.5" stroke="#000" stroke-width="1.3"/>
<text x="626.1" y="685" font-size="8.8" text-anchor="middle" font-weight="bold" font-style="normal" fill="#000">C29</text>
<line x1="664.95" y1="668" x2="664.95" y2="674.5" stroke="#000" stroke-width="1.3"/>
<text x="666.55" y="685" font-size="8.8" text-anchor="middle" font-weight="bold" font-style="normal" fill="#000">C31</text>
<line x1="50.4" y1="690.9" x2="307.1" y2="690.9" stroke="#000" stroke-width="1.3"/>
<text x="176.4" y="705.9" font-size="8.8" text-anchor="middle" font-weight="bold" font-style="normal" fill="#000">Fatty acids</text>
<line x1="333.3" y1="690.9" x2="514.5" y2="690.9" stroke="#000" stroke-width="1.3"/>
<text x="417.5" y="705.9" font-size="8.8" text-anchor="middle" font-weight="bold" font-style="normal" fill="#000">1-Alcohols</text>
<line x1="537.4" y1="690.9" x2="552.8" y2="690.9" stroke="#000" stroke-width="1.3"/>
<text x="545.6" y="705.9" font-size="8.8" text-anchor="middle" font-weight="bold" font-style="normal" fill="#000">Aldehyde</text>
<line x1="578.4" y1="690.9" x2="669" y2="690.9" stroke="#000" stroke-width="1.3"/>
<text x="626.1" y="705.9" font-size="8.8" text-anchor="middle" font-weight="bold" font-style="normal" fill="#000">Alkanes</text>
<text x="6.9" y="537.6" font-size="8.8" text-anchor="middle" font-weight="bold" font-style="normal" fill="#000" transform="rotate(-90 6.9 537.6)">Epidermal Wax Composition (ug cm<tspan font-size="6" dy="-3.5">−2</tspan><tspan dy="3.5">)</tspan></text>
<rect x="69.5" y="395.3" width="14" height="4" fill="#000000" stroke="#000" stroke-width="0.5"/>
<text x="91.8" y="400.5" font-size="8.8" text-anchor="start" font-weight="bold" font-style="normal" fill="#000"><tspan font-style="italic">CRY1c</tspan> OE_D</text>
<rect x="69.5" y="408.9" width="14" height="4" fill="#999999" stroke="#000" stroke-width="0.5"/>
<text x="91.8" y="414.1" font-size="8.8" text-anchor="start" font-weight="bold" font-style="normal" fill="#000">B73_D</text>
<rect x="69.5" y="422.6" width="14" height="4" fill="#eeeeee" stroke="#000" stroke-width="0.5"/>
<text x="91.8" y="427.8" font-size="8.8" text-anchor="start" font-weight="bold" font-style="normal" fill="#000"><tspan font-style="italic">cry-q</tspan>_D</text>
<rect x="69.5" y="449.4" width="14" height="4" fill="#0a28ff" stroke="#000" stroke-width="0.5"/>
<text x="91.8" y="454.6" font-size="8.8" text-anchor="start" font-weight="bold" font-style="normal" fill="#000"><tspan font-style="italic">CRY1c</tspan> OE_B</text>
<rect x="69.5" y="463.2" width="14" height="4" fill="#0a8cff" stroke="#000" stroke-width="0.5"/>
<text x="91.8" y="468.4" font-size="8.8" text-anchor="start" font-weight="bold" font-style="normal" fill="#000">B73_B</text>
<rect x="69.5" y="476.9" width="14" height="4" fill="#00ffff" stroke="#000" stroke-width="0.5"/>
<text x="91.8" y="482.1" font-size="8.8" text-anchor="start" font-weight="bold" font-style="normal" fill="#000"><tspan font-style="italic">cry-q</tspan>_B</text>
<text x="7" y="387.3" font-size="12" text-anchor="middle" font-weight="bold" font-style="normal" fill="#000">b</text>
<line x1="231.9" y1="382" x2="231.9" y2="497.9" stroke="#000" stroke-width="1.6"/>
<line x1="231.1" y1="497.9" x2="328" y2="497.9" stroke="#000" stroke-width="1.4"/>
<line x1="224.3" y1="497.9" x2="231.9" y2="497.9" stroke="#000" stroke-width="1.3"/>
<text x="222.3" y="501" font-size="8.8" text-anchor="end" font-weight="bold" font-style="normal" fill="#000">0</text>
<line x1="224.3" y1="478.73" x2="231.9" y2="478.73" stroke="#000" stroke-width="1.3"/>
<text x="222.3" y="481.83" font-size="8.8" text-anchor="end" font-weight="bold" font-style="normal" fill="#000">2</text>
<line x1="224.3" y1="459.57" x2="231.9" y2="459.57" stroke="#000" stroke-width="1.3"/>
<text x="222.3" y="462.67" font-size="8.8" text-anchor="end" font-weight="bold" font-style="normal" fill="#000">4</text>
<line x1="224.3" y1="440.4" x2="231.9" y2="440.4" stroke="#000" stroke-width="1.3"/>
<text x="222.3" y="443.5" font-size="8.8" text-anchor="end" font-weight="bold" font-style="normal" fill="#000">6</text>
<line x1="224.3" y1="421.23" x2="231.9" y2="421.23" stroke="#000" stroke-width="1.3"/>
<text x="222.3" y="424.33" font-size="8.8" text-anchor="end" font-weight="bold" font-style="normal" fill="#000">8</text>
<line x1="224.3" y1="402.07" x2="231.9" y2="402.07" stroke="#000" stroke-width="1.3"/>
<text x="222.3" y="405.17" font-size="8.8" text-anchor="end" font-weight="bold" font-style="normal" fill="#000">10</text>
<line x1="224.3" y1="382.9" x2="231.9" y2="382.9" stroke="#000" stroke-width="1.3"/>
<text x="222.3" y="386" font-size="8.8" text-anchor="end" font-weight="bold" font-style="normal" fill="#000">12</text>
<rect x="236.8" y="437.91" width="8.7" height="59.99" fill="#000000" stroke="#000" stroke-width="0.8"/>
<rect x="250.2" y="444.71" width="8.7" height="53.19" fill="#999999" stroke="#000" stroke-width="0.8"/>
<rect x="264.2" y="442.03" width="8.7" height="55.87" fill="#eeeeee" stroke="#000" stroke-width="0.8"/>
<rect x="288.4" y="403.98" width="8.7" height="93.92" fill="#0a28ff" stroke="#000" stroke-width="0.8"/>
<rect x="301.6" y="404.46" width="8.7" height="93.44" fill="#0a8cff" stroke="#000" stroke-width="0.8"/>
<rect x="315.8" y="411.17" width="8.7" height="86.73" fill="#00ffff" stroke="#000" stroke-width="0.8"/>
<line x1="255" y1="497.9" x2="255" y2="502.9" stroke="#000" stroke-width="1"/>
<text x="255" y="515.7" font-size="8.8" text-anchor="middle" font-weight="bold" font-style="normal" fill="#000">Dark</text>
<line x1="306" y1="497.9" x2="306" y2="502.9" stroke="#000" stroke-width="1"/>
<text x="306" y="515.7" font-size="8.8" text-anchor="middle" font-weight="bold" font-style="normal" fill="#000">Blue</text>
<text x="209.5" y="443" font-size="9.1" text-anchor="middle" font-weight="bold" font-style="normal" fill="#000" transform="rotate(-90 209.5 443)">Total Wax  (ug cm<tspan font-size="6" dy="-3.5">−2</tspan><tspan dy="3.5">)</tspan></text>
<line x1="241.15" y1="437.91" x2="241.15" y2="427.41" stroke="#000" stroke-width="0.8"/>
<line x1="239.55" y1="427.41" x2="242.75" y2="427.41" stroke="#000" stroke-width="0.8"/>
<line x1="254.55" y1="444.71" x2="254.55" y2="440.71" stroke="#000" stroke-width="0.8"/>
<line x1="252.95" y1="440.71" x2="256.15" y2="440.71" stroke="#000" stroke-width="0.8"/>
<line x1="268.55" y1="442.03" x2="268.55" y2="439.03" stroke="#000" stroke-width="0.8"/>
<line x1="266.95" y1="439.03" x2="270.15" y2="439.03" stroke="#000" stroke-width="0.8"/>
<line x1="292.75" y1="403.98" x2="292.75" y2="396.98" stroke="#000" stroke-width="0.8"/>
<line x1="291.15" y1="396.98" x2="294.35" y2="396.98" stroke="#000" stroke-width="0.8"/>
<line x1="305.95" y1="404.46" x2="305.95" y2="401.46" stroke="#000" stroke-width="0.8"/>
<line x1="304.35" y1="401.46" x2="307.55" y2="401.46" stroke="#000" stroke-width="0.8"/>
<line x1="320.15" y1="411.17" x2="320.15" y2="403.67" stroke="#000" stroke-width="0.8"/>
<line x1="318.55" y1="403.67" x2="321.75" y2="403.67" stroke="#000" stroke-width="0.8"/>
<circle cx="241.6" cy="428.4" r="1.9" fill="#fff" stroke="#000" stroke-width="0.8"/>
<circle cx="240.9" cy="437.9" r="1.9" fill="#fff" stroke="#000" stroke-width="0.8"/>
<circle cx="241.6" cy="448.1" r="1.9" fill="#fff" stroke="#000" stroke-width="0.8"/>
<circle cx="254.5" cy="439" r="1.9" fill="#fff" stroke="#000" stroke-width="0.8"/>
<circle cx="251.6" cy="445.8" r="1.9" fill="#fff" stroke="#000" stroke-width="0.8"/>
<circle cx="257.4" cy="445.8" r="1.9" fill="#fff" stroke="#000" stroke-width="0.8"/>
<circle cx="265.8" cy="440.6" r="1.9" fill="#fff" stroke="#000" stroke-width="0.8"/>
<circle cx="270.3" cy="441.3" r="1.9" fill="#fff" stroke="#000" stroke-width="0.8"/>
<circle cx="268.8" cy="444.7" r="1.9" fill="#fff" stroke="#000" stroke-width="0.8"/>
<circle cx="292.3" cy="397.2" r="1.9" fill="#fff" stroke="#000" stroke-width="0.8"/>
<circle cx="293" cy="405.1" r="1.9" fill="#fff" stroke="#000" stroke-width="0.8"/>
<circle cx="292.5" cy="410.3" r="1.9" fill="#fff" stroke="#000" stroke-width="0.8"/>
<circle cx="302.5" cy="403.9" r="1.9" fill="#fff" stroke="#000" stroke-width="0.8"/>
<circle cx="307.7" cy="403.9" r="1.9" fill="#fff" stroke="#000" stroke-width="0.8"/>
<circle cx="305.9" cy="410.3" r="1.9" fill="#fff" stroke="#000" stroke-width="0.8"/>
<circle cx="316.7" cy="405.8" r="1.9" fill="#fff" stroke="#000" stroke-width="0.8"/>
<circle cx="322.4" cy="405.8" r="1.9" fill="#fff" stroke="#000" stroke-width="0.8"/>
<circle cx="319.7" cy="420.2" r="1.9" fill="#fff" stroke="#000" stroke-width="0.8"/>
<text x="241.1" y="424.5" font-size="8.8" text-anchor="middle" font-weight="bold" font-style="normal" fill="#000">a</text>
<text x="254.5" y="424.5" font-size="8.8" text-anchor="middle" font-weight="bold" font-style="normal" fill="#000">a</text>
<text x="268.5" y="424.5" font-size="8.8" text-anchor="middle" font-weight="bold" font-style="normal" fill="#000">a</text>
<text x="292.7" y="393" font-size="8.8" text-anchor="middle" font-weight="bold" font-style="normal" fill="#000">b</text>
<text x="306" y="393" font-size="8.8" text-anchor="middle" font-weight="bold" font-style="normal" fill="#000">b</text>
<text x="320" y="393" font-size="8.8" text-anchor="middle" font-weight="bold" font-style="normal" fill="#000">b</text>
<text x="7.2" y="738.6" font-size="12" text-anchor="middle" font-weight="bold" font-style="normal" fill="#000">c</text>
<rect x="36" y="729.5" width="338.4" height="160.7" fill="url(#bg)"/>
<rect x="36" y="748" width="338.4" height="0.8" fill="#d8dada" opacity="0.22"/>
<rect x="36" y="767" width="338.4" height="0.8" fill="#d8dada" opacity="0.22"/>
<rect x="36" y="792" width="338.4" height="0.8" fill="#d8dada" opacity="0.22"/>
<rect x="36" y="811" width="338.4" height="0.8" fill="#d8dada" opacity="0.22"/>
<rect x="36" y="843" width="338.4" height="0.8" fill="#d8dada" opacity="0.22"/>
<rect x="36" y="862" width="338.4" height="0.8" fill="#d8dada" opacity="0.22"/>
<path d="M56.9,867 L62.6,867 L64.1,888.5 L58.4,888.5 Z" fill="url(#p1)"/>
<path d="M69.2,801.9 C71.42,802.22 74.63,804.55 75.9,806.6 C77.17,808.65 76.97,811.35 76.8,814.2 C76.63,817.05 74.9,820.53 74.9,823.7 C74.9,826.87 76.32,830.03 76.8,833.2 C77.28,836.37 77.95,839.22 77.8,842.7 C77.65,846.18 77.17,850.95 75.9,854.1 C74.63,857.25 72.1,859.4 70.2,861.6 C68.3,863.8 66.45,866.03 64.5,867.3 C62.55,868.57 60.08,869.52 58.5,869.2 C56.92,868.88 56.07,867.92 55,865.4 C53.93,862.88 52.73,858.52 52.1,854.1 C51.47,849.68 51.03,843.65 51.2,838.9 C51.37,834.15 52.15,829.72 53.1,825.6 C54.05,821.48 55.32,817.68 56.9,814.2 C58.48,810.72 60.55,806.75 62.6,804.7 C64.65,802.65 66.98,801.58 69.2,801.9 Z" fill="url(#g1)"/>
<path d="M69.2,807.9 Q64.5,835.08 61.5,868.25" stroke="#cfe89a" stroke-opacity="0.3" stroke-width="0.8" fill="none"/>
<path d="M90.1,871 L93.9,871 L93.9,889 L90.1,889 Z" fill="url(#p1)"/>
<path d="M91,790.5 C92.9,790.82 96.38,795.68 98.6,799 C100.82,802.32 102.87,806.28 104.3,810.4 C105.73,814.52 107.03,819.27 107.2,823.7 C107.37,828.13 105.93,833.2 105.3,837 C104.67,840.8 103.57,843.02 103.4,846.5 C103.23,849.98 104.78,854.43 104.3,857.9 C103.82,861.37 102.05,864.78 100.5,867.3 C98.95,869.82 96.67,872.05 95,873 C93.33,873.95 91.63,873.63 90.5,873 C89.37,872.37 89,871.72 88.2,869.2 C87.4,866.68 86.5,862.32 85.7,857.9 C84.9,853.48 83.93,848.08 83.4,842.7 C82.87,837.32 82.33,830.98 82.5,825.6 C82.67,820.22 83.62,815.15 84.4,810.4 C85.18,805.65 86.1,800.42 87.2,797.1 C88.3,793.78 89.1,790.18 91,790.5 Z" fill="url(#g1)"/>
<path d="M91,796.5 Q93.4,831.75 92.75,873" stroke="#cfe89a" stroke-opacity="0.3" stroke-width="0.8" fill="none"/>
<path d="M120.5,879 L125.2,879 L125.2,889.5 L120.5,889.5 Z" fill="#9ccc50"/>
<path d="M122.4,750.2 C124.28,750.2 126.35,751.42 128,754.5 C129.65,757.58 131.22,763.18 132.3,768.7 C133.38,774.22 134.27,780.65 134.5,787.6 C134.73,794.55 134.3,803.12 133.7,810.4 C133.1,817.68 131.52,824.97 130.9,831.3 C130.28,837.63 130.32,842.4 130,848.4 C129.68,854.4 129.8,861.93 129,867.3 C128.2,872.67 126.78,878.38 125.2,880.6 C123.62,882.82 120.92,882.82 119.5,880.6 C118.08,878.38 117.48,872.67 116.7,867.3 C115.92,861.93 115.6,854.4 114.8,848.4 C114,842.4 112.7,837.63 111.9,831.3 C111.1,824.97 110.43,817.68 110,810.4 C109.57,803.12 109.05,794.55 109.3,787.6 C109.55,780.65 110.27,774.22 111.5,768.7 C112.73,763.18 114.88,757.58 116.7,754.5 C118.52,751.42 120.52,750.2 122.4,750.2 Z" fill="url(#g2)"/>
<path d="M122.4,756.2 Q121.4,815.4 122.35,880.6" stroke="#cfe89a" stroke-opacity="0.3" stroke-width="0.8" fill="none"/>
<path d="M147.5,879 L151.3,879 L151.3,889.5 L147.5,889.5 Z" fill="#9ccc50"/>
<path d="M149.9,754.4 C151.6,754.4 153.48,754.8 155,757.8 C156.52,760.8 158.12,766.8 159,772.4 C159.88,778 160.23,785.07 160.3,791.4 C160.37,797.73 159.87,804.07 159.4,810.4 C158.93,816.73 158.13,823.07 157.5,829.4 C156.87,835.73 156.4,841.77 155.6,848.4 C154.8,855.03 153.5,863.83 152.7,869.2 C151.9,874.57 151.58,878.7 150.8,880.6 C150.02,882.5 148.78,882.5 148,880.6 C147.22,878.7 146.9,874.57 146.1,869.2 C145.3,863.83 144.15,855.03 143.2,848.4 C142.25,841.77 141.18,835.73 140.4,829.4 C139.62,823.07 138.98,816.73 138.5,810.4 C138.02,804.07 137.25,797.73 137.5,791.4 C137.75,785.07 138.78,778 140,772.4 C141.22,766.8 143.15,760.8 144.8,757.8 C146.45,754.8 148.2,754.4 149.9,754.4 Z" fill="url(#g2)"/>
<path d="M149.9,760.4 Q148.95,817.5 149.4,880.6" stroke="#cfe89a" stroke-opacity="0.3" stroke-width="0.8" fill="none"/>
<path d="M172.9,870 L177,870 L176.8,889.5 L173,889.5 Z" fill="#d8eca0"/>
<path d="M175.6,738.2 C177,738.2 178.42,739.08 179.8,743 C181.18,746.92 183.07,754.92 183.9,761.7 C184.73,768.48 184.8,776.05 184.8,783.7 C184.8,791.35 184.37,799.63 183.9,807.6 C183.43,815.57 182.77,823.85 182,831.5 C181.23,839.15 180.07,846.77 179.3,853.5 C178.53,860.23 178.47,868.83 177.4,871.9 C176.33,874.97 173.97,874.97 172.9,871.9 C171.83,868.83 171.77,860.23 171,853.5 C170.23,846.77 169.07,839.15 168.3,831.5 C167.53,823.85 166.87,815.57 166.4,807.6 C165.93,799.63 165.35,791.35 165.5,783.7 C165.65,776.05 166.32,768.48 167.3,761.7 C168.28,754.92 170.02,746.92 171.4,743 C172.78,739.08 174.2,738.2 175.6,738.2 Z" fill="url(#g3)"/>
<path d="M175.6,744.2 Q175.15,805.05 175.15,871.9" stroke="#cfe89a" stroke-opacity="0.3" stroke-width="0.8" fill="none"/>
<path d="M197.3,872 L200.4,872 L200.4,889.5 L197.3,889.5 Z" fill="#d8eca0"/>
<path d="M196.7,744.8 C198.1,744.8 199.52,745.07 200.9,748.5 C202.28,751.93 204.02,758.6 205,765.4 C205.98,772.2 206.65,781.35 206.8,789.3 C206.95,797.25 206.35,805.45 205.9,813.1 C205.45,820.75 204.72,827.85 204.1,835.2 C203.48,842.55 202.82,850.78 202.2,857.2 C201.58,863.62 201.32,870.95 200.4,873.7 C199.48,876.45 197.93,876.45 196.7,873.7 C195.47,870.95 194.07,863.62 193,857.2 C191.93,850.78 191.05,842.55 190.3,835.2 C189.55,827.85 189.02,820.75 188.5,813.1 C187.98,805.45 187.2,797.25 187.2,789.3 C187.2,781.35 187.62,772.2 188.5,765.4 C189.38,758.6 191.13,751.93 192.5,748.5 C193.87,745.07 195.3,744.8 196.7,744.8 Z" fill="url(#g3)"/>
<path d="M196.7,750.8 Q197.2,809.25 198.55,873.7" stroke="#cfe89a" stroke-opacity="0.3" stroke-width="0.8" fill="none"/>
<path d="M221.1,869 L225.2,869 L225,888.4 L221.5,888.4 Z" fill="url(#p1)"/>
<path d="M226.1,797.5 C227.68,797.5 229.43,798.58 230.5,801.8 C231.57,805.02 232.02,811.23 232.5,816.8 C232.98,822.37 233.4,829.08 233.4,835.2 C233.4,841.32 233.27,848.3 232.5,853.5 C231.73,858.7 230.02,863.48 228.8,866.4 C227.58,869.32 226.27,870.23 225.2,871 C224.13,871.77 223.48,871.62 222.4,871 C221.32,870.38 220.23,869.6 218.7,867.3 C217.17,865 214.57,861.03 213.2,857.2 C211.83,853.37 210.95,848.9 210.5,844.3 C210.05,839.7 209.88,834.8 210.5,829.6 C211.12,824.4 212.45,817.73 214.2,813.1 C215.95,808.47 219.02,804.4 221,801.8 C222.98,799.2 224.52,797.5 226.1,797.5 Z" fill="url(#g4)"/>
<path d="M226.1,803.5 Q221.5,834.25 223.8,871" stroke="#cfe89a" stroke-opacity="0.3" stroke-width="0.8" fill="none"/>
<path d="M243.8,860 L248,860 L250,887.5 L246.3,887.5 Z" fill="url(#p1)"/>
<path d="M250,780.1 C252,779.83 254.32,780.95 256,783.4 C257.68,785.85 259.12,789.85 260.1,794.8 C261.08,799.75 261.75,806.98 261.9,813.1 C262.05,819.22 261.62,825.98 261,831.5 C260.38,837.02 259.58,841.92 258.2,846.2 C256.82,850.48 254.38,854.45 252.7,857.2 C251.02,859.95 249.22,861.78 248.1,862.7 C246.98,863.62 246.77,863 246,862.7 C245.23,862.4 244.52,863.05 243.5,860.9 C242.48,858.75 240.97,854.08 239.9,849.8 C238.83,845.52 237.63,840.7 237.1,835.2 C236.57,829.7 236.4,822.93 236.7,816.8 C237,810.67 237.68,803.7 238.9,798.4 C240.12,793.1 242.15,788.05 244,785 C245.85,781.95 248,780.37 250,780.1 Z" fill="url(#g4b)"/>
<path d="M250,786.1 Q249.05,821.4 247.05,862.7" stroke="#cfe89a" stroke-opacity="0.3" stroke-width="0.8" fill="none"/>
<path d="M280.4,862 L285.5,862 L285,889.5 L280.4,889.5 Z" fill="#d6e4a0"/>
<path d="M278.5,752.5 C280.33,752.5 282.67,754.43 284.5,757.5 C286.33,760.57 288.2,765.6 289.5,770.9 C290.8,776.2 291.83,783.18 292.3,789.3 C292.77,795.42 292.6,801.48 292.3,807.6 C292,813.72 291.27,819.88 290.5,826 C289.73,832.12 288.47,838.48 287.7,844.3 C286.93,850.12 286.43,857.62 285.9,860.9 C285.37,864.18 285.32,863.48 284.5,864 C283.68,864.52 281.85,864.52 281,864 C280.15,863.48 280.27,864.18 279.4,860.9 C278.53,857.62 277.02,850.12 275.8,844.3 C274.58,838.48 273.18,832.12 272.1,826 C271.02,819.88 270,813.72 269.3,807.6 C268.6,801.48 267.9,795.42 267.9,789.3 C267.9,783.18 268.37,776.2 269.3,770.9 C270.23,765.6 271.97,760.57 273.5,757.5 C275.03,754.43 276.67,752.5 278.5,752.5 Z" fill="url(#g5)"/>
<path d="M278.5,758.5 Q281.3,808.25 282.75,864" stroke="#cfe89a" stroke-opacity="0.3" stroke-width="0.8" fill="none"/>
<path d="M307,861 L311.2,861 L308.8,889.5 L305.1,889.5 Z" fill="#d6e4a0"/>
<path d="M309.7,747 C311.28,746.75 312.62,748.93 314,752 C315.38,755.07 317.03,759.8 318,765.4 C318.97,771 319.65,778.57 319.8,785.6 C319.95,792.63 319.5,800.57 318.9,807.6 C318.3,814.63 316.97,821.37 316.2,827.8 C315.43,834.23 314.92,840.68 314.3,846.2 C313.68,851.72 313.05,858.1 312.5,860.9 C311.95,863.7 311.83,862.65 311,863 C310.17,863.35 308.32,863.2 307.5,863 C306.68,862.8 306.95,864.6 306.1,861.8 C305.25,859 303.63,851.87 302.4,846.2 C301.17,840.53 299.77,834.23 298.7,827.8 C297.63,821.37 296.45,814.63 296,807.6 C295.55,800.57 295.55,792.02 296,785.6 C296.45,779.18 297.28,774.45 298.7,769.1 C300.12,763.75 302.67,757.18 304.5,753.5 C306.33,749.82 308.12,747.25 309.7,747 Z" fill="url(#g5)"/>
<path d="M309.7,753 Q307.45,805 309.25,863" stroke="#cfe89a" stroke-opacity="0.3" stroke-width="0.8" fill="none"/>
<path d="M334.5,863 L340,863 L340,889.5 L335.4,889.5 Z" fill="#e4ecbc"/>
<path d="M336.4,746.7 C337.47,746.7 338.5,747.58 339.1,750.7 C339.7,753.82 340,760.5 340,765.4 C340,770.3 339.55,775.2 339.1,780.1 C338.65,785 337.45,789.9 337.3,794.8 C337.15,799.7 337.6,804.62 338.2,809.5 C338.8,814.38 340.28,819.22 340.9,824.1 C341.52,828.98 341.9,833.9 341.9,838.8 C341.9,843.7 341.22,849.22 340.9,853.5 C340.58,857.78 341.22,862.67 340,864.5 C338.78,866.33 335.13,866.33 333.6,864.5 C332.07,862.67 331.42,857.78 330.8,853.5 C330.18,849.22 329.9,843.7 329.9,838.8 C329.9,833.9 330.65,828.98 330.8,824.1 C330.95,819.22 331.1,814.38 330.8,809.5 C330.5,804.62 329,799.7 329,794.8 C329,789.9 330.5,785.92 330.8,780.1 C331.1,774.28 330.48,764.8 330.8,759.9 C331.12,755 331.77,752.9 332.7,750.7 C333.63,748.5 335.33,746.7 336.4,746.7 Z" fill="url(#g6)"/>
<path d="M336.4,752.7 Q334.5,805.6 336.8,864.5" stroke="#cfe89a" stroke-opacity="0.3" stroke-width="0.8" fill="none"/>
<path d="M345.5,857 L350.1,857 L351.6,883 L346.8,883 Z" fill="#e4ecbc"/>
<path d="M347.4,753.5 C348.32,753.5 349.33,753.92 350.1,756.2 C350.87,758.48 351.53,763.22 352,767.2 C352.47,771.18 352.9,775.5 352.9,780.1 C352.9,784.7 352,789.9 352,794.8 C352,799.7 352.75,804.62 352.9,809.5 C353.05,814.38 353.05,819.22 352.9,824.1 C352.75,828.98 352.47,833.9 352,838.8 C351.53,843.7 350.52,850.13 350.1,853.5 C349.68,856.87 350.27,858.08 349.5,859 C348.73,859.92 346.38,859.92 345.5,859 C344.62,858.08 344.35,856.87 344.2,853.5 C344.05,850.13 344.38,843.7 344.6,838.8 C344.82,833.9 345.35,828.98 345.5,824.1 C345.65,819.22 345.8,814.38 345.5,809.5 C345.2,804.62 343.92,799.7 343.7,794.8 C343.48,789.9 344.2,784.7 344.2,780.1 C344.2,775.5 343.63,771.18 343.7,767.2 C343.77,763.22 343.98,758.48 344.6,756.2 C345.22,753.92 346.48,753.5 347.4,753.5 Z" fill="url(#g6)"/>
<path d="M347.4,759.5 Q349.2,806.25 347.5,859" stroke="#cfe89a" stroke-opacity="0.3" stroke-width="0.8" fill="none"/>
<text x="76" y="907" font-size="8.8" text-anchor="middle" font-weight="bold" font-style="normal" fill="#000"><tspan font-style="italic">CRY1c</tspan> OE</text>
<text x="136.6" y="907" font-size="8.8" text-anchor="middle" font-weight="bold" font-style="normal" fill="#000">B73</text>
<text x="185.7" y="907" font-size="8.8" text-anchor="middle" font-weight="bold" font-style="normal" fill="#000"><tspan font-style="italic">cry-q</tspan></text>
<text x="239.4" y="907" font-size="8.8" text-anchor="middle" font-weight="bold" font-style="normal" fill="#000"><tspan font-style="italic">CRY1c</tspan> OE</text>
<text x="292.8" y="907" font-size="8.8" text-anchor="middle" font-weight="bold" font-style="normal" fill="#000">B73</text>
<text x="340.4" y="907" font-size="8.8" text-anchor="middle" font-weight="bold" font-style="normal" fill="#000"><tspan font-style="italic">cry-q</tspan></text>
<line x1="83.6" y1="912.2" x2="181.9" y2="912.2" stroke="#000" stroke-width="1.4"/>
<line x1="244" y1="912.2" x2="342.5" y2="912.2" stroke="#000" stroke-width="1.4"/>
<text x="128.7" y="926" font-size="8.8" text-anchor="middle" font-weight="bold" font-style="normal" fill="#000">−UV</text>
<text x="294.3" y="926" font-size="8.8" text-anchor="middle" font-weight="bold" font-style="normal" fill="#000">+UV</text>
<line x1="459.3" y1="741.3" x2="459.3" y2="877" stroke="#000" stroke-width="1.5"/>
<line x1="458.5" y1="877" x2="621.5" y2="877" stroke="#000" stroke-width="1.4"/>
<line x1="450.1" y1="877" x2="459.3" y2="877" stroke="#000" stroke-width="1.3"/>
<text x="446.9" y="880.1" font-size="8.6" text-anchor="end" font-weight="bold" font-style="normal" fill="#000">0.0</text>
<line x1="450.1" y1="850.05" x2="459.3" y2="850.05" stroke="#000" stroke-width="1.3"/>
<text x="446.9" y="853.15" font-size="8.6" text-anchor="end" font-weight="bold" font-style="normal" fill="#000">0.2</text>
<line x1="450.1" y1="823.1" x2="459.3" y2="823.1" stroke="#000" stroke-width="1.3"/>
<text x="446.9" y="826.2" font-size="8.6" text-anchor="end" font-weight="bold" font-style="normal" fill="#000">0.4</text>
<line x1="450.1" y1="796.15" x2="459.3" y2="796.15" stroke="#000" stroke-width="1.3"/>
<text x="446.9" y="799.25" font-size="8.6" text-anchor="end" font-weight="bold" font-style="normal" fill="#000">0.6</text>
<line x1="450.1" y1="769.2" x2="459.3" y2="769.2" stroke="#000" stroke-width="1.3"/>
<text x="446.9" y="772.3" font-size="8.6" text-anchor="end" font-weight="bold" font-style="normal" fill="#000">0.8</text>
<line x1="450.1" y1="742.25" x2="459.3" y2="742.25" stroke="#000" stroke-width="1.3"/>
<text x="446.9" y="745.35" font-size="8.6" text-anchor="end" font-weight="bold" font-style="normal" fill="#000">1.0</text>
<rect x="468.7" y="773.24" width="17.5" height="103.76" fill="#0a28ff" stroke="#000" stroke-width="0.8"/>
<rect x="490" y="773.24" width="17.5" height="103.76" fill="#0a8cff" stroke="#000" stroke-width="0.8"/>
<rect x="512.5" y="778.63" width="17.5" height="98.37" fill="#00ffff" stroke="#000" stroke-width="0.8"/>
<rect x="551.8" y="778.63" width="17.5" height="98.37" fill="#0a28ff" stroke="#000" stroke-width="0.8"/>
<rect x="573.5" y="808.28" width="17.5" height="68.72" fill="#0a8cff" stroke="#000" stroke-width="0.8"/>
<rect x="595" y="857.33" width="17.5" height="19.67" fill="#00ffff" stroke="#000" stroke-width="0.8"/>
<line x1="603.8" y1="857.3" x2="603.8" y2="827" stroke="#000" stroke-width="0.9"/>
<line x1="601.3" y1="827" x2="606.3" y2="827" stroke="#000" stroke-width="0.9"/>
<line x1="582.2" y1="808.2" x2="582.2" y2="793" stroke="#000" stroke-width="0.9"/>
<line x1="579.7" y1="793" x2="584.7" y2="793" stroke="#000" stroke-width="0.9"/>
<line x1="560.6" y1="777.7" x2="560.6" y2="772" stroke="#000" stroke-width="0.9"/>
<line x1="558.1" y1="772" x2="563.1" y2="772" stroke="#000" stroke-width="0.9"/>
<line x1="603.8" y1="857.3" x2="603.8" y2="877" stroke="#000" stroke-width="0.9"/>
<circle cx="470.1" cy="773.6" r="1.9" fill="#fff" stroke="#000" stroke-width="0.8"/>
<circle cx="474.5" cy="772.8" r="1.9" fill="#fff" stroke="#000" stroke-width="0.8"/>
<circle cx="478.9" cy="773.4" r="1.9" fill="#fff" stroke="#000" stroke-width="0.8"/>
<circle cx="483.3" cy="772.8" r="1.9" fill="#fff" stroke="#000" stroke-width="0.8"/>
<circle cx="485.3" cy="774.6" r="1.9" fill="#fff" stroke="#000" stroke-width="0.8"/>
<circle cx="492" cy="773.2" r="1.9" fill="#fff" stroke="#000" stroke-width="0.8"/>
<circle cx="496.4" cy="772.6" r="1.9" fill="#fff" stroke="#000" stroke-width="0.8"/>
<circle cx="500.8" cy="773.2" r="1.9" fill="#fff" stroke="#000" stroke-width="0.8"/>
<circle cx="505.2" cy="772.6" r="1.9" fill="#fff" stroke="#000" stroke-width="0.8"/>
<circle cx="507" cy="774.8" r="1.9" fill="#fff" stroke="#000" stroke-width="0.8"/>
<circle cx="513.5" cy="777.5" r="1.9" fill="#fff" stroke="#000" stroke-width="0.8"/>
<circle cx="517.5" cy="779" r="1.9" fill="#fff" stroke="#000" stroke-width="0.8"/>
<circle cx="521.5" cy="778.5" r="1.9" fill="#fff" stroke="#000" stroke-width="0.8"/>
<circle cx="525.5" cy="779.2" r="1.9" fill="#fff" stroke="#000" stroke-width="0.8"/>
<circle cx="528.5" cy="778.6" r="1.9" fill="#fff" stroke="#000" stroke-width="0.8"/>
<circle cx="514.5" cy="782" r="1.9" fill="#fff" stroke="#000" stroke-width="0.8"/>
<circle cx="554" cy="778.5" r="1.9" fill="#fff" stroke="#000" stroke-width="0.8"/>
<circle cx="558" cy="775.8" r="1.9" fill="#fff" stroke="#000" stroke-width="0.8"/>
<circle cx="562.1" cy="777.7" r="1.9" fill="#fff" stroke="#000" stroke-width="0.8"/>
<circle cx="566.2" cy="778.5" r="1.9" fill="#fff" stroke="#000" stroke-width="0.8"/>
<circle cx="555.4" cy="782" r="1.9" fill="#fff" stroke="#000" stroke-width="0.8"/>
<circle cx="560.8" cy="781.2" r="1.9" fill="#fff" stroke="#000" stroke-width="0.8"/>
<circle cx="564.8" cy="781.2" r="1.9" fill="#fff" stroke="#000" stroke-width="0.8"/>
<circle cx="560" cy="788" r="1.9" fill="#fff" stroke="#000" stroke-width="0.8"/>
<circle cx="575.6" cy="794.1" r="1.9" fill="#fff" stroke="#000" stroke-width="0.8"/>
<circle cx="581.8" cy="793.3" r="1.9" fill="#fff" stroke="#000" stroke-width="0.8"/>
<circle cx="588.3" cy="796" r="1.9" fill="#fff" stroke="#000" stroke-width="0.8"/>
<circle cx="577" cy="800.9" r="1.9" fill="#fff" stroke="#000" stroke-width="0.8"/>
<circle cx="582.4" cy="805.5" r="1.9" fill="#fff" stroke="#000" stroke-width="0.8"/>
<circle cx="575.6" cy="809.5" r="1.9" fill="#fff" stroke="#000" stroke-width="0.8"/>
<circle cx="581.8" cy="809.5" r="1.9" fill="#fff" stroke="#000" stroke-width="0.8"/>
<circle cx="587.8" cy="809.5" r="1.9" fill="#fff" stroke="#000" stroke-width="0.8"/>
<circle cx="575.6" cy="816.3" r="1.9" fill="#fff" stroke="#000" stroke-width="0.8"/>
<circle cx="581.8" cy="817.1" r="1.9" fill="#fff" stroke="#000" stroke-width="0.8"/>
<circle cx="588.3" cy="817.1" r="1.9" fill="#fff" stroke="#000" stroke-width="0.8"/>
<circle cx="582.4" cy="823" r="1.9" fill="#fff" stroke="#000" stroke-width="0.8"/>
<circle cx="600.5" cy="827.9" r="1.9" fill="#fff" stroke="#000" stroke-width="0.8"/>
<circle cx="606.7" cy="827.9" r="1.9" fill="#fff" stroke="#000" stroke-width="0.8"/>
<circle cx="603.4" cy="833.8" r="1.9" fill="#fff" stroke="#000" stroke-width="0.8"/>
<circle cx="603.4" cy="846" r="1.9" fill="#fff" stroke="#000" stroke-width="0.8"/>
<circle cx="597.5" cy="877" r="1.9" fill="#fff" stroke="#000" stroke-width="0.8"/>
<circle cx="600.8" cy="877" r="1.9" fill="#fff" stroke="#000" stroke-width="0.8"/>
<circle cx="604.1" cy="877" r="1.9" fill="#fff" stroke="#000" stroke-width="0.8"/>
<circle cx="607.4" cy="877" r="1.9" fill="#fff" stroke="#000" stroke-width="0.8"/>
<circle cx="610.5" cy="877" r="1.9" fill="#fff" stroke="#000" stroke-width="0.8"/>
<line x1="498.8" y1="877" x2="498.8" y2="885" stroke="#000" stroke-width="1"/>
<text x="498.8" y="899.3" font-size="8.8" text-anchor="middle" font-weight="bold" font-style="normal" fill="#000">−UV</text>
<line x1="581.8" y1="877" x2="581.8" y2="885" stroke="#000" stroke-width="1"/>
<text x="581.8" y="899.3" font-size="8.8" text-anchor="middle" font-weight="bold" font-style="normal" fill="#000">+UV</text>
<text x="427.2" y="807.6" font-size="8.8" text-anchor="middle" font-weight="bold" font-style="normal" fill="#000" transform="rotate(-90 427.2 807.6)">Fv/Fm</text>
<text x="407" y="739" font-size="12" text-anchor="middle" font-weight="bold" font-style="normal" fill="#000">d</text>
<rect x="621" y="738.2" width="6" height="6" fill="#0a28ff" stroke="#000" stroke-width="0.6"/>
<text x="635.6" y="744.4" font-size="8.8" text-anchor="start" font-weight="bold" font-style="normal" fill="#000"><tspan font-style="italic">CRY1c</tspan> OE</text>
<rect x="621" y="750.5" width="6" height="6" fill="#0a8cff" stroke="#000" stroke-width="0.6"/>
<text x="635.6" y="756.7" font-size="8.8" text-anchor="start" font-weight="bold" font-style="normal" fill="#000">B73</text>
<rect x="621" y="762.8" width="6" height="6" fill="#00ffff" stroke="#000" stroke-width="0.6"/>
<text x="635.6" y="769" font-size="8.8" text-anchor="start" font-weight="bold" font-style="normal" fill="#000"><tspan font-style="italic">cry-q</tspan></text>
<text x="477.5" y="765" font-size="8.8" text-anchor="middle" font-weight="bold" font-style="normal" fill="#000">A</text>
<text x="498.8" y="765" font-size="8.8" text-anchor="middle" font-weight="bold" font-style="normal" fill="#000">A</text>
<text x="521.2" y="765" font-size="8.8" text-anchor="middle" font-weight="bold" font-style="normal" fill="#000">A</text>
<text x="560.6" y="769" font-size="8.8" text-anchor="middle" font-weight="bold" font-style="normal" fill="#000">a</text>
<text x="582.2" y="788" font-size="8.8" text-anchor="middle" font-weight="bold" font-style="normal" fill="#000">b</text>
<text x="603.8" y="824.5" font-size="8.8" text-anchor="middle" font-weight="bold" font-style="normal" fill="#000">c</text>
</svg></body></html>
